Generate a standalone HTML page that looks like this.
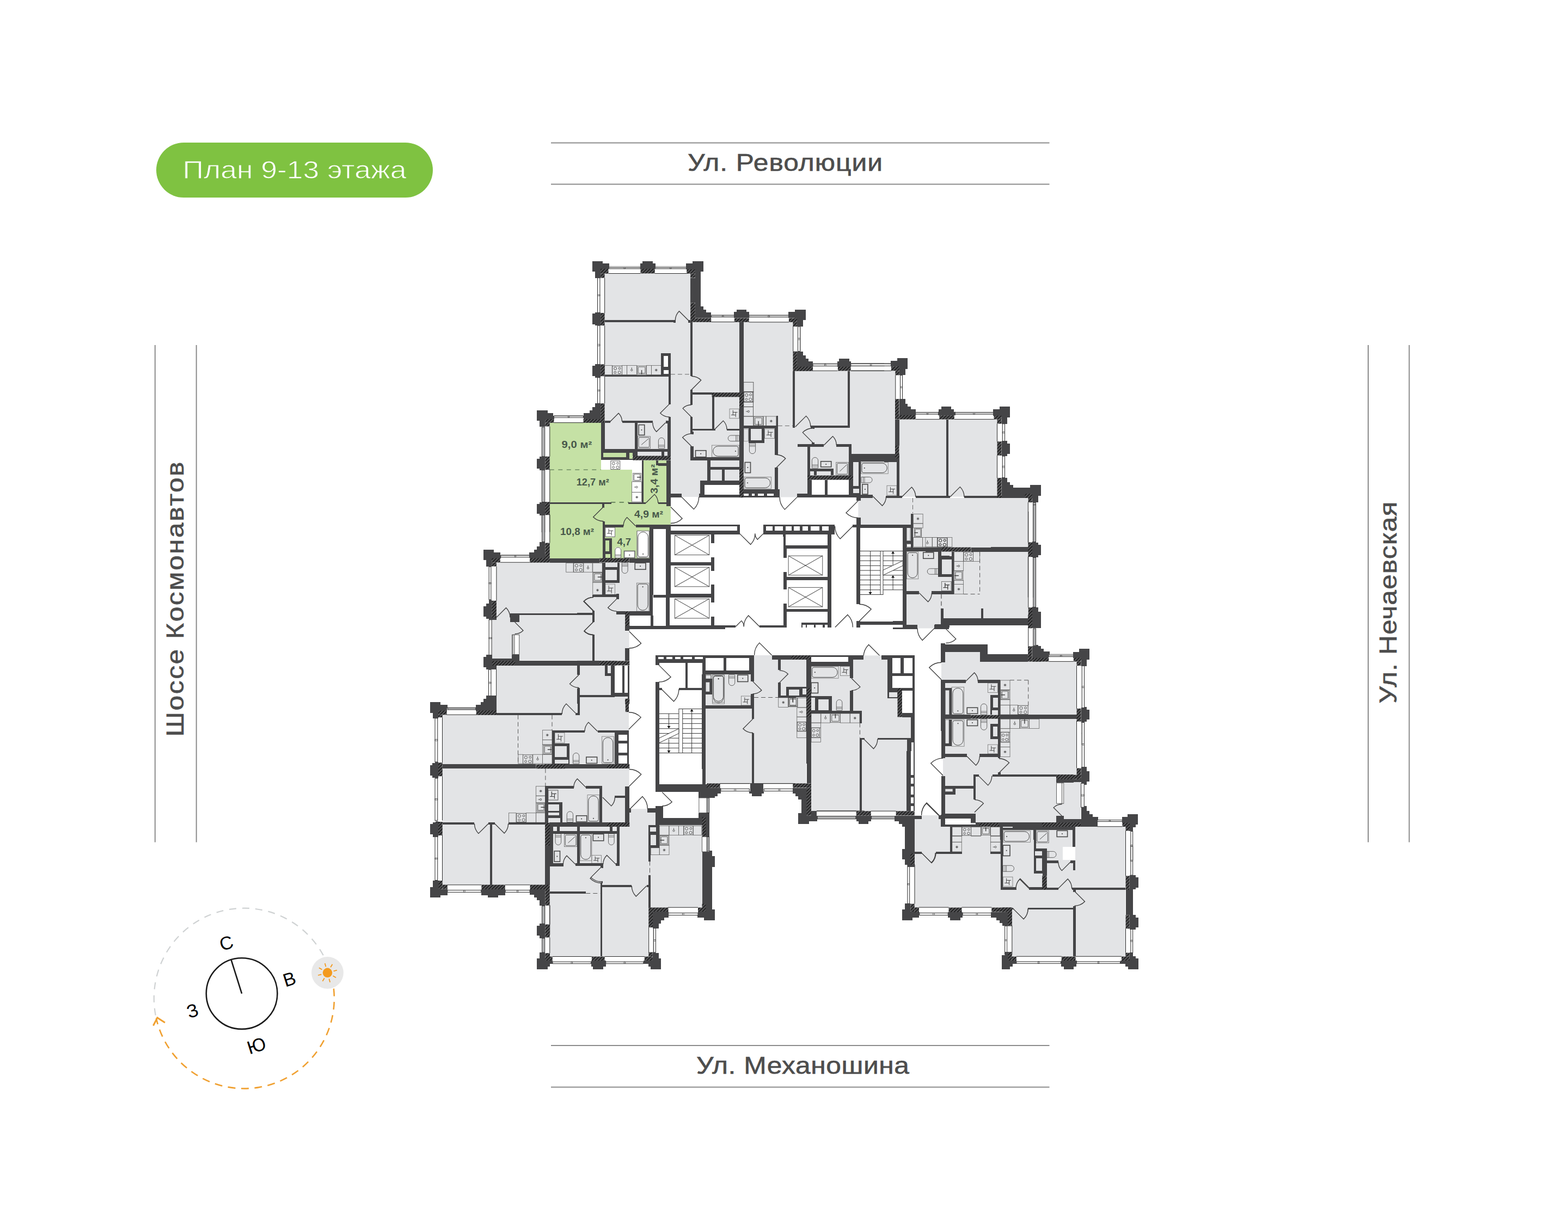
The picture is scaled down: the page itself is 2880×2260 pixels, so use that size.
<!DOCTYPE html>
<html lang="ru"><head><meta charset="utf-8"><title>План 9-13 этажа</title>
<style>
html,body{margin:0;padding:0;background:#fff;}
body{width:2880px;height:2260px;overflow:hidden;}
svg{display:block;}
text{font-family:"Liberation Sans",sans-serif;}
</style></head><body>
<svg xmlns="http://www.w3.org/2000/svg" width="2880" height="2260" viewBox="0 0 2880 2260">
<rect width="2880" height="2260" fill="#fff"/>
<g id="base">
<rect x="287" y="262" width="508" height="101" rx="50.5" fill="#7fc241"/>
<text x="541" y="327.5" font-size="47" fill="#fff" stroke="#7fc241" stroke-width="0.9" text-anchor="middle" textLength="411" lengthAdjust="spacingAndGlyphs">План 9-13 этажа</text>
<rect x="1012" y="261.5" width="915.5" height="2" fill="#8c8c8c"/>
<rect x="1012" y="337.5" width="915.5" height="2" fill="#8c8c8c"/>
<rect x="1012" y="1920" width="915.5" height="2" fill="#8c8c8c"/>
<rect x="1012" y="1996.5" width="915.5" height="2" fill="#8c8c8c"/>
<rect x="283.8" y="634" width="2" height="913.5" fill="#8c8c8c"/>
<rect x="359.7" y="634" width="2" height="913.5" fill="#8c8c8c"/>
<rect x="2512" y="634" width="2" height="913.5" fill="#8c8c8c"/>
<rect x="2587.4" y="634" width="2" height="913.5" fill="#8c8c8c"/>
<text transform="translate(1442,313.5) scale(1.13,1)" font-size="44" fill="#4d4d4d" stroke="#4d4d4d" stroke-width="0.6" text-anchor="middle" lengthAdjust="spacing" textLength="316.8">Ул. Революции</text>
<text transform="translate(1474.5,1973.3) scale(1.13,1)" font-size="44" fill="#4d4d4d" stroke="#4d4d4d" stroke-width="0.6" text-anchor="middle" lengthAdjust="spacing" textLength="346.0">Ул. Механошина</text>
<text transform="translate(336.5,1101) rotate(-90) scale(1.13,1)" font-size="44" fill="#4d4d4d" stroke="#4d4d4d" stroke-width="0.6" text-anchor="middle" lengthAdjust="spacing" textLength="446.9">Шоссе Космонавтов</text>
<text transform="translate(2565,1107) rotate(-90) scale(1.13,1)" font-size="44" fill="#4d4d4d" stroke="#4d4d4d" stroke-width="0.6" text-anchor="middle" lengthAdjust="spacing" textLength="328.3">Ул. Нечаевская</text>
</g>
<g id="compass">
<path d="M593.8,1755.3 A165.5,165.5 0 0 0 286.2,1867.5" fill="none" stroke="#cfd2d3" stroke-width="2.2" stroke-dasharray="13 11"/>
<path d="M612.9,1816.5 A165.5,165.5 0 0 1 286.9,1870.8" fill="none" stroke="#f0a030" stroke-width="2.6" stroke-dasharray="14 10.5"/>
<path d="M281.5,1884.5 L289,1870 L303,1879" fill="none" stroke="#f0a030" stroke-width="3"/>
<circle cx="601.5" cy="1787.3" r="29.4" fill="#e8e8e8"/>
<circle cx="601.5" cy="1787.3" r="8.7" fill="#f39a1e"/>
<line x1="612.6" y1="1784.3" x2="618.9" y2="1782.6" stroke="#f39a1e" stroke-width="1.8"/>
<line x1="611.5" y1="1793.0" x2="617.1" y2="1796.3" stroke="#f39a1e" stroke-width="1.8"/>
<line x1="604.5" y1="1798.4" x2="606.2" y2="1804.7" stroke="#f39a1e" stroke-width="1.8"/>
<line x1="595.8" y1="1797.3" x2="592.5" y2="1802.9" stroke="#f39a1e" stroke-width="1.8"/>
<line x1="590.4" y1="1790.3" x2="584.1" y2="1792.0" stroke="#f39a1e" stroke-width="1.8"/>
<line x1="591.5" y1="1781.5" x2="585.9" y2="1778.3" stroke="#f39a1e" stroke-width="1.8"/>
<line x1="598.5" y1="1776.2" x2="596.8" y2="1769.9" stroke="#f39a1e" stroke-width="1.8"/>
<line x1="607.2" y1="1777.3" x2="610.5" y2="1771.7" stroke="#f39a1e" stroke-width="1.8"/>
<circle cx="444.1" cy="1825.6" r="65.3" fill="none" stroke="#1a1a1a" stroke-width="2.6"/>
<line x1="444.1" y1="1825.6" x2="424.6" y2="1763.5" stroke="#1a1a1a" stroke-width="2.6"/>
<text transform="translate(415.5,1732.5) rotate(-17.5)" font-size="34" fill="#000" text-anchor="middle" dominant-baseline="central">С</text>
<text transform="translate(531.5,1799) rotate(-17.5)" font-size="34" fill="#000" text-anchor="middle" dominant-baseline="central">В</text>
<text transform="translate(353.5,1857) rotate(-17.5)" font-size="34" fill="#000" text-anchor="middle" dominant-baseline="central">З</text>
<text transform="translate(471,1921) rotate(-17.5)" font-size="34" fill="#000" text-anchor="middle" dominant-baseline="central">Ю</text>
</g>
<g id="plan" style="opacity:0.999">
<defs><pattern id="hatch" width="4.2" height="4.2" patternUnits="userSpaceOnUse" patternTransform="rotate(-45)"><rect width="5" height="5" fill="#555557"/><rect width="5" height="1.5" fill="#141414"/></pattern></defs>
<g id="L-gray" shape-rendering="crispEdges">
<rect x="1110.62" y="502.75" width="157.5" height="180.38" fill="#e3e4e6"/>
<rect x="1268.12" y="591.88" width="84.0" height="91.25" fill="#e3e4e6"/>
<rect x="1110.62" y="660.0" width="121.25" height="170.0" fill="#e3e4e6"/>
<rect x="1231.88" y="660.0" width="36.25" height="213.12" fill="#e3e4e6"/>
<rect x="1268.12" y="660.0" width="84.0" height="213.12" fill="#e3e4e6"/>
<rect x="1352.0" y="591.88" width="104.38" height="181.25" fill="#e3e4e6"/>
<rect x="1460.12" y="681.5" width="164.0" height="91.62" fill="#e3e4e6"/>
<rect x="1352.0" y="773.0" width="272.12" height="141.25" fill="#e3e4e6"/>
<rect x="1573.25" y="914.25" width="50.88" height="50.0" fill="#e3e4e6"/>
<rect x="960.0" y="1033.5" width="232.5" height="59.62" fill="#e3e4e6"/>
<rect x="1581.38" y="940.0" width="95.62" height="23.75" fill="#e3e4e6"/>
<rect x="1665.12" y="940.0" width="79.0" height="213.12" fill="#e3e4e6"/>
<rect x="1651.5" y="770.62" width="180.0" height="140.62" fill="#e3e4e6"/>
<rect x="1624.0" y="915.0" width="264.38" height="28.12" fill="#e3e4e6"/>
<rect x="1624.0" y="730.0" width="20.0" height="104.38" fill="#e3e4e6"/>
<rect x="1624.0" y="848.75" width="23.12" height="61.88" fill="#e3e4e6"/>
<rect x="1820.0" y="914.75" width="68.12" height="158.38" fill="#e3e4e6"/>
<rect x="1700.0" y="940.0" width="188.75" height="196.88" fill="#e3e4e6"/>
<rect x="1665.0" y="1130.0" width="63.12" height="25.0" fill="#e3e4e6"/>
<rect x="1731.88" y="1130.0" width="156.25" height="5.62" fill="#e3e4e6"/>
<rect x="1736.25" y="1198.12" width="63.75" height="51.88" fill="#e3e4e6"/>
<rect x="1728.75" y="1215.62" width="183.38" height="127.5" fill="#e3e4e6"/>
<rect x="1860.0" y="1215.62" width="117.25" height="127.5" fill="#e3e4e6"/>
<rect x="1728.75" y="1330.0" width="243.38" height="213.12" fill="#e3e4e6"/>
<rect x="1700.0" y="1496.88" width="28.75" height="46.25" fill="#e3e4e6"/>
<rect x="1560.0" y="681.25" width="84.38" height="131.88" fill="#e3e4e6"/>
<rect x="1231.88" y="873.0" width="126.25" height="40.75" fill="#e3e4e6"/>
<rect x="911.88" y="1033.5" width="194.38" height="179.62" fill="#e3e4e6"/>
<rect x="903.75" y="1138.75" width="36.25" height="74.38" fill="#e3e4e6"/>
<rect x="1092.25" y="1096.25" width="39.88" height="116.88" fill="#e3e4e6"/>
<rect x="1060.0" y="1080.0" width="88.12" height="134.38" fill="#e3e4e6"/>
<rect x="1130.0" y="1080.0" width="62.5" height="43.12" fill="#e3e4e6"/>
<rect x="1060.0" y="1222.5" width="62.5" height="70.62" fill="#e3e4e6"/>
<rect x="1060.0" y="1280.0" width="88.12" height="13.12" fill="#e3e4e6"/>
<rect x="1148.12" y="1160.0" width="8.12" height="31.25" fill="#e3e4e6"/>
<rect x="1295.62" y="1239.38" width="36.5" height="53.75" fill="#e3e4e6"/>
<rect x="911.88" y="1222.75" width="218.12" height="180.38" fill="#e3e4e6"/>
<rect x="860.0" y="1313.75" width="51.88" height="89.38" fill="#e3e4e6"/>
<rect x="1065.0" y="1280.62" width="90.0" height="61.0" fill="#e3e4e6"/>
<rect x="812.75" y="1313.5" width="239.38" height="90.88" fill="#e3e4e6"/>
<rect x="812.75" y="1412.25" width="239.38" height="70.88" fill="#e3e4e6"/>
<rect x="1000.0" y="1411.88" width="156.25" height="99.38" fill="#e3e4e6"/>
<rect x="1156.25" y="1485.62" width="48.75" height="127.5" fill="#e3e4e6"/>
<rect x="1009.38" y="1518.75" width="262.75" height="94.38" fill="#e3e4e6"/>
<rect x="1205.0" y="1515.62" width="67.12" height="97.5" fill="#e3e4e6"/>
<rect x="1296.0" y="1239.38" width="166.12" height="173.75" fill="#e3e4e6"/>
<rect x="1385.0" y="1204.38" width="77.12" height="208.75" fill="#e3e4e6"/>
<rect x="1440.0" y="1211.88" width="240.0" height="191.25" fill="#e3e4e6"/>
<rect x="812.75" y="1480.0" width="188.5" height="145.62" fill="#e3e4e6"/>
<rect x="1009.75" y="1591.88" width="42.38" height="101.25" fill="#e3e4e6"/>
<rect x="1009.75" y="1591.25" width="181.5" height="166.0" fill="#e3e4e6"/>
<rect x="1195.0" y="1570.0" width="37.12" height="97.5" fill="#e3e4e6"/>
<rect x="1102.5" y="1570.0" width="92.5" height="57.5" fill="#e3e4e6"/>
<rect x="1210.75" y="1516.25" width="78.75" height="116.88" fill="#e3e4e6"/>
<rect x="1295.75" y="1412.5" width="148.38" height="26.88" fill="#e3e4e6"/>
<rect x="1195.12" y="1560.0" width="94.38" height="107.25" fill="#e3e4e6"/>
<rect x="1300.0" y="1387.5" width="181.25" height="51.88" fill="#e3e4e6"/>
<rect x="1490.0" y="1387.5" width="82.12" height="102.5" fill="#e3e4e6"/>
<rect x="1489.75" y="1380.0" width="175.25" height="110.25" fill="#e3e4e6"/>
<rect x="1680.0" y="1497.5" width="48.75" height="95.62" fill="#e3e4e6"/>
<rect x="1860.0" y="1343.0" width="117.25" height="80.0" fill="#e3e4e6"/>
<rect x="1953.75" y="1437.38" width="31.25" height="68.12" fill="#e3e4e6"/>
<rect x="1975.0" y="1519.0" width="92.5" height="61.5" fill="#e3e4e6"/>
<rect x="1860.0" y="1524.25" width="110.0" height="31.88" fill="#e3e4e6"/>
<rect x="1680.0" y="1518.75" width="272.12" height="148.12" fill="#e3e4e6"/>
<rect x="1858.75" y="1666.88" width="93.38" height="46.25" fill="#e3e4e6"/>
<rect x="1840.0" y="1580.0" width="227.25" height="87.5" fill="#e3e4e6"/>
<rect x="1858.75" y="1667.5" width="208.5" height="89.75" fill="#e3e4e6"/>
<rect x="1680.0" y="1567.5" width="157.5" height="99.75" fill="#e3e4e6"/>
</g>
<g id="L-white" shape-rendering="crispEdges">
<rect x="1103.75" y="846.0" width="75.0" height="17.12" fill="#fff"/>
<rect x="1103.75" y="846.0" width="68.38" height="17.12" fill="#fff"/>
<rect x="1160.62" y="863.12" width="11.5" height="59.38" fill="#fff"/>
<rect x="1160.62" y="871.25" width="17.88" height="50.62" fill="#fff"/>
<rect x="1200.0" y="971.88" width="23.75" height="121.25" fill="#fff"/>
<rect x="1579.75" y="969.75" width="78.5" height="171.75" fill="#fff"/>
<rect x="1129.38" y="1222.5" width="23.75" height="50.0" fill="#fff"/>
<rect x="1210.62" y="1268.12" width="78.75" height="145.0" fill="#fff"/>
</g>
<g id="L-green" shape-rendering="crispEdges">
<rect x="1080.0" y="776.25" width="23.75" height="96.88" fill="#c5e1a5"/>
<rect x="1103.75" y="863.12" width="56.88" height="10.0" fill="#c5e1a5"/>
<rect x="1181.88" y="845.62" width="41.88" height="27.5" fill="#c5e1a5"/>
<rect x="1009.75" y="776.88" width="94.0" height="86.25" fill="#c5e1a5"/>
<rect x="1009.75" y="863.12" width="150.88" height="59.38" fill="#c5e1a5"/>
<rect x="1009.75" y="926.25" width="162.38" height="26.88" fill="#c5e1a5"/>
<rect x="1009.75" y="880.0" width="150.88" height="42.5" fill="#c5e1a5"/>
<rect x="1181.88" y="871.25" width="41.88" height="51.25" fill="#c5e1a5"/>
<rect x="1009.75" y="926.0" width="96.75" height="99.62" fill="#c5e1a5"/>
<rect x="1106.5" y="922.5" width="125.62" height="42.5" fill="#c5e1a5"/>
<rect x="1110.62" y="964.38" width="81.88" height="61.25" fill="#c5e1a5"/>
</g>
<g id="L-fix" shape-rendering="auto">
<rect x="1118.12" y="491.5" width="58.12" height="2.25" fill="#fff" stroke="#2a2a2a" stroke-width="1.0"/>
<line x1="1118.12" y1="489.5" x2="1176.25" y2="489.5" stroke="#9a9a9a" stroke-width="1.0"/>
<rect x="1145.99" y="491.5" width="2.4" height="2.25" fill="none" stroke="#2a2a2a" stroke-width="0.7"/>
<line x1="1117.5" y1="502.5" x2="1176.5" y2="502.5" stroke="#2a2a2a" stroke-width="1.0"/>
<rect x="1202.25" y="491.5" width="59.0" height="2.25" fill="#fff" stroke="#2a2a2a" stroke-width="1.0"/>
<line x1="1202.25" y1="489.5" x2="1261.25" y2="489.5" stroke="#9a9a9a" stroke-width="1.0"/>
<rect x="1230.55" y="491.5" width="2.4" height="2.25" fill="none" stroke="#2a2a2a" stroke-width="0.7"/>
<line x1="1202.75" y1="502.5" x2="1261.5" y2="502.5" stroke="#2a2a2a" stroke-width="1.0"/>
<rect x="1306.25" y="580.0" width="43.12" height="2.5" fill="#fff" stroke="#2a2a2a" stroke-width="1.0"/>
<line x1="1306.25" y1="578.5" x2="1349.38" y2="578.5" stroke="#9a9a9a" stroke-width="1.0"/>
<rect x="1326.61" y="580.0" width="2.4" height="2.5" fill="none" stroke="#2a2a2a" stroke-width="0.7"/>
<line x1="1306.25" y1="591.5" x2="1350.0" y2="591.5" stroke="#2a2a2a" stroke-width="1.0"/>
<rect x="1097.5" y="510.62" width="4.38" height="63.75" fill="#fff" stroke="#2a2a2a" stroke-width="1.0"/>
<rect x="1097.5" y="541.3" width="4.38" height="2.4" fill="none" stroke="#2a2a2a" stroke-width="0.7"/>
<line x1="1110.62" y1="510.62" x2="1110.62" y2="575.0" stroke="#2a2a2a" stroke-width="1.0"/>
<rect x="1097.5" y="598.12" width="4.38" height="71.88" fill="#fff" stroke="#2a2a2a" stroke-width="1.0"/>
<rect x="1097.5" y="632.86" width="4.38" height="2.4" fill="none" stroke="#2a2a2a" stroke-width="0.7"/>
<line x1="1110.62" y1="598.12" x2="1110.62" y2="670.0" stroke="#2a2a2a" stroke-width="1.0"/>
<rect x="1097.5" y="693.75" width="4.38" height="47.5" fill="#fff" stroke="#2a2a2a" stroke-width="1.0"/>
<rect x="1097.5" y="716.3" width="4.38" height="2.4" fill="none" stroke="#2a2a2a" stroke-width="0.7"/>
<line x1="1110.62" y1="691.25" x2="1110.62" y2="741.25" stroke="#2a2a2a" stroke-width="1.0"/>
<rect x="1110.62" y="671.5" width="13.75" height="17.0" fill="none" stroke="#666" stroke-width="0.8"/>
<rect x="1124.75" y="672.25" width="17.75" height="15.88" fill="none" stroke="#3b3b3b" stroke-width="0.8"/>
<circle cx="1130.08" cy="677.01" r="2.54" fill="none" stroke="#3b3b3b" stroke-width="0.8"/>
<circle cx="1138.06" cy="676.7" r="1.91" fill="none" stroke="#3b3b3b" stroke-width="0.8"/>
<circle cx="1129.72" cy="684.16" r="1.91" fill="none" stroke="#3b3b3b" stroke-width="0.8"/>
<circle cx="1137.71" cy="684.16" r="2.54" fill="none" stroke="#3b3b3b" stroke-width="0.8"/>
<rect x="1142.5" y="671.5" width="9.0" height="17.0" fill="none" stroke="#666" stroke-width="0.8"/>
<rect x="1151.5" y="671.5" width="17.88" height="17.0" fill="none" stroke="#666" stroke-width="0.8"/>
<circle cx="1160.25" cy="680.0" r="1.6" fill="none" stroke="#3b3b3b" stroke-width="0.8"/>
<line x1="1160.25" y1="678.4" x2="1160.25" y2="675.2" stroke="#3b3b3b" stroke-width="0.8"/>
<rect x="1170.25" y="672.25" width="16.62" height="15.5" fill="none" stroke="#555" stroke-width="0.8"/>
<rect x="1172.24" y="674.25" width="12.63" height="11.51" fill="none" stroke="#777" stroke-width="1.2" rx="1.0"/>
<line x1="1178.56" y1="680.0" x2="1178.56" y2="687.75" stroke="#3b3b3b" stroke-width="1.4"/>
<rect x="1187.5" y="671.5" width="9.0" height="17.0" fill="none" stroke="#666" stroke-width="0.8"/>
<rect x="1196.5" y="671.5" width="17.88" height="17.0" fill="none" stroke="#666" stroke-width="0.8"/>
<line x1="1202.75" y1="680.0" x2="1207.75" y2="680.0" stroke="#3b3b3b" stroke-width="0.7"/>
<line x1="1203.48" y1="678.23" x2="1207.02" y2="681.77" stroke="#3b3b3b" stroke-width="0.7"/>
<line x1="1205.25" y1="677.5" x2="1205.25" y2="682.5" stroke="#3b3b3b" stroke-width="0.7"/>
<line x1="1207.02" y1="678.23" x2="1203.48" y2="681.77" stroke="#3b3b3b" stroke-width="0.7"/>
<line x1="1231.88" y1="687.75" x2="1268.12" y2="687.75" stroke="#6a6a6a" stroke-width="1.0" stroke-dasharray="8 5"/>
<rect x="1340.0" y="751.25" width="17.5" height="17.5" fill="none" stroke="#777" stroke-width="0.8"/>
<rect x="1346.3" y="757.55" width="4.9" height="4.9" fill="none" stroke="#3b3b3b" stroke-width="0.9"/>
<line x1="1342.97" y1="762.45" x2="1346.3" y2="762.45" stroke="#3b3b3b" stroke-width="0.9"/>
<line x1="1351.2" y1="757.55" x2="1354.53" y2="757.55" stroke="#3b3b3b" stroke-width="0.9"/>
<line x1="1346.3" y1="757.55" x2="1346.3" y2="753.7" stroke="#3b3b3b" stroke-width="0.9"/>
<line x1="1351.2" y1="762.45" x2="1351.2" y2="766.3" stroke="#3b3b3b" stroke-width="0.9"/>
<rect x="1173.12" y="780.62" width="10.62" height="18.75" fill="none" stroke="#4a4a4a" stroke-width="1.6"/>
<circle cx="1178.44" cy="790.0" r="1.0" fill="#3b3b3b"/>
<rect x="1171.25" y="801.88" width="23.12" height="21.88" fill="none" stroke="#666" stroke-width="0.8"/>
<rect x="1173.1" y="803.73" width="19.43" height="18.18" fill="none" stroke="#3b3b3b" stroke-width="0.8" rx="1.85"/>
<line x1="1178.19" y1="817.19" x2="1190.91" y2="806.25" stroke="#3b3b3b" stroke-width="0.9"/>
<path d="M1209.38,823.75 L1209.38,810.0 A5.62,5.62 0 0 1 1220.62,810.0 L1220.62,823.75 Z" fill="none" stroke="#555" stroke-width="0.9"/>
<line x1="1209.38" y1="817.94" x2="1220.62" y2="817.94" stroke="#555" stroke-width="0.8"/>
<line x1="1209.38" y1="820.26" x2="1220.62" y2="820.26" stroke="#555" stroke-width="0.8"/>
<rect x="1121.88" y="846.88" width="16.88" height="15.62" fill="none" stroke="#3b3b3b" stroke-width="0.8"/>
<circle cx="1126.94" cy="851.56" r="2.5" fill="none" stroke="#3b3b3b" stroke-width="0.8"/>
<circle cx="1134.53" cy="851.25" r="1.88" fill="none" stroke="#3b3b3b" stroke-width="0.8"/>
<circle cx="1126.6" cy="858.59" r="1.88" fill="none" stroke="#3b3b3b" stroke-width="0.8"/>
<circle cx="1134.19" cy="858.59" r="2.5" fill="none" stroke="#3b3b3b" stroke-width="0.8"/>
<rect x="1375.75" y="580.0" width="72.75" height="2.75" fill="#fff" stroke="#2a2a2a" stroke-width="1.0"/>
<line x1="1375.75" y1="578.5" x2="1448.5" y2="578.5" stroke="#9a9a9a" stroke-width="1.0"/>
<rect x="1410.92" y="580.0" width="2.4" height="2.75" fill="none" stroke="#2a2a2a" stroke-width="0.7"/>
<line x1="1375.75" y1="591.88" x2="1448.88" y2="591.88" stroke="#2a2a2a" stroke-width="1.0"/>
<rect x="1465.5" y="600.0" width="4.0" height="45.62" fill="#fff" stroke="#2a2a2a" stroke-width="1.0"/>
<line x1="1470.25" y1="600.0" x2="1470.25" y2="645.62" stroke="#9a9a9a" stroke-width="1.0"/>
<rect x="1465.5" y="621.61" width="4.0" height="2.4" fill="none" stroke="#2a2a2a" stroke-width="0.7"/>
<line x1="1456.75" y1="600.0" x2="1456.75" y2="645.62" stroke="#2a2a2a" stroke-width="1.0"/>
<rect x="1493.0" y="669.0" width="45.5" height="3.5" fill="#fff" stroke="#2a2a2a" stroke-width="1.0"/>
<line x1="1493.0" y1="667.5" x2="1538.5" y2="667.5" stroke="#9a9a9a" stroke-width="1.0"/>
<rect x="1514.55" y="669.0" width="2.4" height="3.5" fill="none" stroke="#2a2a2a" stroke-width="0.7"/>
<line x1="1493.0" y1="681.25" x2="1538.5" y2="681.25" stroke="#2a2a2a" stroke-width="1.0"/>
<rect x="1563.0" y="669.0" width="61.12" height="3.5" fill="#fff" stroke="#2a2a2a" stroke-width="1.0"/>
<line x1="1563.0" y1="667.5" x2="1624.12" y2="667.5" stroke="#9a9a9a" stroke-width="1.0"/>
<rect x="1592.36" y="669.0" width="2.4" height="3.5" fill="none" stroke="#2a2a2a" stroke-width="0.7"/>
<line x1="1563.0" y1="681.25" x2="1624.12" y2="681.25" stroke="#2a2a2a" stroke-width="1.0"/>
<rect x="1365.75" y="702.25" width="18.12" height="17.75" fill="none" stroke="#3b3b3b" stroke-width="0.8"/>
<rect x="1366.38" y="720.62" width="16.25" height="17.5" fill="none" stroke="#3b3b3b" stroke-width="0.8"/>
<circle cx="1371.25" cy="725.88" r="2.6" fill="none" stroke="#3b3b3b" stroke-width="0.8"/>
<circle cx="1378.56" cy="725.52" r="1.95" fill="none" stroke="#3b3b3b" stroke-width="0.8"/>
<circle cx="1370.92" cy="733.75" r="1.95" fill="none" stroke="#3b3b3b" stroke-width="0.8"/>
<circle cx="1378.24" cy="733.75" r="2.6" fill="none" stroke="#3b3b3b" stroke-width="0.8"/>
<rect x="1365.75" y="720.0" width="18.12" height="18.75" fill="none" stroke="#3b3b3b" stroke-width="0.8"/>
<rect x="1365.75" y="738.75" width="17.75" height="8.75" fill="none" stroke="#3b3b3b" stroke-width="0.8"/>
<rect x="1365.75" y="747.5" width="17.75" height="17.5" fill="none" stroke="#3b3b3b" stroke-width="0.8"/>
<circle cx="1374.75" cy="756.0" r="1.6" fill="none" stroke="#3b3b3b" stroke-width="0.8"/>
<line x1="1373.15" y1="756.0" x2="1369.95" y2="756.0" stroke="#3b3b3b" stroke-width="0.8"/>
<rect x="1365.75" y="765.0" width="18.12" height="17.5" fill="none" stroke="#666" stroke-width="0.8"/>
<rect x="1384.75" y="765.62" width="16.62" height="16.25" fill="none" stroke="#555" stroke-width="0.8"/>
<rect x="1386.74" y="767.62" width="12.64" height="12.26" fill="none" stroke="#777" stroke-width="1.2" rx="1.0"/>
<line x1="1393.06" y1="773.75" x2="1393.06" y2="781.88" stroke="#3b3b3b" stroke-width="1.4"/>
<rect x="1383.88" y="765.0" width="18.12" height="17.5" fill="none" stroke="#666" stroke-width="0.8"/>
<rect x="1402.0" y="765.0" width="5.0" height="17.5" fill="none" stroke="#666" stroke-width="0.8"/>
<rect x="1407.0" y="765.0" width="18.75" height="17.5" fill="none" stroke="#666" stroke-width="0.8"/>
<line x1="1413.88" y1="773.75" x2="1418.88" y2="773.75" stroke="#3b3b3b" stroke-width="0.7"/>
<line x1="1414.61" y1="771.98" x2="1418.14" y2="775.52" stroke="#3b3b3b" stroke-width="0.7"/>
<line x1="1416.38" y1="771.25" x2="1416.38" y2="776.25" stroke="#3b3b3b" stroke-width="0.7"/>
<line x1="1418.14" y1="771.98" x2="1414.61" y2="775.52" stroke="#3b3b3b" stroke-width="0.7"/>
<rect x="1366.0" y="788.25" width="8.25" height="22.5" fill="none" stroke="#888" stroke-width="0.8"/>
<rect x="1404.5" y="788.0" width="18.12" height="17.5" fill="none" stroke="#777" stroke-width="0.8"/>
<rect x="1411.03" y="794.3" width="5.07" height="4.9" fill="none" stroke="#3b3b3b" stroke-width="0.9"/>
<line x1="1407.58" y1="799.2" x2="1411.03" y2="799.2" stroke="#3b3b3b" stroke-width="0.9"/>
<line x1="1416.1" y1="794.3" x2="1419.54" y2="794.3" stroke="#3b3b3b" stroke-width="0.9"/>
<line x1="1411.03" y1="794.3" x2="1411.03" y2="790.45" stroke="#3b3b3b" stroke-width="0.9"/>
<line x1="1416.1" y1="799.2" x2="1416.1" y2="803.05" stroke="#3b3b3b" stroke-width="0.9"/>
<path d="M1376.38,814.25 L1376.38,828.0 A5.62,5.62 0 0 0 1387.62,828.0 L1387.62,814.25 Z" fill="none" stroke="#555" stroke-width="0.9"/>
<line x1="1376.38" y1="820.06" x2="1387.62" y2="820.06" stroke="#555" stroke-width="0.8"/>
<line x1="1376.38" y1="817.74" x2="1387.62" y2="817.74" stroke="#555" stroke-width="0.8"/>
<rect x="1368.25" y="849.5" width="10.25" height="19.12" fill="none" stroke="#4a4a4a" stroke-width="1.6"/>
<circle cx="1373.38" cy="859.06" r="1.0" fill="#3b3b3b"/>
<rect x="1366.38" y="876.5" width="50.0" height="21.5" fill="none" stroke="#777" stroke-width="0.8"/>
<path d="M1371.26,878.22 L1405.62,878.22 A9.03,9.03 0 0 1 1405.62,896.28 L1371.26,896.28 Q1368.1,896.28 1368.1,893.12 L1368.1,881.38 Q1368.1,878.22 1371.26,878.22 Z" fill="none" stroke="#4a4a4a" stroke-width="1"/>
<circle cx="1373.06" cy="887.25" r="1.0" fill="#3b3b3b"/>
<path d="M1491.38,859.88 L1491.38,846.12 A5.62,5.62 0 0 1 1502.62,846.12 L1502.62,859.88 Z" fill="none" stroke="#555" stroke-width="0.9"/>
<line x1="1491.38" y1="854.06" x2="1502.62" y2="854.06" stroke="#555" stroke-width="0.8"/>
<line x1="1491.38" y1="856.39" x2="1502.62" y2="856.39" stroke="#555" stroke-width="0.8"/>
<rect x="1507.62" y="847.75" width="19.12" height="10.25" fill="none" stroke="#4a4a4a" stroke-width="1.6"/>
<circle cx="1517.19" cy="852.88" r="1.0" fill="#3b3b3b"/>
<rect x="1535.75" y="849.5" width="22.5" height="23.5" fill="none" stroke="#666" stroke-width="0.8"/>
<rect x="1537.55" y="851.3" width="18.9" height="19.9" fill="none" stroke="#3b3b3b" stroke-width="0.8" rx="1.8"/>
<line x1="1542.5" y1="865.95" x2="1554.88" y2="854.2" stroke="#3b3b3b" stroke-width="0.9"/>
<rect x="1581.38" y="849.5" width="49.88" height="20.75" fill="none" stroke="#777" stroke-width="0.8"/>
<path d="M1586.09,851.16 L1620.88,851.16 A8.72,8.72 0 0 1 1620.88,868.59 L1586.09,868.59 Q1583.04,868.59 1583.04,865.54 L1583.04,854.21 Q1583.04,851.16 1586.09,851.16 Z" fill="none" stroke="#4a4a4a" stroke-width="1"/>
<circle cx="1587.83" cy="859.88" r="1.0" fill="#3b3b3b"/>
<path d="M1582.0,876.5 L1596.75,876.5 A5.25,5.25 0 0 1 1596.75,887.0 L1582.0,887.0 Z" fill="none" stroke="#555" stroke-width="0.9"/>
<line x1="1588.0" y1="876.5" x2="1588.0" y2="887.0" stroke="#555" stroke-width="0.8"/>
<line x1="1585.6" y1="876.5" x2="1585.6" y2="887.0" stroke="#555" stroke-width="0.8"/>
<rect x="1583.88" y="889.88" width="10.0" height="18.12" fill="none" stroke="#4a4a4a" stroke-width="1.6"/>
<circle cx="1588.88" cy="898.94" r="1.0" fill="#3b3b3b"/>
<line x1="1428.88" y1="782.38" x2="1456.38" y2="782.38" stroke="#6a6a6a" stroke-width="1.0" stroke-dasharray="8 5"/>
<rect x="1017.5" y="764.38" width="54.0" height="2.88" fill="#fff" stroke="#2a2a2a" stroke-width="1.0"/>
<line x1="1017.5" y1="763.5" x2="1071.5" y2="763.5" stroke="#9a9a9a" stroke-width="1.0"/>
<rect x="1043.3" y="764.38" width="2.4" height="2.88" fill="none" stroke="#2a2a2a" stroke-width="0.7"/>
<line x1="1017.5" y1="776.62" x2="1071.5" y2="776.62" stroke="#2a2a2a" stroke-width="1.0"/>
<rect x="995.25" y="785.0" width="5.38" height="53.75" fill="#c9cacc" stroke="#2a2a2a" stroke-width="1.0"/>
<line x1="997.94" y1="785.0" x2="997.94" y2="838.75" stroke="#555" stroke-width="0.6"/>
<line x1="1009.75" y1="783.5" x2="1009.75" y2="838.75" stroke="#2a2a2a" stroke-width="1.0"/>
<rect x="995.25" y="863.75" width="5.38" height="58.75" fill="#c9cacc" stroke="#2a2a2a" stroke-width="1.0"/>
<line x1="997.94" y1="863.75" x2="997.94" y2="922.5" stroke="#555" stroke-width="0.6"/>
<line x1="1009.75" y1="863.12" x2="1009.75" y2="922.5" stroke="#2a2a2a" stroke-width="1.0"/>
<rect x="995.25" y="946.88" width="5.38" height="30.62" fill="#c9cacc" stroke="#2a2a2a" stroke-width="1.0"/>
<line x1="997.94" y1="946.88" x2="997.94" y2="977.5" stroke="#555" stroke-width="0.6"/>
<line x1="1009.75" y1="946.25" x2="1009.75" y2="977.5" stroke="#2a2a2a" stroke-width="1.0"/>
<line x1="1009.75" y1="863.12" x2="1103.75" y2="863.12" stroke="#5d7a55" stroke-width="1.2" stroke-dasharray="8 7.5"/>
<line x1="1121.88" y1="922.88" x2="1155.0" y2="922.88" stroke="#5d7a55" stroke-width="1.2" stroke-dasharray="8 7.5"/>
<rect x="1162.75" y="869.38" width="14.5" height="15.0" fill="none" stroke="#555" stroke-width="0.8"/>
<rect x="1164.49" y="871.12" width="11.02" height="11.52" fill="none" stroke="#777" stroke-width="1.2" rx="0.87"/>
<line x1="1170.0" y1="876.88" x2="1177.25" y2="876.88" stroke="#3b3b3b" stroke-width="1.4"/>
<rect x="1160.62" y="885.0" width="17.88" height="19.38" fill="none" stroke="#666" stroke-width="0.8"/>
<circle cx="1169.5" cy="895.0" r="1.6" fill="none" stroke="#3b3b3b" stroke-width="0.8"/>
<line x1="1167.9" y1="895.0" x2="1164.7" y2="895.0" stroke="#3b3b3b" stroke-width="0.8"/>
<rect x="1160.62" y="904.38" width="17.88" height="17.5" fill="none" stroke="#666" stroke-width="0.8"/>
<line x1="1167.25" y1="913.5" x2="1172.25" y2="913.5" stroke="#3b3b3b" stroke-width="0.7"/>
<line x1="1167.98" y1="911.73" x2="1171.52" y2="915.27" stroke="#3b3b3b" stroke-width="0.7"/>
<line x1="1169.75" y1="911.0" x2="1169.75" y2="916.0" stroke="#3b3b3b" stroke-width="0.7"/>
<line x1="1171.52" y1="911.73" x2="1167.98" y2="915.27" stroke="#3b3b3b" stroke-width="0.7"/>
<line x1="1009.75" y1="945.62" x2="1009.75" y2="997.5" stroke="#2a2a2a" stroke-width="1.0"/>
<rect x="995.62" y="946.25" width="5.0" height="49.38" fill="#c9cacc" stroke="#2a2a2a" stroke-width="1.0"/>
<line x1="998.12" y1="946.25" x2="998.12" y2="995.62" stroke="#555" stroke-width="0.6"/>
<line x1="1122.5" y1="922.88" x2="1154.38" y2="922.88" stroke="#5d7a55" stroke-width="1.2" stroke-dasharray="8 7.5"/>
<rect x="1111.88" y="969.0" width="17.5" height="17.25" fill="#fff" stroke="#666" stroke-width="0.8"/>
<rect x="1111.88" y="969.0" width="17.5" height="17.25" fill="none" stroke="#777" stroke-width="0.8"/>
<rect x="1118.17" y="975.21" width="4.9" height="4.83" fill="none" stroke="#3b3b3b" stroke-width="0.9"/>
<line x1="1114.85" y1="980.04" x2="1118.17" y2="980.04" stroke="#3b3b3b" stroke-width="0.9"/>
<line x1="1123.08" y1="975.21" x2="1126.4" y2="975.21" stroke="#3b3b3b" stroke-width="0.9"/>
<line x1="1118.17" y1="975.21" x2="1118.17" y2="971.41" stroke="#3b3b3b" stroke-width="0.9"/>
<line x1="1123.08" y1="980.04" x2="1123.08" y2="983.84" stroke="#3b3b3b" stroke-width="0.9"/>
<rect x="1129.75" y="1005.62" width="10.88" height="19.38" fill="#fff" stroke="none" stroke-width="0" rx="3.81"/>
<path d="M1129.75,1025.0 L1129.75,1011.06 A5.44,5.44 0 0 1 1140.62,1011.06 L1140.62,1025.0 Z" fill="none" stroke="#555" stroke-width="0.9"/>
<line x1="1129.75" y1="1019.19" x2="1140.62" y2="1019.19" stroke="#555" stroke-width="0.8"/>
<line x1="1129.75" y1="1021.51" x2="1140.62" y2="1021.51" stroke="#555" stroke-width="0.8"/>
<rect x="1146.5" y="1012.5" width="19.5" height="12.5" fill="#fff" stroke="#666" stroke-width="1.6"/>
<circle cx="1156.25" cy="1019.75" r="1.0" fill="#3b3b3b"/>
<rect x="1170.0" y="975.62" width="22.25" height="49.38" fill="#fff" stroke="#777" stroke-width="0.8"/>
<rect x="1170.0" y="975.62" width="22.25" height="49.38" fill="none" stroke="#777" stroke-width="0.8"/>
<path d="M1171.78,1019.95 L1171.78,986.75 A9.34,9.34 0 0 1 1190.47,986.75 L1190.47,1019.95 Q1190.47,1023.22 1187.2,1023.22 L1175.05,1023.22 Q1171.78,1023.22 1171.78,1019.95 Z" fill="none" stroke="#4a4a4a" stroke-width="1"/>
<circle cx="1181.12" cy="1018.08" r="1.0" fill="#3b3b3b"/>
<rect x="1039.75" y="1034.38" width="13.38" height="16.88" fill="none" stroke="#666" stroke-width="0.8"/>
<rect x="1053.75" y="1034.38" width="17.5" height="16.88" fill="none" stroke="#3b3b3b" stroke-width="0.8"/>
<circle cx="1059.0" cy="1039.44" r="2.7" fill="none" stroke="#3b3b3b" stroke-width="0.8"/>
<circle cx="1066.88" cy="1039.1" r="2.02" fill="none" stroke="#3b3b3b" stroke-width="0.8"/>
<circle cx="1058.65" cy="1047.03" r="2.02" fill="none" stroke="#3b3b3b" stroke-width="0.8"/>
<circle cx="1066.53" cy="1047.03" r="2.7" fill="none" stroke="#3b3b3b" stroke-width="0.8"/>
<rect x="1071.88" y="1034.38" width="16.25" height="16.88" fill="none" stroke="#666" stroke-width="0.8"/>
<circle cx="1080.0" cy="1043.75" r="1.6" fill="none" stroke="#3b3b3b" stroke-width="0.8"/>
<line x1="1080.0" y1="1042.15" x2="1080.0" y2="1038.95" stroke="#3b3b3b" stroke-width="0.8"/>
<rect x="1088.75" y="1034.38" width="17.5" height="16.88" fill="none" stroke="#666" stroke-width="0.8"/>
<rect x="1090.0" y="1052.5" width="15.62" height="15.62" fill="none" stroke="#555" stroke-width="0.8"/>
<rect x="1091.88" y="1054.38" width="11.88" height="11.88" fill="none" stroke="#777" stroke-width="1.2" rx="0.94"/>
<line x1="1097.81" y1="1060.31" x2="1105.62" y2="1060.31" stroke="#3b3b3b" stroke-width="1.4"/>
<rect x="1088.75" y="1051.25" width="17.5" height="18.75" fill="none" stroke="#666" stroke-width="0.8"/>
<rect x="1088.75" y="1070.0" width="17.5" height="22.5" fill="none" stroke="#666" stroke-width="0.8"/>
<line x1="1095.0" y1="1084.38" x2="1100.0" y2="1084.38" stroke="#3b3b3b" stroke-width="0.7"/>
<line x1="1095.73" y1="1082.61" x2="1099.27" y2="1086.14" stroke="#3b3b3b" stroke-width="0.7"/>
<line x1="1097.5" y1="1081.88" x2="1097.5" y2="1086.88" stroke="#3b3b3b" stroke-width="0.7"/>
<line x1="1099.27" y1="1082.61" x2="1095.73" y2="1086.14" stroke="#3b3b3b" stroke-width="0.7"/>
<rect x="1111.88" y="1073.12" width="17.5" height="20.0" fill="none" stroke="#777" stroke-width="0.8"/>
<rect x="1118.17" y="1080.33" width="4.9" height="5.6" fill="none" stroke="#3b3b3b" stroke-width="0.9"/>
<line x1="1114.85" y1="1085.92" x2="1118.17" y2="1085.92" stroke="#3b3b3b" stroke-width="0.9"/>
<line x1="1123.08" y1="1080.33" x2="1126.4" y2="1080.33" stroke="#3b3b3b" stroke-width="0.9"/>
<line x1="1118.17" y1="1080.33" x2="1118.17" y2="1075.92" stroke="#3b3b3b" stroke-width="0.9"/>
<line x1="1123.08" y1="1085.92" x2="1123.08" y2="1090.33" stroke="#3b3b3b" stroke-width="0.9"/>
<path d="M1142.25,1034.38 L1142.25,1048.31 A5.44,5.44 0 0 0 1153.12,1048.31 L1153.12,1034.38 Z" fill="none" stroke="#555" stroke-width="0.9"/>
<line x1="1142.25" y1="1040.19" x2="1153.12" y2="1040.19" stroke="#555" stroke-width="0.8"/>
<line x1="1142.25" y1="1037.86" x2="1153.12" y2="1037.86" stroke="#555" stroke-width="0.8"/>
<rect x="1166.25" y="1034.38" width="19.75" height="11.88" fill="none" stroke="#4a4a4a" stroke-width="1.6"/>
<circle cx="1176.12" cy="1040.31" r="1.0" fill="#3b3b3b"/>
<rect x="1239.38" y="983.5" width="63.38" height="36.12" fill="#fff" stroke="#555" stroke-width="1.0"/>
<line x1="1239.38" y1="983.5" x2="1302.75" y2="1019.62" stroke="#3b3b3b" stroke-width="1.0"/>
<line x1="1239.38" y1="1019.62" x2="1302.75" y2="983.5" stroke="#3b3b3b" stroke-width="1.0"/>
<rect x="1239.38" y="1042.25" width="63.38" height="35.62" fill="#fff" stroke="#555" stroke-width="1.0"/>
<line x1="1239.38" y1="1042.25" x2="1302.75" y2="1077.88" stroke="#3b3b3b" stroke-width="1.0"/>
<line x1="1239.38" y1="1077.88" x2="1302.75" y2="1042.25" stroke="#3b3b3b" stroke-width="1.0"/>
<rect x="1239.38" y="1100.25" width="63.38" height="35.75" fill="#fff" stroke="#555" stroke-width="1.0"/>
<line x1="1239.38" y1="1100.25" x2="1302.75" y2="1136.0" stroke="#3b3b3b" stroke-width="1.0"/>
<line x1="1239.38" y1="1136.0" x2="1302.75" y2="1100.25" stroke="#3b3b3b" stroke-width="1.0"/>
<rect x="1448.12" y="1021.25" width="62.62" height="35.62" fill="#fff" stroke="#555" stroke-width="1.0"/>
<line x1="1448.12" y1="1021.25" x2="1510.75" y2="1056.88" stroke="#3b3b3b" stroke-width="1.0"/>
<line x1="1448.12" y1="1056.88" x2="1510.75" y2="1021.25" stroke="#3b3b3b" stroke-width="1.0"/>
<rect x="1448.12" y="1079.38" width="62.62" height="35.62" fill="#fff" stroke="#555" stroke-width="1.0"/>
<line x1="1448.12" y1="1079.38" x2="1510.75" y2="1115.0" stroke="#3b3b3b" stroke-width="1.0"/>
<line x1="1448.12" y1="1115.0" x2="1510.75" y2="1079.38" stroke="#3b3b3b" stroke-width="1.0"/>
<line x1="1579.75" y1="1012.5" x2="1617.0" y2="1012.5" stroke="#3b3b3b" stroke-width="1.0"/>
<line x1="1579.75" y1="1021.25" x2="1617.0" y2="1021.25" stroke="#3b3b3b" stroke-width="1.0"/>
<line x1="1579.75" y1="1030.25" x2="1617.0" y2="1030.25" stroke="#3b3b3b" stroke-width="1.0"/>
<line x1="1579.75" y1="1039.38" x2="1617.0" y2="1039.38" stroke="#3b3b3b" stroke-width="1.0"/>
<line x1="1579.75" y1="1048.12" x2="1617.0" y2="1048.12" stroke="#3b3b3b" stroke-width="1.0"/>
<line x1="1579.75" y1="1056.88" x2="1617.0" y2="1056.88" stroke="#3b3b3b" stroke-width="1.0"/>
<line x1="1579.75" y1="1065.62" x2="1617.0" y2="1065.62" stroke="#3b3b3b" stroke-width="1.0"/>
<line x1="1579.75" y1="1074.75" x2="1617.0" y2="1074.75" stroke="#3b3b3b" stroke-width="1.0"/>
<line x1="1579.75" y1="1083.75" x2="1617.0" y2="1083.75" stroke="#3b3b3b" stroke-width="1.0"/>
<line x1="1579.75" y1="1092.5" x2="1617.0" y2="1092.5" stroke="#3b3b3b" stroke-width="1.0"/>
<line x1="1622.0" y1="1012.5" x2="1658.25" y2="1012.5" stroke="#3b3b3b" stroke-width="1.0"/>
<line x1="1622.0" y1="1021.25" x2="1658.25" y2="1021.25" stroke="#3b3b3b" stroke-width="1.0"/>
<line x1="1622.0" y1="1030.25" x2="1658.25" y2="1030.25" stroke="#3b3b3b" stroke-width="1.0"/>
<line x1="1622.0" y1="1039.38" x2="1658.25" y2="1039.38" stroke="#3b3b3b" stroke-width="1.0"/>
<line x1="1622.0" y1="1048.12" x2="1658.25" y2="1048.12" stroke="#3b3b3b" stroke-width="1.0"/>
<line x1="1622.0" y1="1056.88" x2="1658.25" y2="1056.88" stroke="#3b3b3b" stroke-width="1.0"/>
<line x1="1622.0" y1="1065.62" x2="1658.25" y2="1065.62" stroke="#3b3b3b" stroke-width="1.0"/>
<line x1="1622.0" y1="1074.75" x2="1658.25" y2="1074.75" stroke="#3b3b3b" stroke-width="1.0"/>
<line x1="1622.0" y1="1083.75" x2="1658.25" y2="1083.75" stroke="#3b3b3b" stroke-width="1.0"/>
<rect x="1617.0" y="1012.5" width="5.0" height="80.0" fill="#fff" stroke="#3b3b3b" stroke-width="1.0"/>
<polygon points="1622.0,1047.5 1658.25,1030.25 1658.25,1039.38 1622.0,1056.88" fill="#fff" stroke="#3b3b3b" stroke-width="1.0"/>
<line x1="1598.5" y1="1012.5" x2="1598.5" y2="1090.25" stroke="#3b3b3b" stroke-width="1.0"/>
<polygon points="1595.5,1088.0 1601.5,1088.0 1598.5,1092.5" fill="#111"/>
<line x1="1640.12" y1="1083.75" x2="1640.12" y2="1059.12" stroke="#3b3b3b" stroke-width="1.0"/>
<polygon points="1637.12,1061.38 1643.12,1061.38 1640.12,1056.88" fill="#111"/>
<line x1="1640.12" y1="1038.75" x2="1640.12" y2="1015.0" stroke="#3b3b3b" stroke-width="1.0"/>
<polygon points="1637.12,1017.25 1643.12,1017.25 1640.12,1012.75" fill="#111"/>
<rect x="1665.12" y="968.12" width="6.88" height="25.62" fill="none" stroke="#555" stroke-width="0.8"/>
<rect x="1665.5" y="999.75" width="8.38" height="5.25" fill="#fff" stroke="#555" stroke-width="0.8"/>
<rect x="1677.62" y="944.38" width="17.5" height="17.5" fill="none" stroke="#666" stroke-width="0.8"/>
<line x1="1683.5" y1="953.12" x2="1688.5" y2="953.12" stroke="#3b3b3b" stroke-width="0.7"/>
<line x1="1684.23" y1="951.36" x2="1687.77" y2="954.89" stroke="#3b3b3b" stroke-width="0.7"/>
<line x1="1686.0" y1="950.62" x2="1686.0" y2="955.62" stroke="#3b3b3b" stroke-width="0.7"/>
<line x1="1687.77" y1="951.36" x2="1684.23" y2="954.89" stroke="#3b3b3b" stroke-width="0.7"/>
<rect x="1677.62" y="961.88" width="17.5" height="8.12" fill="none" stroke="#666" stroke-width="0.8"/>
<rect x="1679.5" y="970.62" width="13.12" height="16.25" fill="none" stroke="#555" stroke-width="0.8"/>
<rect x="1681.08" y="972.2" width="9.98" height="13.1" fill="none" stroke="#777" stroke-width="1.2" rx="0.79"/>
<line x1="1686.06" y1="978.75" x2="1679.5" y2="978.75" stroke="#3b3b3b" stroke-width="1.4"/>
<rect x="1677.62" y="987.5" width="16.88" height="17.5" fill="none" stroke="#666" stroke-width="0.8"/>
<rect x="1694.5" y="987.5" width="17.75" height="17.5" fill="none" stroke="#666" stroke-width="0.8"/>
<circle cx="1703.5" cy="997.75" r="1.6" fill="none" stroke="#3b3b3b" stroke-width="0.8"/>
<line x1="1703.5" y1="996.15" x2="1703.5" y2="992.95" stroke="#3b3b3b" stroke-width="0.8"/>
<rect x="1712.25" y="987.5" width="9.38" height="17.5" fill="none" stroke="#666" stroke-width="0.8"/>
<rect x="1722.0" y="988.12" width="17.5" height="16.88" fill="none" stroke="#3b3b3b" stroke-width="0.8"/>
<circle cx="1727.25" cy="993.19" r="2.7" fill="none" stroke="#3b3b3b" stroke-width="0.8"/>
<circle cx="1735.12" cy="992.85" r="2.02" fill="none" stroke="#3b3b3b" stroke-width="0.8"/>
<circle cx="1726.9" cy="1000.78" r="2.02" fill="none" stroke="#3b3b3b" stroke-width="0.8"/>
<circle cx="1734.78" cy="1000.78" r="2.7" fill="none" stroke="#3b3b3b" stroke-width="0.8"/>
<rect x="1665.5" y="1013.75" width="21.25" height="50.0" fill="none" stroke="#777" stroke-width="0.8"/>
<path d="M1667.2,1018.57 L1667.2,1053.12 A8.93,8.93 0 0 0 1685.05,1053.12 L1685.05,1018.57 Q1685.05,1015.45 1681.93,1015.45 L1670.32,1015.45 Q1667.2,1015.45 1667.2,1018.57 Z" fill="none" stroke="#4a4a4a" stroke-width="1"/>
<circle cx="1676.12" cy="1020.36" r="1.0" fill="#3b3b3b"/>
<rect x="1695.75" y="1015.0" width="19.0" height="11.25" fill="none" stroke="#4a4a4a" stroke-width="1.6"/>
<circle cx="1705.25" cy="1020.62" r="1.0" fill="#3b3b3b"/>
<path d="M1723.25,1044.75 L1708.5,1044.75 A5.25,5.25 0 0 0 1708.5,1055.25 L1723.25,1055.25 Z" fill="none" stroke="#555" stroke-width="0.9"/>
<line x1="1717.25" y1="1044.75" x2="1717.25" y2="1055.25" stroke="#555" stroke-width="0.8"/>
<line x1="1719.65" y1="1044.75" x2="1719.65" y2="1055.25" stroke="#555" stroke-width="0.8"/>
<rect x="1729.5" y="1068.5" width="17.5" height="17.12" fill="none" stroke="#777" stroke-width="0.8"/>
<rect x="1735.8" y="1074.66" width="4.9" height="4.8" fill="none" stroke="#3b3b3b" stroke-width="0.9"/>
<line x1="1732.47" y1="1079.46" x2="1735.8" y2="1079.46" stroke="#3b3b3b" stroke-width="0.9"/>
<line x1="1740.7" y1="1074.66" x2="1744.03" y2="1074.66" stroke="#3b3b3b" stroke-width="0.9"/>
<line x1="1735.8" y1="1074.66" x2="1735.8" y2="1070.9" stroke="#3b3b3b" stroke-width="0.9"/>
<line x1="1740.7" y1="1079.46" x2="1740.7" y2="1083.23" stroke="#3b3b3b" stroke-width="0.9"/>
<line x1="1728.88" y1="1091.88" x2="1728.88" y2="1118.12" stroke="#6a6a6a" stroke-width="1.0" stroke-dasharray="8 5"/>
<rect x="1681.75" y="758.5" width="43.5" height="2.75" fill="#fff" stroke="#2a2a2a" stroke-width="1.0"/>
<line x1="1681.75" y1="756.88" x2="1725.25" y2="756.88" stroke="#9a9a9a" stroke-width="1.0"/>
<rect x="1702.3" y="758.5" width="2.4" height="2.75" fill="none" stroke="#2a2a2a" stroke-width="0.7"/>
<line x1="1681.75" y1="770.38" x2="1725.5" y2="770.38" stroke="#2a2a2a" stroke-width="1.0"/>
<rect x="1752.75" y="758.5" width="72.5" height="2.75" fill="#fff" stroke="#2a2a2a" stroke-width="1.0"/>
<line x1="1752.75" y1="756.88" x2="1825.25" y2="756.88" stroke="#9a9a9a" stroke-width="1.0"/>
<rect x="1787.8" y="758.5" width="2.4" height="2.75" fill="none" stroke="#2a2a2a" stroke-width="0.7"/>
<line x1="1752.75" y1="770.38" x2="1825.5" y2="770.38" stroke="#2a2a2a" stroke-width="1.0"/>
<rect x="1841.25" y="778.75" width="4.25" height="31.88" fill="#fff" stroke="#2a2a2a" stroke-width="1.0"/>
<rect x="1841.25" y="793.49" width="4.25" height="2.4" fill="none" stroke="#2a2a2a" stroke-width="0.7"/>
<line x1="1831.5" y1="778.5" x2="1831.5" y2="811.25" stroke="#2a2a2a" stroke-width="1.0"/>
<rect x="1841.25" y="838.12" width="4.25" height="39.38" fill="#fff" stroke="#2a2a2a" stroke-width="1.0"/>
<rect x="1841.25" y="856.61" width="4.25" height="2.4" fill="none" stroke="#2a2a2a" stroke-width="0.7"/>
<line x1="1831.5" y1="836.88" x2="1831.5" y2="878.12" stroke="#2a2a2a" stroke-width="1.0"/>
<line x1="1676.5" y1="915.0" x2="1676.5" y2="943.12" stroke="#6a6a6a" stroke-width="1.0" stroke-dasharray="8 5"/>
<rect x="1629.0" y="892.25" width="18.12" height="17.75" fill="none" stroke="#777" stroke-width="0.8"/>
<rect x="1635.53" y="898.64" width="5.08" height="4.97" fill="none" stroke="#3b3b3b" stroke-width="0.9"/>
<line x1="1632.08" y1="903.61" x2="1635.53" y2="903.61" stroke="#3b3b3b" stroke-width="0.9"/>
<line x1="1640.6" y1="898.64" x2="1644.04" y2="898.64" stroke="#3b3b3b" stroke-width="0.9"/>
<line x1="1635.53" y1="898.64" x2="1635.53" y2="894.74" stroke="#3b3b3b" stroke-width="0.9"/>
<line x1="1640.6" y1="903.61" x2="1640.6" y2="907.51" stroke="#3b3b3b" stroke-width="0.9"/>
<rect x="1897.5" y="923.75" width="5.0" height="72.5" fill="#c9cacc" stroke="#2a2a2a" stroke-width="1.0"/>
<line x1="1900.0" y1="923.75" x2="1900.0" y2="996.25" stroke="#555" stroke-width="0.6"/>
<line x1="1888.38" y1="923.12" x2="1888.38" y2="996.88" stroke="#2a2a2a" stroke-width="1.0"/>
<rect x="1897.5" y="1024.38" width="5.0" height="73.12" fill="#c9cacc" stroke="#2a2a2a" stroke-width="1.0"/>
<line x1="1900.0" y1="1024.38" x2="1900.0" y2="1097.5" stroke="#555" stroke-width="0.6"/>
<line x1="1888.38" y1="1023.12" x2="1888.38" y2="1097.5" stroke="#2a2a2a" stroke-width="1.0"/>
<rect x="1897.75" y="927.5" width="4.75" height="68.12" fill="#c9cacc" stroke="#2a2a2a" stroke-width="1.0"/>
<line x1="1900.12" y1="927.5" x2="1900.12" y2="995.62" stroke="#555" stroke-width="0.6"/>
<line x1="1888.75" y1="940.0" x2="1888.75" y2="996.5" stroke="#2a2a2a" stroke-width="1.0"/>
<rect x="1897.75" y="1024.38" width="4.75" height="91.25" fill="#c9cacc" stroke="#2a2a2a" stroke-width="1.0"/>
<line x1="1900.12" y1="1024.38" x2="1900.12" y2="1115.62" stroke="#555" stroke-width="0.6"/>
<line x1="1888.75" y1="1023.12" x2="1888.75" y2="1116.25" stroke="#2a2a2a" stroke-width="1.0"/>
<rect x="1700.0" y="987.5" width="12.5" height="17.5" fill="none" stroke="#666" stroke-width="0.8"/>
<rect x="1712.5" y="987.5" width="9.0" height="17.5" fill="none" stroke="#666" stroke-width="0.8"/>
<rect x="1721.88" y="988.12" width="17.88" height="16.88" fill="none" stroke="#3b3b3b" stroke-width="0.8"/>
<circle cx="1727.24" cy="993.19" r="2.7" fill="none" stroke="#3b3b3b" stroke-width="0.8"/>
<circle cx="1735.28" cy="992.85" r="2.02" fill="none" stroke="#3b3b3b" stroke-width="0.8"/>
<circle cx="1726.88" cy="1000.78" r="2.02" fill="none" stroke="#3b3b3b" stroke-width="0.8"/>
<circle cx="1734.92" cy="1000.78" r="2.7" fill="none" stroke="#3b3b3b" stroke-width="0.8"/>
<rect x="1740.0" y="987.5" width="8.75" height="17.5" fill="none" stroke="#666" stroke-width="0.8"/>
<rect x="1752.5" y="1013.75" width="17.12" height="17.75" fill="none" stroke="#666" stroke-width="0.8"/>
<rect x="1770.0" y="1014.38" width="17.5" height="16.88" fill="none" stroke="#3b3b3b" stroke-width="0.8"/>
<circle cx="1775.25" cy="1019.44" r="2.7" fill="none" stroke="#3b3b3b" stroke-width="0.8"/>
<circle cx="1783.12" cy="1019.1" r="2.02" fill="none" stroke="#3b3b3b" stroke-width="0.8"/>
<circle cx="1774.9" cy="1027.03" r="2.02" fill="none" stroke="#3b3b3b" stroke-width="0.8"/>
<circle cx="1782.78" cy="1027.03" r="2.7" fill="none" stroke="#3b3b3b" stroke-width="0.8"/>
<rect x="1787.5" y="1013.75" width="11.88" height="17.75" fill="none" stroke="#666" stroke-width="0.8"/>
<rect x="1752.5" y="1031.5" width="17.12" height="17.0" fill="none" stroke="#666" stroke-width="0.8"/>
<circle cx="1761.0" cy="1040.0" r="1.6" fill="none" stroke="#3b3b3b" stroke-width="0.8"/>
<line x1="1759.4" y1="1040.0" x2="1756.2" y2="1040.0" stroke="#3b3b3b" stroke-width="0.8"/>
<rect x="1753.12" y="1049.0" width="15.62" height="17.25" fill="none" stroke="#555" stroke-width="0.8"/>
<rect x="1755.0" y="1050.88" width="11.88" height="13.5" fill="none" stroke="#777" stroke-width="1.2" rx="0.94"/>
<line x1="1760.94" y1="1057.62" x2="1753.12" y2="1057.62" stroke="#3b3b3b" stroke-width="1.4"/>
<rect x="1752.5" y="1066.5" width="17.12" height="7.0" fill="none" stroke="#666" stroke-width="0.8"/>
<rect x="1752.5" y="1073.5" width="17.12" height="18.0" fill="none" stroke="#666" stroke-width="0.8"/>
<line x1="1758.5" y1="1082.5" x2="1763.5" y2="1082.5" stroke="#3b3b3b" stroke-width="0.7"/>
<line x1="1759.23" y1="1080.73" x2="1762.77" y2="1084.27" stroke="#3b3b3b" stroke-width="0.7"/>
<line x1="1761.0" y1="1080.0" x2="1761.0" y2="1085.0" stroke="#3b3b3b" stroke-width="0.7"/>
<line x1="1762.77" y1="1080.73" x2="1759.23" y2="1084.27" stroke="#3b3b3b" stroke-width="0.7"/>
<line x1="1799.62" y1="1013.75" x2="1799.62" y2="1091.62" stroke="#555" stroke-width="1.0" stroke-dasharray="8 5"/>
<line x1="1769.62" y1="1091.62" x2="1799.62" y2="1091.62" stroke="#555" stroke-width="1.0" stroke-dasharray="8 5"/>
<line x1="1729.0" y1="1091.88" x2="1729.0" y2="1118.12" stroke="#6a6a6a" stroke-width="1.0" stroke-dasharray="8 5"/>
<rect x="1729.38" y="1068.5" width="17.88" height="17.5" fill="none" stroke="#777" stroke-width="0.8"/>
<rect x="1735.81" y="1074.8" width="5.0" height="4.9" fill="none" stroke="#3b3b3b" stroke-width="0.9"/>
<line x1="1732.41" y1="1079.7" x2="1735.81" y2="1079.7" stroke="#3b3b3b" stroke-width="0.9"/>
<line x1="1740.82" y1="1074.8" x2="1744.21" y2="1074.8" stroke="#3b3b3b" stroke-width="0.9"/>
<line x1="1735.81" y1="1074.8" x2="1735.81" y2="1070.95" stroke="#3b3b3b" stroke-width="0.9"/>
<line x1="1740.82" y1="1079.7" x2="1740.82" y2="1083.55" stroke="#3b3b3b" stroke-width="0.9"/>
<rect x="1897.75" y="1155.0" width="4.75" height="31.25" fill="#c9cacc" stroke="#2a2a2a" stroke-width="1.0"/>
<line x1="1900.12" y1="1155.0" x2="1900.12" y2="1186.25" stroke="#555" stroke-width="0.6"/>
<line x1="1888.75" y1="1154.38" x2="1888.75" y2="1187.5" stroke="#2a2a2a" stroke-width="1.0"/>
<rect x="1736.25" y="1268.12" width="7.25" height="45.0" fill="none" stroke="#666" stroke-width="0.8"/>
<rect x="1748.12" y="1262.5" width="22.5" height="50.62" fill="none" stroke="#777" stroke-width="0.8"/>
<path d="M1749.92,1308.02 L1749.92,1273.75 A9.45,9.45 0 0 1 1768.83,1273.75 L1768.83,1308.02 Q1768.83,1311.33 1765.52,1311.33 L1753.23,1311.33 Q1749.92,1311.33 1749.92,1308.02 Z" fill="none" stroke="#4a4a4a" stroke-width="1"/>
<circle cx="1759.38" cy="1306.13" r="1.0" fill="#3b3b3b"/>
<rect x="1776.25" y="1300.25" width="19.38" height="11.0" fill="none" stroke="#4a4a4a" stroke-width="1.6"/>
<circle cx="1785.94" cy="1305.75" r="1.0" fill="#3b3b3b"/>
<path d="M1801.5,1313.12 L1801.5,1298.75 A5.62,5.62 0 0 1 1812.75,1298.75 L1812.75,1313.12 Z" fill="none" stroke="#555" stroke-width="0.9"/>
<line x1="1801.5" y1="1307.12" x2="1812.75" y2="1307.12" stroke="#555" stroke-width="0.8"/>
<line x1="1801.5" y1="1309.53" x2="1812.75" y2="1309.53" stroke="#555" stroke-width="0.8"/>
<rect x="1814.38" y="1255.0" width="18.12" height="17.5" fill="none" stroke="#777" stroke-width="0.8"/>
<rect x="1820.9" y="1261.3" width="5.07" height="4.9" fill="none" stroke="#3b3b3b" stroke-width="0.9"/>
<line x1="1817.46" y1="1266.2" x2="1820.9" y2="1266.2" stroke="#3b3b3b" stroke-width="0.9"/>
<line x1="1825.97" y1="1261.3" x2="1829.42" y2="1261.3" stroke="#3b3b3b" stroke-width="0.9"/>
<line x1="1820.9" y1="1261.3" x2="1820.9" y2="1257.45" stroke="#3b3b3b" stroke-width="0.9"/>
<line x1="1825.97" y1="1266.2" x2="1825.97" y2="1270.05" stroke="#3b3b3b" stroke-width="0.9"/>
<rect x="1837.5" y="1250.0" width="17.5" height="17.5" fill="none" stroke="#666" stroke-width="0.8"/>
<line x1="1843.5" y1="1258.75" x2="1848.5" y2="1258.75" stroke="#3b3b3b" stroke-width="0.7"/>
<line x1="1844.23" y1="1256.98" x2="1847.77" y2="1260.52" stroke="#3b3b3b" stroke-width="0.7"/>
<line x1="1846.0" y1="1256.25" x2="1846.0" y2="1261.25" stroke="#3b3b3b" stroke-width="0.7"/>
<line x1="1847.77" y1="1256.98" x2="1844.23" y2="1260.52" stroke="#3b3b3b" stroke-width="0.7"/>
<rect x="1838.75" y="1268.5" width="14.38" height="16.5" fill="none" stroke="#555" stroke-width="0.8"/>
<rect x="1840.47" y="1270.22" width="10.93" height="13.05" fill="none" stroke="#777" stroke-width="1.2" rx="0.86"/>
<line x1="1845.94" y1="1276.75" x2="1838.75" y2="1276.75" stroke="#3b3b3b" stroke-width="1.4"/>
<rect x="1837.5" y="1267.5" width="17.5" height="18.12" fill="none" stroke="#666" stroke-width="0.8"/>
<rect x="1837.5" y="1285.62" width="17.5" height="10.0" fill="none" stroke="#666" stroke-width="0.8"/>
<rect x="1837.5" y="1295.62" width="17.5" height="17.5" fill="none" stroke="#666" stroke-width="0.8"/>
<rect x="1855.0" y="1295.62" width="14.62" height="17.5" fill="none" stroke="#666" stroke-width="0.8"/>
<circle cx="1862.25" cy="1305.0" r="1.6" fill="none" stroke="#3b3b3b" stroke-width="0.8"/>
<line x1="1862.25" y1="1303.4" x2="1862.25" y2="1300.2" stroke="#3b3b3b" stroke-width="0.8"/>
<rect x="1870.0" y="1296.25" width="18.12" height="16.25" fill="none" stroke="#3b3b3b" stroke-width="0.8"/>
<circle cx="1875.44" cy="1301.12" r="2.6" fill="none" stroke="#3b3b3b" stroke-width="0.8"/>
<circle cx="1883.59" cy="1300.8" r="1.95" fill="none" stroke="#3b3b3b" stroke-width="0.8"/>
<circle cx="1875.08" cy="1308.44" r="1.95" fill="none" stroke="#3b3b3b" stroke-width="0.8"/>
<circle cx="1883.23" cy="1308.44" r="2.6" fill="none" stroke="#3b3b3b" stroke-width="0.8"/>
<line x1="1855.0" y1="1249.75" x2="1888.75" y2="1249.75" stroke="#555" stroke-width="1.0" stroke-dasharray="8 5"/>
<line x1="1888.75" y1="1249.75" x2="1888.75" y2="1296.25" stroke="#555" stroke-width="1.0" stroke-dasharray="8 5"/>
<rect x="1776.25" y="1322.5" width="19.38" height="11.0" fill="none" stroke="#4a4a4a" stroke-width="1.6"/>
<circle cx="1785.94" cy="1328.0" r="1.0" fill="#3b3b3b"/>
<path d="M1801.5,1321.25 L1801.5,1335.62 A5.62,5.62 0 0 0 1812.75,1335.62 L1812.75,1321.25 Z" fill="none" stroke="#555" stroke-width="0.9"/>
<line x1="1801.5" y1="1327.25" x2="1812.75" y2="1327.25" stroke="#555" stroke-width="0.8"/>
<line x1="1801.5" y1="1324.85" x2="1812.75" y2="1324.85" stroke="#555" stroke-width="0.8"/>
<rect x="1837.5" y="1321.25" width="17.5" height="17.25" fill="none" stroke="#666" stroke-width="0.8"/>
<rect x="1855.0" y="1321.25" width="17.75" height="17.25" fill="none" stroke="#666" stroke-width="0.8"/>
<circle cx="1863.75" cy="1330.0" r="1.6" fill="none" stroke="#3b3b3b" stroke-width="0.8"/>
<line x1="1863.75" y1="1328.4" x2="1863.75" y2="1325.2" stroke="#3b3b3b" stroke-width="0.8"/>
<rect x="1873.5" y="1321.5" width="16.88" height="16.62" fill="none" stroke="#555" stroke-width="0.8"/>
<rect x="1875.53" y="1323.53" width="12.82" height="12.57" fill="none" stroke="#777" stroke-width="1.2" rx="1.01"/>
<line x1="1881.94" y1="1329.81" x2="1881.94" y2="1321.5" stroke="#3b3b3b" stroke-width="1.4"/>
<rect x="1890.62" y="1321.25" width="18.12" height="17.25" fill="none" stroke="#666" stroke-width="0.8"/>
<rect x="1926.25" y="1204.0" width="45.25" height="2.5" fill="#fff" stroke="#2a2a2a" stroke-width="1.0"/>
<line x1="1926.25" y1="1202.0" x2="1971.5" y2="1202.0" stroke="#9a9a9a" stroke-width="1.0"/>
<rect x="1947.67" y="1204.0" width="2.4" height="2.5" fill="none" stroke="#2a2a2a" stroke-width="0.7"/>
<line x1="1926.25" y1="1215.38" x2="1971.88" y2="1215.38" stroke="#2a2a2a" stroke-width="1.0"/>
<rect x="1987.25" y="1223.5" width="4.25" height="77.5" fill="#fff" stroke="#2a2a2a" stroke-width="1.0"/>
<rect x="1987.25" y="1261.05" width="4.25" height="2.4" fill="none" stroke="#2a2a2a" stroke-width="0.7"/>
<line x1="1977.5" y1="1223.12" x2="1977.5" y2="1301.88" stroke="#2a2a2a" stroke-width="1.0"/>
<rect x="1987.25" y="1327.5" width="4.25" height="40.0" fill="#fff" stroke="#2a2a2a" stroke-width="1.0"/>
<rect x="1987.25" y="1346.3" width="4.25" height="2.4" fill="none" stroke="#2a2a2a" stroke-width="0.7"/>
<line x1="1977.5" y1="1325.62" x2="1977.5" y2="1367.5" stroke="#2a2a2a" stroke-width="1.0"/>
<rect x="1736.25" y="1322.25" width="6.88" height="44.0" fill="none" stroke="#666" stroke-width="0.8"/>
<rect x="1748.12" y="1322.25" width="22.88" height="49.0" fill="none" stroke="#777" stroke-width="0.8"/>
<path d="M1749.95,1327.44 L1749.95,1359.81 A9.61,9.61 0 0 0 1769.17,1359.81 L1769.17,1327.44 Q1769.17,1324.08 1765.81,1324.08 L1753.32,1324.08 Q1749.95,1324.08 1749.95,1327.44 Z" fill="none" stroke="#4a4a4a" stroke-width="1"/>
<circle cx="1759.56" cy="1329.36" r="1.0" fill="#3b3b3b"/>
<rect x="1814.38" y="1368.12" width="17.88" height="16.88" fill="none" stroke="#777" stroke-width="0.8"/>
<rect x="1820.81" y="1374.2" width="5.0" height="4.72" fill="none" stroke="#3b3b3b" stroke-width="0.9"/>
<line x1="1817.41" y1="1378.92" x2="1820.81" y2="1378.92" stroke="#3b3b3b" stroke-width="0.9"/>
<line x1="1825.82" y1="1374.2" x2="1829.21" y2="1374.2" stroke="#3b3b3b" stroke-width="0.9"/>
<line x1="1820.81" y1="1374.2" x2="1820.81" y2="1370.49" stroke="#3b3b3b" stroke-width="0.9"/>
<line x1="1825.82" y1="1378.92" x2="1825.82" y2="1382.64" stroke="#3b3b3b" stroke-width="0.9"/>
<rect x="1837.5" y="1338.75" width="17.5" height="6.5" fill="none" stroke="#666" stroke-width="0.8"/>
<rect x="1838.12" y="1345.62" width="15.0" height="17.5" fill="none" stroke="#3b3b3b" stroke-width="0.8"/>
<circle cx="1842.62" cy="1350.88" r="2.4" fill="none" stroke="#3b3b3b" stroke-width="0.8"/>
<circle cx="1849.38" cy="1350.53" r="1.8" fill="none" stroke="#3b3b3b" stroke-width="0.8"/>
<circle cx="1842.33" cy="1358.75" r="1.8" fill="none" stroke="#3b3b3b" stroke-width="0.8"/>
<circle cx="1849.08" cy="1358.75" r="2.4" fill="none" stroke="#3b3b3b" stroke-width="0.8"/>
<rect x="1837.5" y="1345.25" width="17.5" height="18.5" fill="none" stroke="#666" stroke-width="0.8"/>
<rect x="1837.5" y="1363.75" width="17.5" height="8.75" fill="none" stroke="#666" stroke-width="0.8"/>
<rect x="1837.5" y="1372.5" width="17.5" height="18.12" fill="none" stroke="#666" stroke-width="0.8"/>
<line x1="1843.5" y1="1381.5" x2="1848.5" y2="1381.5" stroke="#3b3b3b" stroke-width="0.7"/>
<line x1="1844.23" y1="1379.73" x2="1847.77" y2="1383.27" stroke="#3b3b3b" stroke-width="0.7"/>
<line x1="1846.0" y1="1379.0" x2="1846.0" y2="1384.0" stroke="#3b3b3b" stroke-width="0.7"/>
<line x1="1847.77" y1="1379.73" x2="1844.23" y2="1383.27" stroke="#3b3b3b" stroke-width="0.7"/>
<rect x="1736.0" y="1449.38" width="14.0" height="5.0" fill="none" stroke="#666" stroke-width="0.8"/>
<rect x="1940.62" y="1438.75" width="10.0" height="37.5" fill="#fff" stroke="#3b3b3b" stroke-width="0.8"/>
<rect x="1950.62" y="1438.75" width="3.12" height="37.5" fill="#fff" stroke="#3b3b3b" stroke-width="0.8"/>
<rect x="1766.88" y="1520.0" width="16.62" height="15.0" fill="none" stroke="#3b3b3b" stroke-width="0.8"/>
<circle cx="1771.86" cy="1524.5" r="2.4" fill="none" stroke="#3b3b3b" stroke-width="0.8"/>
<circle cx="1779.34" cy="1524.2" r="1.8" fill="none" stroke="#3b3b3b" stroke-width="0.8"/>
<circle cx="1771.53" cy="1531.25" r="1.8" fill="none" stroke="#3b3b3b" stroke-width="0.8"/>
<circle cx="1779.01" cy="1531.25" r="2.4" fill="none" stroke="#3b3b3b" stroke-width="0.8"/>
<rect x="1802.5" y="1520.25" width="16.25" height="14.12" fill="none" stroke="#555" stroke-width="0.8"/>
<rect x="1804.45" y="1522.2" width="12.35" height="10.23" fill="none" stroke="#777" stroke-width="1.2" rx="0.97"/>
<line x1="1810.62" y1="1527.31" x2="1810.62" y2="1520.25" stroke="#3b3b3b" stroke-width="1.4"/>
<rect x="1748.75" y="1519.38" width="18.12" height="16.25" fill="none" stroke="#666" stroke-width="0.8"/>
<rect x="1783.5" y="1519.38" width="18.38" height="16.25" fill="none" stroke="#666" stroke-width="0.8"/>
<rect x="1819.38" y="1519.38" width="17.5" height="16.25" fill="none" stroke="#666" stroke-width="0.8"/>
<rect x="1842.5" y="1526.25" width="50.0" height="21.25" fill="none" stroke="#777" stroke-width="0.8"/>
<path d="M1847.32,1527.95 L1881.88,1527.95 A8.93,8.93 0 0 1 1881.88,1545.8 L1847.32,1545.8 Q1844.2,1545.8 1844.2,1542.68 L1844.2,1531.07 Q1844.2,1527.95 1847.32,1527.95 Z" fill="none" stroke="#4a4a4a" stroke-width="1"/>
<circle cx="1849.11" cy="1536.88" r="1.0" fill="#3b3b3b"/>
<rect x="1903.12" y="1526.25" width="23.12" height="22.5" fill="none" stroke="#666" stroke-width="0.8"/>
<rect x="1904.97" y="1528.1" width="19.43" height="18.8" fill="none" stroke="#3b3b3b" stroke-width="0.8" rx="1.85"/>
<line x1="1910.06" y1="1542.0" x2="1922.78" y2="1530.75" stroke="#3b3b3b" stroke-width="0.9"/>
<rect x="1941.25" y="1526.25" width="19.38" height="11.25" fill="none" stroke="#4a4a4a" stroke-width="1.6"/>
<circle cx="1950.94" cy="1531.88" r="1.0" fill="#3b3b3b"/>
<rect x="1562.75" y="668.5" width="73.75" height="3.75" fill="#fff" stroke="#2a2a2a" stroke-width="1.0"/>
<line x1="1562.75" y1="667.25" x2="1636.5" y2="667.25" stroke="#9a9a9a" stroke-width="1.0"/>
<rect x="1598.42" y="668.5" width="2.4" height="3.75" fill="none" stroke="#2a2a2a" stroke-width="0.7"/>
<line x1="1562.75" y1="681.25" x2="1636.88" y2="681.25" stroke="#2a2a2a" stroke-width="1.0"/>
<rect x="1653.5" y="689.38" width="4.0" height="44.12" fill="#fff" stroke="#2a2a2a" stroke-width="1.0"/>
<rect x="1653.5" y="710.24" width="4.0" height="2.4" fill="none" stroke="#2a2a2a" stroke-width="0.7"/>
<line x1="1644.75" y1="689.38" x2="1644.75" y2="733.12" stroke="#2a2a2a" stroke-width="1.0"/>
<path d="M1357.75,800.0 L1342.56,800.0 A5.31,5.31 0 0 0 1342.56,810.62 L1357.75,810.62 Z" fill="none" stroke="#555" stroke-width="0.9"/>
<line x1="1351.6" y1="800.0" x2="1351.6" y2="810.62" stroke="#555" stroke-width="0.8"/>
<line x1="1354.06" y1="800.0" x2="1354.06" y2="810.62" stroke="#555" stroke-width="0.8"/>
<rect x="1277.5" y="827.75" width="19.38" height="12.0" fill="none" stroke="#4a4a4a" stroke-width="1.6"/>
<circle cx="1287.19" cy="833.75" r="1.0" fill="#3b3b3b"/>
<rect x="1307.5" y="818.12" width="50.25" height="21.88" fill="none" stroke="#777" stroke-width="0.8"/>
<path d="M1352.78,819.88 L1318.44,819.88 A9.19,9.19 0 0 0 1318.44,838.25 L1352.78,838.25 Q1356.0,838.25 1356.0,835.03 L1356.0,823.09 Q1356.0,819.88 1352.78,819.88 Z" fill="none" stroke="#4a4a4a" stroke-width="1"/>
<circle cx="1350.95" cy="829.06" r="1.0" fill="#3b3b3b"/>
<rect x="919.75" y="1020.62" width="53.38" height="3.12" fill="#fff" stroke="#2a2a2a" stroke-width="1.0"/>
<line x1="919.75" y1="1019.38" x2="973.12" y2="1019.38" stroke="#9a9a9a" stroke-width="1.0"/>
<rect x="945.24" y="1020.62" width="2.4" height="3.12" fill="none" stroke="#2a2a2a" stroke-width="0.7"/>
<line x1="918.75" y1="1033.25" x2="973.12" y2="1033.25" stroke="#2a2a2a" stroke-width="1.0"/>
<rect x="898.12" y="1041.25" width="3.75" height="60.62" fill="#fff" stroke="#2a2a2a" stroke-width="1.0"/>
<rect x="898.12" y="1070.36" width="3.75" height="2.4" fill="none" stroke="#2a2a2a" stroke-width="0.7"/>
<line x1="911.88" y1="1040.62" x2="911.88" y2="1103.75" stroke="#2a2a2a" stroke-width="1.0"/>
<rect x="898.12" y="1138.75" width="5.0" height="67.5" fill="#fff" stroke="#2a2a2a" stroke-width="1.0"/>
<rect x="898.12" y="1171.3" width="5.0" height="2.4" fill="none" stroke="#2a2a2a" stroke-width="0.7"/>
<rect x="940.62" y="1166.25" width="13.12" height="36.25" fill="#fff" stroke="#3b3b3b" stroke-width="0.8"/>
<rect x="941.88" y="1166.25" width="3.12" height="36.25" fill="#ddd" stroke="#3b3b3b" stroke-width="0.8"/>
<rect x="1169.38" y="1071.25" width="22.5" height="51.88" fill="none" stroke="#777" stroke-width="0.8"/>
<path d="M1171.17,1076.36 L1171.17,1111.88 A9.45,9.45 0 0 0 1190.08,1111.88 L1190.08,1076.36 Q1190.08,1073.05 1186.77,1073.05 L1174.48,1073.05 Q1171.17,1073.05 1171.17,1076.36 Z" fill="none" stroke="#4a4a4a" stroke-width="1"/>
<circle cx="1180.62" cy="1078.25" r="1.0" fill="#3b3b3b"/>
<rect x="1296.0" y="1240.0" width="10.0" height="7.5" fill="none" stroke="#666" stroke-width="0.8"/>
<rect x="1296.0" y="1253.12" width="7.75" height="18.12" fill="none" stroke="#666" stroke-width="0.8"/>
<rect x="1308.75" y="1240.62" width="21.88" height="52.5" fill="none" stroke="#777" stroke-width="0.8"/>
<path d="M1310.5,1245.59 L1310.5,1282.19 A9.19,9.19 0 0 0 1328.88,1282.19 L1328.88,1245.59 Q1328.88,1242.38 1325.66,1242.38 L1313.72,1242.38 Q1310.5,1242.38 1310.5,1245.59 Z" fill="none" stroke="#4a4a4a" stroke-width="1"/>
<circle cx="1319.69" cy="1247.43" r="1.0" fill="#3b3b3b"/>
<rect x="897.5" y="1230.25" width="4.38" height="48.75" fill="#fff" stroke="#2a2a2a" stroke-width="1.0"/>
<rect x="897.5" y="1253.42" width="4.38" height="2.4" fill="none" stroke="#2a2a2a" stroke-width="0.7"/>
<line x1="911.62" y1="1230.0" x2="911.62" y2="1279.0" stroke="#2a2a2a" stroke-width="1.0"/>
<line x1="951.5" y1="1313.75" x2="951.5" y2="1403.12" stroke="#555" stroke-width="1.0" stroke-dasharray="8 5"/>
<line x1="1014.0" y1="1313.75" x2="1014.0" y2="1341.88" stroke="#555" stroke-width="1.0" stroke-dasharray="8 5"/>
<rect x="996.5" y="1341.62" width="17.5" height="17.75" fill="none" stroke="#666" stroke-width="0.8"/>
<line x1="1002.75" y1="1350.62" x2="1007.75" y2="1350.62" stroke="#3b3b3b" stroke-width="0.7"/>
<line x1="1003.48" y1="1348.86" x2="1007.02" y2="1352.39" stroke="#3b3b3b" stroke-width="0.7"/>
<line x1="1005.25" y1="1348.12" x2="1005.25" y2="1353.12" stroke="#3b3b3b" stroke-width="0.7"/>
<line x1="1007.02" y1="1348.86" x2="1003.48" y2="1352.39" stroke="#3b3b3b" stroke-width="0.7"/>
<rect x="996.5" y="1359.38" width="17.5" height="8.75" fill="none" stroke="#666" stroke-width="0.8"/>
<rect x="998.5" y="1369.38" width="14.62" height="15.88" fill="none" stroke="#555" stroke-width="0.8"/>
<rect x="1000.25" y="1371.13" width="11.12" height="12.37" fill="none" stroke="#777" stroke-width="1.2" rx="0.88"/>
<line x1="1005.81" y1="1377.31" x2="1013.12" y2="1377.31" stroke="#3b3b3b" stroke-width="1.4"/>
<rect x="996.5" y="1368.12" width="17.5" height="18.12" fill="none" stroke="#666" stroke-width="0.8"/>
<rect x="996.5" y="1386.25" width="17.5" height="16.88" fill="none" stroke="#666" stroke-width="0.8"/>
<rect x="978.75" y="1386.25" width="17.75" height="16.88" fill="none" stroke="#666" stroke-width="0.8"/>
<circle cx="987.5" cy="1395.0" r="1.6" fill="none" stroke="#3b3b3b" stroke-width="0.8"/>
<line x1="987.5" y1="1393.4" x2="987.5" y2="1390.2" stroke="#3b3b3b" stroke-width="0.8"/>
<rect x="960.62" y="1386.88" width="17.5" height="16.25" fill="none" stroke="#3b3b3b" stroke-width="0.8"/>
<circle cx="965.88" cy="1391.75" r="2.6" fill="none" stroke="#3b3b3b" stroke-width="0.8"/>
<circle cx="973.75" cy="1391.42" r="1.95" fill="none" stroke="#3b3b3b" stroke-width="0.8"/>
<circle cx="965.52" cy="1399.06" r="1.95" fill="none" stroke="#3b3b3b" stroke-width="0.8"/>
<circle cx="973.4" cy="1399.06" r="2.6" fill="none" stroke="#3b3b3b" stroke-width="0.8"/>
<rect x="951.88" y="1386.25" width="8.75" height="16.88" fill="none" stroke="#666" stroke-width="0.8"/>
<rect x="1019.0" y="1346.25" width="17.88" height="18.75" fill="none" stroke="#777" stroke-width="0.8"/>
<rect x="1025.43" y="1353.0" width="5.0" height="5.25" fill="none" stroke="#3b3b3b" stroke-width="0.9"/>
<line x1="1022.04" y1="1358.25" x2="1025.43" y2="1358.25" stroke="#3b3b3b" stroke-width="0.9"/>
<line x1="1030.44" y1="1353.0" x2="1033.84" y2="1353.0" stroke="#3b3b3b" stroke-width="0.9"/>
<line x1="1025.43" y1="1353.0" x2="1025.43" y2="1348.88" stroke="#3b3b3b" stroke-width="0.9"/>
<line x1="1030.44" y1="1358.25" x2="1030.44" y2="1362.38" stroke="#3b3b3b" stroke-width="0.9"/>
<path d="M1052.5,1403.12 L1052.5,1389.12 A5.62,5.62 0 0 1 1063.75,1389.12 L1063.75,1403.12 Z" fill="none" stroke="#555" stroke-width="0.9"/>
<line x1="1052.5" y1="1397.24" x2="1063.75" y2="1397.24" stroke="#555" stroke-width="0.8"/>
<line x1="1052.5" y1="1399.59" x2="1063.75" y2="1399.59" stroke="#555" stroke-width="0.8"/>
<rect x="1076.88" y="1391.0" width="19.75" height="11.5" fill="none" stroke="#4a4a4a" stroke-width="1.6"/>
<circle cx="1086.75" cy="1396.75" r="1.0" fill="#3b3b3b"/>
<rect x="1105.62" y="1353.12" width="21.88" height="50.0" fill="none" stroke="#777" stroke-width="0.8"/>
<path d="M1107.38,1398.16 L1107.38,1364.06 A9.19,9.19 0 0 1 1125.75,1364.06 L1125.75,1398.16 Q1125.75,1401.38 1122.53,1401.38 L1110.59,1401.38 Q1107.38,1401.38 1107.38,1398.16 Z" fill="none" stroke="#4a4a4a" stroke-width="1"/>
<circle cx="1116.56" cy="1396.32" r="1.0" fill="#3b3b3b"/>
<rect x="822.25" y="1300.25" width="51.5" height="3.75" fill="#c9cacc" stroke="#2a2a2a" stroke-width="1.0"/>
<line x1="822.25" y1="1302.12" x2="873.75" y2="1302.12" stroke="#555" stroke-width="0.6"/>
<line x1="820.62" y1="1313.25" x2="875.0" y2="1313.25" stroke="#2a2a2a" stroke-width="1.0"/>
<rect x="799.0" y="1319.75" width="4.75" height="80.25" fill="#fff" stroke="#2a2a2a" stroke-width="1.0"/>
<rect x="799.0" y="1358.67" width="4.75" height="2.4" fill="none" stroke="#2a2a2a" stroke-width="0.7"/>
<line x1="812.5" y1="1318.12" x2="812.5" y2="1401.25" stroke="#2a2a2a" stroke-width="1.0"/>
<rect x="799.0" y="1430.0" width="4.75" height="77.5" fill="#fff" stroke="#2a2a2a" stroke-width="1.0"/>
<rect x="799.0" y="1467.55" width="4.75" height="2.4" fill="none" stroke="#2a2a2a" stroke-width="0.7"/>
<line x1="812.5" y1="1426.25" x2="812.5" y2="1507.5" stroke="#2a2a2a" stroke-width="1.0"/>
<line x1="1001.88" y1="1412.25" x2="1001.88" y2="1444.38" stroke="#555" stroke-width="1.0" stroke-dasharray="8 5"/>
<rect x="984.38" y="1444.75" width="17.5" height="17.5" fill="none" stroke="#666" stroke-width="0.8"/>
<line x1="990.62" y1="1453.5" x2="995.62" y2="1453.5" stroke="#3b3b3b" stroke-width="0.7"/>
<line x1="991.36" y1="1451.73" x2="994.89" y2="1455.27" stroke="#3b3b3b" stroke-width="0.7"/>
<line x1="993.12" y1="1451.0" x2="993.12" y2="1456.0" stroke="#3b3b3b" stroke-width="0.7"/>
<line x1="994.89" y1="1451.73" x2="991.36" y2="1455.27" stroke="#3b3b3b" stroke-width="0.7"/>
<rect x="984.38" y="1462.25" width="17.5" height="12.75" fill="none" stroke="#666" stroke-width="0.8"/>
<circle cx="993.12" cy="1469.0" r="1.6" fill="none" stroke="#3b3b3b" stroke-width="0.8"/>
<line x1="991.52" y1="1469.0" x2="988.33" y2="1469.0" stroke="#3b3b3b" stroke-width="0.8"/>
<rect x="986.25" y="1476.0" width="14.38" height="14.62" fill="none" stroke="#555" stroke-width="0.8"/>
<rect x="987.98" y="1477.72" width="10.93" height="11.18" fill="none" stroke="#777" stroke-width="1.2" rx="0.86"/>
<line x1="993.44" y1="1483.31" x2="1000.62" y2="1483.31" stroke="#3b3b3b" stroke-width="1.4"/>
<rect x="984.38" y="1475.0" width="17.5" height="17.5" fill="none" stroke="#666" stroke-width="0.8"/>
<rect x="1006.88" y="1451.88" width="18.12" height="18.12" fill="none" stroke="#777" stroke-width="0.8"/>
<rect x="1013.4" y="1458.4" width="5.07" height="5.07" fill="none" stroke="#3b3b3b" stroke-width="0.9"/>
<line x1="1009.96" y1="1463.47" x2="1013.4" y2="1463.47" stroke="#3b3b3b" stroke-width="0.9"/>
<line x1="1018.48" y1="1458.4" x2="1021.92" y2="1458.4" stroke="#3b3b3b" stroke-width="0.9"/>
<line x1="1013.4" y1="1458.4" x2="1013.4" y2="1454.41" stroke="#3b3b3b" stroke-width="0.9"/>
<line x1="1018.48" y1="1463.47" x2="1018.48" y2="1467.46" stroke="#3b3b3b" stroke-width="0.9"/>
<rect x="934.5" y="1493.75" width="13.5" height="17.5" fill="none" stroke="#666" stroke-width="0.8"/>
<rect x="948.75" y="1494.38" width="17.5" height="16.25" fill="none" stroke="#3b3b3b" stroke-width="0.8"/>
<circle cx="954.0" cy="1499.25" r="2.6" fill="none" stroke="#3b3b3b" stroke-width="0.8"/>
<circle cx="961.88" cy="1498.92" r="1.95" fill="none" stroke="#3b3b3b" stroke-width="0.8"/>
<circle cx="953.65" cy="1506.56" r="1.95" fill="none" stroke="#3b3b3b" stroke-width="0.8"/>
<circle cx="961.52" cy="1506.56" r="2.6" fill="none" stroke="#3b3b3b" stroke-width="0.8"/>
<rect x="966.25" y="1493.75" width="18.25" height="17.5" fill="none" stroke="#666" stroke-width="0.8"/>
<rect x="984.5" y="1493.75" width="16.75" height="17.5" fill="none" stroke="#666" stroke-width="0.8"/>
<rect x="1006.88" y="1451.88" width="17.88" height="18.12" fill="none" stroke="#777" stroke-width="0.8"/>
<rect x="1013.31" y="1458.4" width="5.01" height="5.08" fill="none" stroke="#3b3b3b" stroke-width="0.9"/>
<line x1="1009.91" y1="1463.47" x2="1013.31" y2="1463.47" stroke="#3b3b3b" stroke-width="0.9"/>
<line x1="1018.32" y1="1458.4" x2="1021.71" y2="1458.4" stroke="#3b3b3b" stroke-width="0.9"/>
<line x1="1013.31" y1="1458.4" x2="1013.31" y2="1454.41" stroke="#3b3b3b" stroke-width="0.9"/>
<line x1="1018.32" y1="1463.47" x2="1018.32" y2="1467.46" stroke="#3b3b3b" stroke-width="0.9"/>
<path d="M1041.25,1510.62 L1041.25,1496.62 A5.62,5.62 0 0 1 1052.5,1496.62 L1052.5,1510.62 Z" fill="none" stroke="#555" stroke-width="0.9"/>
<line x1="1041.25" y1="1504.74" x2="1052.5" y2="1504.74" stroke="#555" stroke-width="0.8"/>
<line x1="1041.25" y1="1507.09" x2="1052.5" y2="1507.09" stroke="#555" stroke-width="0.8"/>
<rect x="1058.5" y="1498.75" width="19.25" height="11.25" fill="none" stroke="#4a4a4a" stroke-width="1.6"/>
<circle cx="1068.12" cy="1504.38" r="1.0" fill="#3b3b3b"/>
<rect x="1079.0" y="1460.62" width="22.0" height="50.0" fill="none" stroke="#777" stroke-width="0.8"/>
<path d="M1080.76,1505.63 L1080.76,1471.62 A9.24,9.24 0 0 1 1099.24,1471.62 L1099.24,1505.63 Q1099.24,1508.87 1096.01,1508.87 L1083.99,1508.87 Q1080.76,1508.87 1080.76,1505.63 Z" fill="none" stroke="#4a4a4a" stroke-width="1"/>
<circle cx="1090.0" cy="1503.78" r="1.0" fill="#3b3b3b"/>
<path d="M1020.0,1531.88 L1020.0,1547.19 A5.31,5.31 0 0 0 1030.62,1547.19 L1030.62,1531.88 Z" fill="none" stroke="#555" stroke-width="0.9"/>
<line x1="1020.0" y1="1538.06" x2="1030.62" y2="1538.06" stroke="#555" stroke-width="0.8"/>
<line x1="1020.0" y1="1535.59" x2="1030.62" y2="1535.59" stroke="#555" stroke-width="0.8"/>
<rect x="1036.5" y="1532.5" width="23.25" height="23.12" fill="none" stroke="#666" stroke-width="0.8"/>
<rect x="1038.36" y="1534.36" width="19.53" height="19.4" fill="none" stroke="#3b3b3b" stroke-width="0.8" rx="1.86"/>
<line x1="1043.47" y1="1548.69" x2="1056.26" y2="1537.12" stroke="#3b3b3b" stroke-width="0.9"/>
<rect x="1018.12" y="1563.75" width="10.38" height="19.38" fill="none" stroke="#4a4a4a" stroke-width="1.6"/>
<circle cx="1023.31" cy="1573.44" r="1.0" fill="#3b3b3b"/>
<rect x="1065.0" y="1532.5" width="21.88" height="48.75" fill="none" stroke="#777" stroke-width="0.8"/>
<path d="M1066.75,1537.47 L1066.75,1570.31 A9.19,9.19 0 0 0 1085.12,1570.31 L1085.12,1537.47 Q1085.12,1534.25 1081.91,1534.25 L1069.97,1534.25 Q1066.75,1534.25 1066.75,1537.47 Z" fill="none" stroke="#4a4a4a" stroke-width="1"/>
<circle cx="1075.94" cy="1539.3" r="1.0" fill="#3b3b3b"/>
<rect x="1089.38" y="1532.5" width="19.38" height="12.25" fill="none" stroke="#4a4a4a" stroke-width="1.6"/>
<circle cx="1099.06" cy="1538.62" r="1.0" fill="#3b3b3b"/>
<path d="M1117.5,1531.88 L1117.5,1547.19 A5.31,5.31 0 0 0 1128.12,1547.19 L1128.12,1531.88 Z" fill="none" stroke="#555" stroke-width="0.9"/>
<line x1="1117.5" y1="1538.06" x2="1128.12" y2="1538.06" stroke="#555" stroke-width="0.8"/>
<line x1="1117.5" y1="1535.59" x2="1128.12" y2="1535.59" stroke="#555" stroke-width="0.8"/>
<rect x="1086.88" y="1571.5" width="17.5" height="14.75" fill="none" stroke="#777" stroke-width="0.8"/>
<rect x="1093.17" y="1576.81" width="4.9" height="4.13" fill="none" stroke="#3b3b3b" stroke-width="0.9"/>
<line x1="1089.85" y1="1580.94" x2="1093.17" y2="1580.94" stroke="#3b3b3b" stroke-width="0.9"/>
<line x1="1098.08" y1="1576.81" x2="1101.4" y2="1576.81" stroke="#3b3b3b" stroke-width="0.9"/>
<line x1="1093.17" y1="1576.81" x2="1093.17" y2="1573.57" stroke="#3b3b3b" stroke-width="0.9"/>
<line x1="1098.08" y1="1580.94" x2="1098.08" y2="1584.18" stroke="#3b3b3b" stroke-width="0.9"/>
<rect x="1211.25" y="1517.5" width="17.5" height="16.88" fill="none" stroke="#666" stroke-width="0.8"/>
<rect x="1229.0" y="1517.5" width="17.5" height="16.88" fill="none" stroke="#666" stroke-width="0.8"/>
<circle cx="1237.5" cy="1526.25" r="1.6" fill="none" stroke="#3b3b3b" stroke-width="0.8"/>
<line x1="1237.5" y1="1524.65" x2="1237.5" y2="1521.45" stroke="#3b3b3b" stroke-width="0.8"/>
<rect x="1246.5" y="1517.5" width="9.25" height="16.88" fill="none" stroke="#666" stroke-width="0.8"/>
<rect x="1256.0" y="1517.75" width="17.12" height="16.25" fill="none" stroke="#3b3b3b" stroke-width="0.8"/>
<circle cx="1261.14" cy="1522.62" r="2.6" fill="none" stroke="#3b3b3b" stroke-width="0.8"/>
<circle cx="1268.84" cy="1522.3" r="1.95" fill="none" stroke="#3b3b3b" stroke-width="0.8"/>
<circle cx="1260.8" cy="1529.94" r="1.95" fill="none" stroke="#3b3b3b" stroke-width="0.8"/>
<circle cx="1268.5" cy="1529.94" r="2.6" fill="none" stroke="#3b3b3b" stroke-width="0.8"/>
<rect x="1212.5" y="1535.62" width="15.25" height="16.25" fill="none" stroke="#555" stroke-width="0.8"/>
<rect x="1214.33" y="1537.45" width="11.59" height="12.59" fill="none" stroke="#777" stroke-width="1.2" rx="0.91"/>
<line x1="1220.12" y1="1543.75" x2="1212.5" y2="1543.75" stroke="#3b3b3b" stroke-width="1.4"/>
<rect x="1211.25" y="1534.38" width="17.75" height="18.75" fill="none" stroke="#666" stroke-width="0.8"/>
<rect x="1211.25" y="1553.12" width="17.75" height="17.5" fill="none" stroke="#666" stroke-width="0.8"/>
<line x1="1217.5" y1="1561.88" x2="1222.5" y2="1561.88" stroke="#3b3b3b" stroke-width="0.7"/>
<line x1="1218.23" y1="1560.11" x2="1221.77" y2="1563.64" stroke="#3b3b3b" stroke-width="0.7"/>
<line x1="1220.0" y1="1559.38" x2="1220.0" y2="1564.38" stroke="#3b3b3b" stroke-width="0.7"/>
<line x1="1221.77" y1="1560.11" x2="1218.23" y2="1563.64" stroke="#3b3b3b" stroke-width="0.7"/>
<rect x="1195.25" y="1557.75" width="16.0" height="12.88" fill="none" stroke="#666" stroke-width="0.8"/>
<line x1="1193.5" y1="1582.5" x2="1193.5" y2="1608.12" stroke="#555" stroke-width="1.0" stroke-dasharray="8 5"/>
<rect x="1273.12" y="1517.5" width="15.62" height="16.88" fill="none" stroke="#666" stroke-width="0.8"/>
<line x1="1210.62" y1="1311.25" x2="1246.88" y2="1311.25" stroke="#3b3b3b" stroke-width="1.0"/>
<line x1="1210.62" y1="1320.62" x2="1246.88" y2="1320.62" stroke="#3b3b3b" stroke-width="1.0"/>
<line x1="1210.62" y1="1329.38" x2="1246.88" y2="1329.38" stroke="#3b3b3b" stroke-width="1.0"/>
<line x1="1210.62" y1="1338.75" x2="1246.88" y2="1338.75" stroke="#3b3b3b" stroke-width="1.0"/>
<line x1="1210.62" y1="1347.5" x2="1246.88" y2="1347.5" stroke="#3b3b3b" stroke-width="1.0"/>
<line x1="1210.62" y1="1356.25" x2="1246.88" y2="1356.25" stroke="#3b3b3b" stroke-width="1.0"/>
<line x1="1210.62" y1="1365.62" x2="1246.88" y2="1365.62" stroke="#3b3b3b" stroke-width="1.0"/>
<line x1="1210.62" y1="1374.38" x2="1246.88" y2="1374.38" stroke="#3b3b3b" stroke-width="1.0"/>
<line x1="1210.62" y1="1383.5" x2="1246.88" y2="1383.5" stroke="#3b3b3b" stroke-width="1.0"/>
<line x1="1253.75" y1="1302.5" x2="1289.38" y2="1302.5" stroke="#3b3b3b" stroke-width="1.0"/>
<line x1="1253.75" y1="1311.25" x2="1289.38" y2="1311.25" stroke="#3b3b3b" stroke-width="1.0"/>
<line x1="1253.75" y1="1320.62" x2="1289.38" y2="1320.62" stroke="#3b3b3b" stroke-width="1.0"/>
<line x1="1253.75" y1="1329.38" x2="1289.38" y2="1329.38" stroke="#3b3b3b" stroke-width="1.0"/>
<line x1="1253.75" y1="1338.75" x2="1289.38" y2="1338.75" stroke="#3b3b3b" stroke-width="1.0"/>
<line x1="1253.75" y1="1347.5" x2="1289.38" y2="1347.5" stroke="#3b3b3b" stroke-width="1.0"/>
<line x1="1253.75" y1="1356.25" x2="1289.38" y2="1356.25" stroke="#3b3b3b" stroke-width="1.0"/>
<line x1="1253.75" y1="1365.62" x2="1289.38" y2="1365.62" stroke="#3b3b3b" stroke-width="1.0"/>
<line x1="1253.75" y1="1374.38" x2="1289.38" y2="1374.38" stroke="#3b3b3b" stroke-width="1.0"/>
<line x1="1253.75" y1="1383.5" x2="1289.38" y2="1383.5" stroke="#3b3b3b" stroke-width="1.0"/>
<rect x="1246.88" y="1302.5" width="6.88" height="81.0" fill="#fff" stroke="#3b3b3b" stroke-width="1.0"/>
<polygon points="1210.62,1356.25 1246.88,1338.75 1246.88,1347.5 1210.62,1365.0" fill="#fff" stroke="#3b3b3b" stroke-width="1.0"/>
<line x1="1228.5" y1="1311.25" x2="1228.5" y2="1336.25" stroke="#3b3b3b" stroke-width="1.0"/>
<polygon points="1225.5,1334.0 1231.5,1334.0 1228.5,1338.5" fill="#111"/>
<line x1="1228.5" y1="1357.75" x2="1228.5" y2="1381.25" stroke="#3b3b3b" stroke-width="1.0"/>
<polygon points="1225.5,1379.0 1231.5,1379.0 1228.5,1383.5" fill="#111"/>
<line x1="1270.62" y1="1383.5" x2="1270.62" y2="1305.0" stroke="#3b3b3b" stroke-width="1.0"/>
<polygon points="1267.62,1307.25 1273.62,1307.25 1270.62,1302.75" fill="#111"/>
<rect x="1296.0" y="1240.25" width="10.0" height="7.0" fill="none" stroke="#666" stroke-width="0.8"/>
<rect x="1296.0" y="1253.12" width="7.5" height="18.12" fill="none" stroke="#666" stroke-width="0.8"/>
<rect x="1308.5" y="1240.0" width="22.12" height="50.25" fill="none" stroke="#777" stroke-width="0.8"/>
<path d="M1310.27,1245.02 L1310.27,1279.19 A9.29,9.29 0 0 0 1328.86,1279.19 L1328.86,1245.02 Q1328.86,1241.77 1325.6,1241.77 L1313.52,1241.77 Q1310.27,1241.77 1310.27,1245.02 Z" fill="none" stroke="#4a4a4a" stroke-width="1"/>
<circle cx="1319.56" cy="1246.88" r="1.0" fill="#3b3b3b"/>
<path d="M1338.5,1240.0 L1338.5,1254.12 A5.62,5.62 0 0 0 1349.75,1254.12 L1349.75,1240.0 Z" fill="none" stroke="#555" stroke-width="0.9"/>
<line x1="1338.5" y1="1245.92" x2="1349.75" y2="1245.92" stroke="#555" stroke-width="0.8"/>
<line x1="1338.5" y1="1243.56" x2="1349.75" y2="1243.56" stroke="#555" stroke-width="0.8"/>
<rect x="1354.75" y="1240.25" width="19.0" height="12.25" fill="none" stroke="#4a4a4a" stroke-width="1.6"/>
<circle cx="1364.25" cy="1246.38" r="1.0" fill="#3b3b3b"/>
<rect x="1361.5" y="1279.0" width="17.5" height="17.0" fill="none" stroke="#777" stroke-width="0.8"/>
<rect x="1367.8" y="1285.12" width="4.9" height="4.76" fill="none" stroke="#3b3b3b" stroke-width="0.9"/>
<line x1="1364.47" y1="1289.88" x2="1367.8" y2="1289.88" stroke="#3b3b3b" stroke-width="0.9"/>
<line x1="1372.7" y1="1285.12" x2="1376.03" y2="1285.12" stroke="#3b3b3b" stroke-width="0.9"/>
<line x1="1367.8" y1="1285.12" x2="1367.8" y2="1281.38" stroke="#3b3b3b" stroke-width="0.9"/>
<line x1="1372.7" y1="1289.88" x2="1372.7" y2="1293.62" stroke="#3b3b3b" stroke-width="0.9"/>
<line x1="1385.0" y1="1281.5" x2="1429.38" y2="1281.5" stroke="#555" stroke-width="1.0" stroke-dasharray="8 5"/>
<rect x="1429.75" y="1281.88" width="17.75" height="17.5" fill="none" stroke="#666" stroke-width="0.8"/>
<line x1="1436.25" y1="1290.62" x2="1441.25" y2="1290.62" stroke="#3b3b3b" stroke-width="0.7"/>
<line x1="1436.98" y1="1288.86" x2="1440.52" y2="1292.39" stroke="#3b3b3b" stroke-width="0.7"/>
<line x1="1438.75" y1="1288.12" x2="1438.75" y2="1293.12" stroke="#3b3b3b" stroke-width="0.7"/>
<line x1="1440.52" y1="1288.86" x2="1436.98" y2="1292.39" stroke="#3b3b3b" stroke-width="0.7"/>
<rect x="1448.5" y="1282.75" width="15.88" height="16.0" fill="none" stroke="#555" stroke-width="0.8"/>
<rect x="1450.4" y="1284.65" width="12.07" height="12.19" fill="none" stroke="#777" stroke-width="1.2" rx="0.95"/>
<line x1="1456.44" y1="1290.75" x2="1456.44" y2="1282.75" stroke="#3b3b3b" stroke-width="1.4"/>
<rect x="1630.62" y="1271.25" width="17.88" height="11.25" fill="none" stroke="#666" stroke-width="0.8"/>
<rect x="1490.0" y="1224.38" width="50.0" height="21.88" fill="none" stroke="#777" stroke-width="0.8"/>
<path d="M1494.97,1226.12 L1529.06,1226.12 A9.19,9.19 0 0 1 1529.06,1244.5 L1494.97,1244.5 Q1491.75,1244.5 1491.75,1241.28 L1491.75,1229.34 Q1491.75,1226.12 1494.97,1226.12 Z" fill="none" stroke="#4a4a4a" stroke-width="1"/>
<circle cx="1496.8" cy="1235.31" r="1.0" fill="#3b3b3b"/>
<rect x="1543.5" y="1224.38" width="17.5" height="17.12" fill="none" stroke="#777" stroke-width="0.8"/>
<rect x="1549.8" y="1230.54" width="4.9" height="4.8" fill="none" stroke="#3b3b3b" stroke-width="0.9"/>
<line x1="1546.47" y1="1235.34" x2="1549.8" y2="1235.34" stroke="#3b3b3b" stroke-width="0.9"/>
<line x1="1554.7" y1="1230.54" x2="1558.03" y2="1230.54" stroke="#3b3b3b" stroke-width="0.9"/>
<line x1="1549.8" y1="1230.54" x2="1549.8" y2="1226.77" stroke="#3b3b3b" stroke-width="0.9"/>
<line x1="1554.7" y1="1235.34" x2="1554.7" y2="1239.1" stroke="#3b3b3b" stroke-width="0.9"/>
<rect x="1490.0" y="1254.38" width="12.5" height="19.12" fill="none" stroke="#4a4a4a" stroke-width="1.6"/>
<circle cx="1496.25" cy="1263.94" r="1.0" fill="#3b3b3b"/>
<path d="M1536.25,1305.0 L1536.25,1290.94 A5.31,5.31 0 0 1 1546.88,1290.94 L1546.88,1305.0 Z" fill="none" stroke="#555" stroke-width="0.9"/>
<line x1="1536.25" y1="1299.19" x2="1546.88" y2="1299.19" stroke="#555" stroke-width="0.8"/>
<line x1="1536.25" y1="1301.51" x2="1546.88" y2="1301.51" stroke="#555" stroke-width="0.8"/>
<rect x="1490.0" y="1311.0" width="17.75" height="17.12" fill="none" stroke="#666" stroke-width="0.8"/>
<rect x="1507.75" y="1311.0" width="17.0" height="17.12" fill="none" stroke="#666" stroke-width="0.8"/>
<circle cx="1516.25" cy="1319.38" r="1.6" fill="none" stroke="#3b3b3b" stroke-width="0.8"/>
<line x1="1516.25" y1="1317.78" x2="1516.25" y2="1314.58" stroke="#3b3b3b" stroke-width="0.8"/>
<rect x="1525.62" y="1311.88" width="17.5" height="15.62" fill="none" stroke="#555" stroke-width="0.8"/>
<rect x="1527.72" y="1313.97" width="13.3" height="11.43" fill="none" stroke="#777" stroke-width="1.2" rx="1.05"/>
<line x1="1534.38" y1="1319.69" x2="1534.38" y2="1311.88" stroke="#3b3b3b" stroke-width="1.4"/>
<rect x="1543.5" y="1311.0" width="17.75" height="17.12" fill="none" stroke="#666" stroke-width="0.8"/>
<rect x="1561.25" y="1311.0" width="17.75" height="17.12" fill="none" stroke="#666" stroke-width="0.8"/>
<line x1="1567.75" y1="1319.38" x2="1572.75" y2="1319.38" stroke="#3b3b3b" stroke-width="0.7"/>
<line x1="1568.48" y1="1317.61" x2="1572.02" y2="1321.14" stroke="#3b3b3b" stroke-width="0.7"/>
<line x1="1570.25" y1="1316.88" x2="1570.25" y2="1321.88" stroke="#3b3b3b" stroke-width="0.7"/>
<line x1="1572.02" y1="1317.61" x2="1568.48" y2="1321.14" stroke="#3b3b3b" stroke-width="0.7"/>
<rect x="1490.0" y="1328.12" width="17.5" height="9.12" fill="none" stroke="#666" stroke-width="0.8"/>
<rect x="1490.25" y="1337.5" width="15.0" height="17.5" fill="none" stroke="#3b3b3b" stroke-width="0.8"/>
<circle cx="1494.75" cy="1342.75" r="2.4" fill="none" stroke="#3b3b3b" stroke-width="0.8"/>
<circle cx="1501.5" cy="1342.4" r="1.8" fill="none" stroke="#3b3b3b" stroke-width="0.8"/>
<circle cx="1494.45" cy="1350.62" r="1.8" fill="none" stroke="#3b3b3b" stroke-width="0.8"/>
<circle cx="1501.2" cy="1350.62" r="2.4" fill="none" stroke="#3b3b3b" stroke-width="0.8"/>
<rect x="1490.0" y="1337.25" width="17.5" height="18.38" fill="none" stroke="#666" stroke-width="0.8"/>
<rect x="1490.0" y="1355.62" width="17.5" height="7.88" fill="none" stroke="#666" stroke-width="0.8"/>
<line x1="1579.38" y1="1328.5" x2="1579.38" y2="1355.62" stroke="#555" stroke-width="1.0" stroke-dasharray="8 5"/>
<rect x="1448.12" y="1282.5" width="16.25" height="15.0" fill="none" stroke="#555" stroke-width="0.8"/>
<rect x="1450.08" y="1284.45" width="12.35" height="11.1" fill="none" stroke="#777" stroke-width="1.2" rx="0.97"/>
<line x1="1456.25" y1="1290.0" x2="1456.25" y2="1282.5" stroke="#3b3b3b" stroke-width="1.4"/>
<rect x="1465.0" y="1282.5" width="16.25" height="17.5" fill="none" stroke="#666" stroke-width="0.8"/>
<rect x="1463.75" y="1300.0" width="17.5" height="17.25" fill="none" stroke="#666" stroke-width="0.8"/>
<circle cx="1472.5" cy="1308.12" r="1.6" fill="none" stroke="#3b3b3b" stroke-width="0.8"/>
<line x1="1470.9" y1="1308.12" x2="1467.7" y2="1308.12" stroke="#3b3b3b" stroke-width="0.8"/>
<rect x="1463.75" y="1317.25" width="17.5" height="9.25" fill="none" stroke="#666" stroke-width="0.8"/>
<rect x="1464.38" y="1326.88" width="16.25" height="16.25" fill="none" stroke="#3b3b3b" stroke-width="0.8"/>
<circle cx="1469.25" cy="1331.75" r="2.6" fill="none" stroke="#3b3b3b" stroke-width="0.8"/>
<circle cx="1476.56" cy="1331.42" r="1.95" fill="none" stroke="#3b3b3b" stroke-width="0.8"/>
<circle cx="1468.92" cy="1339.06" r="1.95" fill="none" stroke="#3b3b3b" stroke-width="0.8"/>
<circle cx="1476.24" cy="1339.06" r="2.6" fill="none" stroke="#3b3b3b" stroke-width="0.8"/>
<rect x="1463.75" y="1326.5" width="17.5" height="17.25" fill="none" stroke="#666" stroke-width="0.8"/>
<rect x="1463.75" y="1343.75" width="17.5" height="11.88" fill="none" stroke="#666" stroke-width="0.8"/>
<rect x="799.0" y="1537.5" width="4.75" height="80.0" fill="#fff" stroke="#2a2a2a" stroke-width="1.0"/>
<rect x="799.0" y="1576.3" width="4.75" height="2.4" fill="none" stroke="#2a2a2a" stroke-width="0.7"/>
<line x1="812.5" y1="1535.0" x2="812.5" y2="1618.12" stroke="#2a2a2a" stroke-width="1.0"/>
<rect x="821.88" y="1635.62" width="61.88" height="3.75" fill="#fff" stroke="#2a2a2a" stroke-width="1.0"/>
<rect x="851.61" y="1635.62" width="2.4" height="3.75" fill="none" stroke="#2a2a2a" stroke-width="0.7"/>
<line x1="821.88" y1="1625.88" x2="884.38" y2="1625.88" stroke="#2a2a2a" stroke-width="1.0"/>
<rect x="928.12" y="1635.62" width="45.0" height="3.75" fill="#fff" stroke="#2a2a2a" stroke-width="1.0"/>
<rect x="949.42" y="1635.62" width="2.4" height="3.75" fill="none" stroke="#2a2a2a" stroke-width="0.7"/>
<line x1="927.75" y1="1625.88" x2="973.5" y2="1625.88" stroke="#2a2a2a" stroke-width="1.0"/>
<rect x="995.62" y="1665.0" width="5.0" height="52.5" fill="#c9cacc" stroke="#2a2a2a" stroke-width="1.0"/>
<line x1="998.12" y1="1665.0" x2="998.12" y2="1717.5" stroke="#555" stroke-width="0.6"/>
<line x1="1009.75" y1="1663.75" x2="1009.75" y2="1717.5" stroke="#2a2a2a" stroke-width="1.0"/>
<rect x="995.62" y="1664.38" width="5.0" height="32.88" fill="#c9cacc" stroke="#2a2a2a" stroke-width="1.0"/>
<line x1="998.12" y1="1664.38" x2="998.12" y2="1697.25" stroke="#555" stroke-width="0.6"/>
<line x1="1009.75" y1="1663.12" x2="1009.75" y2="1698.75" stroke="#2a2a2a" stroke-width="1.0"/>
<rect x="995.62" y="1724.0" width="5.0" height="26.0" fill="#c9cacc" stroke="#2a2a2a" stroke-width="1.0"/>
<line x1="998.12" y1="1724.0" x2="998.12" y2="1750.0" stroke="#555" stroke-width="0.6"/>
<line x1="1009.75" y1="1722.5" x2="1009.75" y2="1751.25" stroke="#2a2a2a" stroke-width="1.0"/>
<rect x="1015.0" y="1767.25" width="70.62" height="3.38" fill="#fff" stroke="#2a2a2a" stroke-width="1.0"/>
<rect x="1049.11" y="1767.25" width="2.4" height="3.38" fill="none" stroke="#2a2a2a" stroke-width="0.7"/>
<line x1="1014.75" y1="1757.5" x2="1086.88" y2="1757.5" stroke="#2a2a2a" stroke-width="1.0"/>
<rect x="1112.75" y="1767.25" width="69.12" height="3.38" fill="#fff" stroke="#2a2a2a" stroke-width="1.0"/>
<rect x="1146.11" y="1767.25" width="2.4" height="3.38" fill="none" stroke="#2a2a2a" stroke-width="0.7"/>
<line x1="1110.62" y1="1757.5" x2="1183.75" y2="1757.5" stroke="#2a2a2a" stroke-width="1.0"/>
<rect x="1200.62" y="1705.62" width="3.75" height="44.38" fill="#fff" stroke="#2a2a2a" stroke-width="1.0"/>
<rect x="1200.62" y="1726.61" width="3.75" height="2.4" fill="none" stroke="#2a2a2a" stroke-width="0.7"/>
<line x1="1191.5" y1="1703.75" x2="1191.5" y2="1750.0" stroke="#2a2a2a" stroke-width="1.0"/>
<line x1="1076.25" y1="1641.5" x2="1102.5" y2="1641.5" stroke="#555" stroke-width="1.0" stroke-dasharray="8 5"/>
<line x1="1193.5" y1="1581.88" x2="1193.5" y2="1608.75" stroke="#555" stroke-width="1.0" stroke-dasharray="8 5"/>
<rect x="1283.88" y="1466.0" width="14.38" height="27.5" fill="#fff" stroke="#3b3b3b" stroke-width="0.8"/>
<rect x="1298.5" y="1466.0" width="4.12" height="27.5" fill="#c9cacc" stroke="#2a2a2a" stroke-width="1.0"/>
<line x1="1300.56" y1="1466.0" x2="1300.56" y2="1493.5" stroke="#555" stroke-width="0.6"/>
<rect x="1289.5" y="1537.5" width="8.75" height="27.5" fill="#fff" stroke="#3b3b3b" stroke-width="0.8"/>
<rect x="1298.5" y="1537.5" width="4.12" height="26.5" fill="#c9cacc" stroke="#2a2a2a" stroke-width="1.0"/>
<line x1="1300.56" y1="1537.5" x2="1300.56" y2="1564.0" stroke="#555" stroke-width="0.6"/>
<rect x="1323.88" y="1449.38" width="52.5" height="4.12" fill="#fff" stroke="#2a2a2a" stroke-width="1.0"/>
<rect x="1348.92" y="1449.38" width="2.4" height="4.12" fill="none" stroke="#2a2a2a" stroke-width="0.7"/>
<line x1="1322.62" y1="1439.62" x2="1377.62" y2="1439.62" stroke="#2a2a2a" stroke-width="1.0"/>
<rect x="1403.25" y="1449.38" width="56.25" height="4.12" fill="#fff" stroke="#2a2a2a" stroke-width="1.0"/>
<rect x="1430.17" y="1449.38" width="2.4" height="4.12" fill="none" stroke="#2a2a2a" stroke-width="0.7"/>
<line x1="1401.75" y1="1439.62" x2="1459.5" y2="1439.62" stroke="#2a2a2a" stroke-width="1.0"/>
<rect x="1227.62" y="1677.5" width="54.38" height="4.0" fill="#fff" stroke="#2a2a2a" stroke-width="1.0"/>
<rect x="1253.61" y="1677.5" width="2.4" height="4.0" fill="none" stroke="#2a2a2a" stroke-width="0.7"/>
<line x1="1227.0" y1="1667.25" x2="1282.0" y2="1667.25" stroke="#2a2a2a" stroke-width="1.0"/>
<rect x="1191.75" y="1703.75" width="8.38" height="46.25" fill="#fff" stroke="#3b3b3b" stroke-width="0.8"/>
<rect x="1501.88" y="1499.75" width="85.62" height="4.62" fill="#c9cacc" stroke="#2a2a2a" stroke-width="1.0"/>
<line x1="1501.88" y1="1502.06" x2="1587.5" y2="1502.06" stroke="#555" stroke-width="0.6"/>
<line x1="1500.0" y1="1490.0" x2="1587.5" y2="1490.0" stroke="#2a2a2a" stroke-width="1.0"/>
<line x1="1322.5" y1="1439.62" x2="1377.5" y2="1439.62" stroke="#2a2a2a" stroke-width="1.0"/>
<line x1="1401.88" y1="1439.62" x2="1456.25" y2="1439.62" stroke="#2a2a2a" stroke-width="1.0"/>
<rect x="1501.25" y="1499.75" width="70.62" height="5.0" fill="#c9cacc" stroke="#2a2a2a" stroke-width="1.0"/>
<line x1="1501.25" y1="1502.25" x2="1571.88" y2="1502.25" stroke="#555" stroke-width="0.6"/>
<line x1="1500.0" y1="1490.25" x2="1572.75" y2="1490.25" stroke="#2a2a2a" stroke-width="1.0"/>
<rect x="1600.62" y="1499.75" width="43.12" height="5.0" fill="#c9cacc" stroke="#2a2a2a" stroke-width="1.0"/>
<line x1="1600.62" y1="1502.25" x2="1643.75" y2="1502.25" stroke="#555" stroke-width="0.6"/>
<line x1="1599.75" y1="1490.25" x2="1645.62" y2="1490.25" stroke="#2a2a2a" stroke-width="1.0"/>
<rect x="1987.25" y="1324.25" width="4.25" height="86.88" fill="#fff" stroke="#2a2a2a" stroke-width="1.0"/>
<rect x="1987.25" y="1366.49" width="4.25" height="2.4" fill="none" stroke="#2a2a2a" stroke-width="0.7"/>
<line x1="1977.5" y1="1324.25" x2="1977.5" y2="1411.5" stroke="#2a2a2a" stroke-width="1.0"/>
<rect x="1985.62" y="1439.25" width="5.62" height="44.0" fill="#fff" stroke="#2a2a2a" stroke-width="1.0"/>
<rect x="1985.62" y="1460.05" width="5.62" height="2.4" fill="none" stroke="#2a2a2a" stroke-width="0.7"/>
<rect x="2015.62" y="1506.75" width="45.62" height="2.75" fill="#fff" stroke="#2a2a2a" stroke-width="1.0"/>
<rect x="2037.24" y="1506.75" width="2.4" height="2.75" fill="none" stroke="#2a2a2a" stroke-width="0.7"/>
<line x1="2015.62" y1="1518.75" x2="2061.5" y2="1518.75" stroke="#2a2a2a" stroke-width="1.0"/>
<rect x="2076.88" y="1527.38" width="3.75" height="53.12" fill="#fff" stroke="#2a2a2a" stroke-width="1.0"/>
<rect x="2076.88" y="1552.74" width="3.75" height="2.4" fill="none" stroke="#2a2a2a" stroke-width="0.7"/>
<line x1="2067.5" y1="1526.5" x2="2067.5" y2="1580.5" stroke="#2a2a2a" stroke-width="1.0"/>
<rect x="1748.75" y="1519.38" width="17.5" height="16.88" fill="none" stroke="#666" stroke-width="0.8"/>
<rect x="1783.75" y="1519.38" width="17.75" height="16.88" fill="none" stroke="#666" stroke-width="0.8"/>
<rect x="1819.38" y="1519.38" width="17.88" height="16.88" fill="none" stroke="#666" stroke-width="0.8"/>
<rect x="1748.75" y="1536.25" width="17.5" height="11.0" fill="none" stroke="#666" stroke-width="0.8"/>
<rect x="1748.75" y="1547.25" width="17.5" height="17.75" fill="none" stroke="#666" stroke-width="0.8"/>
<line x1="1755.0" y1="1556.25" x2="1760.0" y2="1556.25" stroke="#3b3b3b" stroke-width="0.7"/>
<line x1="1755.73" y1="1554.48" x2="1759.27" y2="1558.02" stroke="#3b3b3b" stroke-width="0.7"/>
<line x1="1757.5" y1="1553.75" x2="1757.5" y2="1558.75" stroke="#3b3b3b" stroke-width="0.7"/>
<line x1="1759.27" y1="1554.48" x2="1755.73" y2="1558.02" stroke="#3b3b3b" stroke-width="0.7"/>
<rect x="1819.38" y="1536.25" width="17.88" height="11.0" fill="none" stroke="#666" stroke-width="0.8"/>
<rect x="1819.38" y="1547.25" width="17.88" height="17.75" fill="none" stroke="#666" stroke-width="0.8"/>
<circle cx="1828.5" cy="1556.25" r="1.6" fill="none" stroke="#3b3b3b" stroke-width="0.8"/>
<line x1="1826.9" y1="1556.25" x2="1823.7" y2="1556.25" stroke="#3b3b3b" stroke-width="0.8"/>
<rect x="1842.25" y="1553.12" width="12.75" height="19.38" fill="none" stroke="#4a4a4a" stroke-width="1.6"/>
<circle cx="1848.62" cy="1562.81" r="1.0" fill="#3b3b3b"/>
<path d="M1842.25,1590.25 L1857.0,1590.25 A5.5,5.5 0 0 1 1857.0,1601.25 L1842.25,1601.25 Z" fill="none" stroke="#555" stroke-width="0.9"/>
<line x1="1848.33" y1="1590.25" x2="1848.33" y2="1601.25" stroke="#555" stroke-width="0.8"/>
<line x1="1845.89" y1="1590.25" x2="1845.89" y2="1601.25" stroke="#555" stroke-width="0.8"/>
<rect x="1842.25" y="1611.25" width="17.75" height="17.5" fill="none" stroke="#777" stroke-width="0.8"/>
<rect x="1848.64" y="1617.55" width="4.97" height="4.9" fill="none" stroke="#3b3b3b" stroke-width="0.9"/>
<line x1="1845.27" y1="1622.45" x2="1848.64" y2="1622.45" stroke="#3b3b3b" stroke-width="0.9"/>
<line x1="1853.61" y1="1617.55" x2="1856.98" y2="1617.55" stroke="#3b3b3b" stroke-width="0.9"/>
<line x1="1848.64" y1="1617.55" x2="1848.64" y2="1613.7" stroke="#3b3b3b" stroke-width="0.9"/>
<line x1="1853.61" y1="1622.45" x2="1853.61" y2="1626.3" stroke="#3b3b3b" stroke-width="0.9"/>
<path d="M1920.62,1564.38 L1934.38,1564.38 A5.62,5.62 0 0 1 1934.38,1575.62 L1920.62,1575.62 Z" fill="none" stroke="#555" stroke-width="0.9"/>
<line x1="1926.44" y1="1564.38" x2="1926.44" y2="1575.62" stroke="#555" stroke-width="0.8"/>
<line x1="1924.11" y1="1564.38" x2="1924.11" y2="1575.62" stroke="#555" stroke-width="0.8"/>
<rect x="1688.75" y="1677.5" width="52.5" height="4.0" fill="#fff" stroke="#2a2a2a" stroke-width="1.0"/>
<rect x="1713.8" y="1677.5" width="2.4" height="4.0" fill="none" stroke="#2a2a2a" stroke-width="0.7"/>
<line x1="1687.75" y1="1667.12" x2="1742.5" y2="1667.12" stroke="#2a2a2a" stroke-width="1.0"/>
<rect x="1768.12" y="1677.5" width="52.5" height="4.0" fill="#fff" stroke="#2a2a2a" stroke-width="1.0"/>
<rect x="1793.17" y="1677.5" width="2.4" height="4.0" fill="none" stroke="#2a2a2a" stroke-width="0.7"/>
<line x1="1766.5" y1="1667.12" x2="1821.25" y2="1667.12" stroke="#2a2a2a" stroke-width="1.0"/>
<rect x="1845.62" y="1701.25" width="4.38" height="52.5" fill="#fff" stroke="#2a2a2a" stroke-width="1.0"/>
<rect x="1845.62" y="1726.3" width="4.38" height="2.4" fill="none" stroke="#2a2a2a" stroke-width="0.7"/>
<line x1="1858.75" y1="1700.62" x2="1858.75" y2="1753.75" stroke="#2a2a2a" stroke-width="1.0"/>
<rect x="1849.75" y="1701.25" width="9.0" height="48.12" fill="#fff" stroke="#3b3b3b" stroke-width="0.8"/>
<rect x="1866.88" y="1766.88" width="81.62" height="3.38" fill="#fff" stroke="#2a2a2a" stroke-width="1.0"/>
<rect x="1906.49" y="1766.88" width="2.4" height="3.38" fill="none" stroke="#2a2a2a" stroke-width="0.7"/>
<line x1="1866.88" y1="1757.25" x2="1949.75" y2="1757.25" stroke="#2a2a2a" stroke-width="1.0"/>
<rect x="1977.5" y="1766.88" width="80.0" height="3.38" fill="#fff" stroke="#2a2a2a" stroke-width="1.0"/>
<rect x="2016.3" y="1766.88" width="2.4" height="3.38" fill="none" stroke="#2a2a2a" stroke-width="0.7"/>
<line x1="1975.62" y1="1757.25" x2="2060.0" y2="1757.25" stroke="#2a2a2a" stroke-width="1.0"/>
<rect x="2076.88" y="1706.88" width="3.75" height="43.75" fill="#fff" stroke="#2a2a2a" stroke-width="1.0"/>
<rect x="2076.88" y="1727.55" width="3.75" height="2.4" fill="none" stroke="#2a2a2a" stroke-width="0.7"/>
<line x1="2067.5" y1="1706.25" x2="2067.5" y2="1750.62" stroke="#2a2a2a" stroke-width="1.0"/>
<rect x="2076.88" y="1555.0" width="3.75" height="53.12" fill="#fff" stroke="#2a2a2a" stroke-width="1.0"/>
<rect x="2076.88" y="1580.36" width="3.75" height="2.4" fill="none" stroke="#2a2a2a" stroke-width="0.7"/>
<line x1="2067.5" y1="1555.0" x2="2067.5" y2="1609.38" stroke="#2a2a2a" stroke-width="1.0"/>
<rect x="1666.88" y="1589.0" width="3.75" height="71.25" fill="#fff" stroke="#2a2a2a" stroke-width="1.0"/>
<rect x="1666.88" y="1623.42" width="3.75" height="2.4" fill="none" stroke="#2a2a2a" stroke-width="0.7"/>
<line x1="1680.0" y1="1588.75" x2="1680.0" y2="1660.62" stroke="#2a2a2a" stroke-width="1.0"/>
</g>
<g id="L-wall" shape-rendering="crispEdges">
<rect x="1088.12" y="480.0" width="18.75" height="18.75" fill="#454547"/>
<rect x="1092.5" y="484.38" width="26.5" height="9.38" fill="#454547"/>
<rect x="1092.5" y="493.75" width="10.62" height="16.88" fill="#454547"/>
<rect x="1180.0" y="480.0" width="18.75" height="4.38" fill="#454547"/>
<rect x="1176.0" y="484.38" width="28.0" height="9.38" fill="#454547"/>
<rect x="1272.25" y="480.0" width="19.62" height="18.5" fill="#454547"/>
<rect x="1260.25" y="484.38" width="21.0" height="10.62" fill="#454547"/>
<rect x="1276.88" y="495.0" width="10.0" height="68.12" fill="#454547"/>
<rect x="1268.12" y="510.62" width="8.75" height="45.62" fill="#454547"/>
<rect x="1276.88" y="563.12" width="15.0" height="15.62" fill="#454547"/>
<rect x="1291.88" y="569.38" width="5.25" height="9.38" fill="#454547"/>
<rect x="1297.12" y="573.5" width="9.12" height="5.25" fill="#454547"/>
<rect x="1276.88" y="578.75" width="29.38" height="5.62" fill="#454547"/>
<rect x="1088.12" y="576.25" width="9.38" height="19.38" fill="#454547"/>
<rect x="1092.5" y="574.38" width="10.62" height="23.75" fill="#454547"/>
<rect x="1110.62" y="588.12" width="129.38" height="3.75" fill="#454547"/>
<rect x="1237.25" y="587.75" width="3.5" height="5.0" fill="#454547"/>
<rect x="1264.0" y="588.12" width="4.12" height="4.38" fill="#454547"/>
<rect x="1268.12" y="591.88" width="3.75" height="91.25" fill="#454547"/>
<rect x="1088.12" y="671.88" width="9.38" height="18.75" fill="#454547"/>
<rect x="1092.5" y="669.38" width="10.62" height="24.38" fill="#454547"/>
<rect x="1092.5" y="741.25" width="10.62" height="28.75" fill="#454547"/>
<rect x="1088.12" y="748.12" width="4.38" height="21.88" fill="#454547"/>
<rect x="1082.5" y="753.75" width="5.62" height="16.25" fill="#454547"/>
<rect x="1080.0" y="759.38" width="2.5" height="10.62" fill="#454547"/>
<rect x="1110.62" y="688.5" width="121.25" height="3.38" fill="#454547"/>
<rect x="1214.38" y="649.25" width="17.5" height="39.25" fill="#454547"/>
<rect x="1228.12" y="691.88" width="3.75" height="50.62" fill="#454547"/>
<rect x="1228.12" y="766.25" width="3.75" height="10.0" fill="#454547"/>
<rect x="1268.12" y="660.0" width="3.75" height="31.25" fill="#454547"/>
<rect x="1268.12" y="716.25" width="3.75" height="27.5" fill="#454547"/>
<rect x="1268.12" y="766.25" width="3.75" height="30.0" fill="#454547"/>
<rect x="1268.12" y="820.0" width="5.62" height="25.0" fill="#454547"/>
<rect x="1268.12" y="792.5" width="5.62" height="5.0" fill="#454547"/>
<rect x="1271.88" y="721.25" width="35.62" height="3.75" fill="#454547"/>
<rect x="1307.5" y="725.0" width="4.38" height="62.5" fill="#454547"/>
<rect x="1271.88" y="787.5" width="41.88" height="3.75" fill="#454547"/>
<rect x="1335.0" y="787.5" width="25.0" height="3.75" fill="#454547"/>
<rect x="1268.12" y="840.0" width="91.88" height="5.62" fill="#454547"/>
<rect x="1299.38" y="845.62" width="5.62" height="27.5" fill="#454547"/>
<rect x="1305.0" y="857.5" width="55.0" height="5.0" fill="#454547"/>
<rect x="1103.75" y="776.25" width="6.88" height="48.75" fill="#454547"/>
<rect x="1110.62" y="773.12" width="10.0" height="3.75" fill="#454547"/>
<rect x="1142.5" y="773.12" width="56.25" height="3.75" fill="#454547"/>
<rect x="1222.5" y="773.12" width="9.38" height="5.0" fill="#454547"/>
<rect x="1165.62" y="776.88" width="5.0" height="48.12" fill="#454547"/>
<rect x="1103.75" y="825.0" width="128.12" height="5.0" fill="#454547"/>
<rect x="1103.75" y="830.0" width="4.38" height="15.0" fill="#454547"/>
<rect x="1156.25" y="830.0" width="6.0" height="2.25" fill="#454547"/>
<rect x="1150.0" y="830.0" width="6.25" height="15.0" fill="#454547"/>
<rect x="1162.25" y="830.0" width="8.38" height="7.5" fill="#454547"/>
<rect x="1108.12" y="840.0" width="54.38" height="5.0" fill="#454547"/>
<rect x="1108.12" y="830.0" width="41.88" height="2.25" fill="#454547"/>
<rect x="1215.0" y="830.0" width="5.0" height="7.5" fill="#454547"/>
<rect x="1226.25" y="776.25" width="5.62" height="61.25" fill="#454547"/>
<rect x="1178.75" y="845.62" width="3.12" height="27.5" fill="#454547"/>
<rect x="1205.0" y="845.62" width="4.38" height="9.38" fill="#454547"/>
<rect x="1209.38" y="851.25" width="14.38" height="4.38" fill="#454547"/>
<rect x="1223.75" y="845.62" width="8.12" height="27.5" fill="#454547"/>
<rect x="1352.62" y="568.75" width="18.12" height="4.38" fill="#454547"/>
<rect x="1348.25" y="573.12" width="27.5" height="11.25" fill="#454547"/>
<rect x="1358.0" y="591.88" width="7.75" height="181.25" fill="#454547"/>
<rect x="1460.12" y="568.75" width="19.62" height="19.0" fill="#454547"/>
<rect x="1448.25" y="573.12" width="21.25" height="11.25" fill="#454547"/>
<rect x="1463.88" y="584.38" width="11.25" height="15.38" fill="#454547"/>
<rect x="1463.88" y="645.62" width="5.62" height="28.12" fill="#454547"/>
<rect x="1469.5" y="645.62" width="5.62" height="21.88" fill="#454547"/>
<rect x="1475.12" y="652.5" width="4.62" height="15.0" fill="#454547"/>
<rect x="1479.75" y="658.5" width="5.0" height="9.0" fill="#454547"/>
<rect x="1484.75" y="663.5" width="8.25" height="4.0" fill="#454547"/>
<rect x="1463.88" y="667.5" width="29.12" height="6.25" fill="#454547"/>
<rect x="1541.38" y="658.5" width="18.75" height="5.0" fill="#454547"/>
<rect x="1538.25" y="663.5" width="24.75" height="10.25" fill="#454547"/>
<rect x="1456.38" y="681.88" width="3.75" height="91.25" fill="#454547"/>
<rect x="1557.0" y="681.88" width="3.75" height="91.25" fill="#454547"/>
<rect x="1425.75" y="763.75" width="3.12" height="20.0" fill="#454547"/>
<rect x="1358.0" y="773.0" width="7.75" height="87.5" fill="#454547"/>
<rect x="1364.5" y="782.38" width="64.0" height="5.0" fill="#454547"/>
<rect x="1425.75" y="764.25" width="2.75" height="18.12" fill="#454547"/>
<rect x="1423.25" y="787.38" width="5.25" height="48.12" fill="#454547"/>
<rect x="1423.25" y="859.25" width="5.25" height="40.0" fill="#454547"/>
<rect x="1352.0" y="899.25" width="80.0" height="15.0" fill="#454547"/>
<rect x="1374.5" y="787.38" width="29.38" height="26.25" fill="#454547"/>
<rect x="1463.88" y="906.5" width="19.38" height="7.75" fill="#454547"/>
<rect x="1483.25" y="909.25" width="90.0" height="5.0" fill="#454547"/>
<rect x="1483.25" y="815.5" width="5.0" height="93.75" fill="#454547"/>
<rect x="1465.12" y="815.5" width="48.12" height="5.0" fill="#454547"/>
<rect x="1536.38" y="815.5" width="27.5" height="5.0" fill="#454547"/>
<rect x="1558.88" y="815.5" width="5.0" height="20.0" fill="#454547"/>
<rect x="1488.25" y="860.5" width="42.5" height="5.25" fill="#454547"/>
<rect x="1495.12" y="860.5" width="5.0" height="12.5" fill="#454547"/>
<rect x="1526.38" y="860.5" width="4.38" height="12.5" fill="#454547"/>
<rect x="1483.25" y="881.5" width="7.75" height="27.75" fill="#454547"/>
<rect x="1515.12" y="881.5" width="5.0" height="27.75" fill="#454547"/>
<rect x="1558.88" y="835.5" width="8.12" height="78.75" fill="#454547"/>
<rect x="1456.38" y="764.25" width="3.75" height="21.25" fill="#454547"/>
<rect x="1488.88" y="782.38" width="71.88" height="3.12" fill="#454547"/>
<rect x="1557.0" y="764.25" width="3.75" height="21.25" fill="#454547"/>
<rect x="1488.88" y="782.38" width="6.88" height="5.88" fill="#454547"/>
<rect x="1491.38" y="812.75" width="4.38" height="3.0" fill="#454547"/>
<rect x="1559.5" y="834.25" width="64.62" height="13.75" fill="#454547"/>
<rect x="1577.0" y="848.0" width="3.75" height="61.25" fill="#454547"/>
<rect x="1567.0" y="842.38" width="10.0" height="6.62" fill="#454547"/>
<rect x="1567.0" y="893.0" width="13.75" height="5.0" fill="#454547"/>
<rect x="1567.0" y="906.12" width="13.75" height="3.12" fill="#454547"/>
<rect x="1573.25" y="909.25" width="30.0" height="5.62" fill="#454547"/>
<rect x="1573.25" y="914.25" width="8.12" height="5.62" fill="#454547"/>
<rect x="1573.25" y="951.75" width="8.12" height="12.5" fill="#454547"/>
<rect x="1573.25" y="963.62" width="50.88" height="5.0" fill="#454547"/>
<rect x="1573.25" y="968.62" width="6.88" height="17.5" fill="#454547"/>
<rect x="1565.75" y="963.62" width="7.5" height="5.0" fill="#454547"/>
<rect x="1402.0" y="964.25" width="131.25" height="17.5" fill="#454547"/>
<rect x="1438.25" y="981.75" width="4.38" height="4.38" fill="#454547"/>
<rect x="1520.12" y="975.5" width="6.25" height="10.62" fill="#454547"/>
<rect x="1352.0" y="964.25" width="6.25" height="16.25" fill="#454547"/>
<rect x="986.25" y="754.0" width="19.75" height="18.75" fill="#454547"/>
<rect x="1006.0" y="758.5" width="10.0" height="5.25" fill="#454547"/>
<rect x="996.0" y="763.75" width="21.5" height="6.25" fill="#454547"/>
<rect x="991.25" y="770.0" width="10.0" height="14.38" fill="#454547"/>
<rect x="1071.5" y="758.5" width="11.62" height="11.5" fill="#454547"/>
<rect x="986.25" y="842.5" width="10.0" height="18.5" fill="#454547"/>
<rect x="991.25" y="838.75" width="10.0" height="25.0" fill="#454547"/>
<rect x="986.25" y="926.0" width="10.0" height="17.75" fill="#454547"/>
<rect x="991.25" y="922.5" width="10.0" height="24.38" fill="#454547"/>
<rect x="1009.75" y="922.5" width="112.12" height="3.75" fill="#454547"/>
<rect x="1155.0" y="922.5" width="17.12" height="3.75" fill="#454547"/>
<rect x="1106.25" y="926.25" width="3.75" height="6.25" fill="#454547"/>
<rect x="986.25" y="925.62" width="10.0" height="17.5" fill="#454547"/>
<rect x="991.25" y="922.5" width="10.0" height="23.75" fill="#454547"/>
<rect x="991.25" y="995.62" width="10.0" height="30.0" fill="#454547"/>
<rect x="986.25" y="1003.75" width="5.0" height="21.88" fill="#454547"/>
<rect x="981.25" y="1010.0" width="5.0" height="15.62" fill="#454547"/>
<rect x="972.5" y="1015.62" width="8.75" height="10.0" fill="#454547"/>
<rect x="1009.75" y="922.5" width="112.75" height="3.5" fill="#454547"/>
<rect x="1154.38" y="922.5" width="31.88" height="3.5" fill="#454547"/>
<rect x="1208.75" y="922.5" width="15.0" height="3.5" fill="#454547"/>
<rect x="1178.5" y="871.25" width="3.38" height="51.25" fill="#454547"/>
<rect x="1223.75" y="880.0" width="8.38" height="50.0" fill="#454547"/>
<rect x="1106.5" y="926.0" width="3.5" height="5.88" fill="#454547"/>
<rect x="1106.5" y="957.75" width="4.12" height="67.88" fill="#454547"/>
<rect x="1110.62" y="964.38" width="34.38" height="4.38" fill="#454547"/>
<rect x="1167.5" y="964.38" width="25.0" height="4.38" fill="#454547"/>
<rect x="1192.5" y="964.38" width="7.5" height="128.75" fill="#454547"/>
<rect x="1200.0" y="964.38" width="32.12" height="7.5" fill="#454547"/>
<rect x="1223.75" y="971.88" width="8.38" height="121.25" fill="#454547"/>
<rect x="1110.62" y="988.5" width="13.12" height="37.12" fill="#454547"/>
<rect x="1009.75" y="1025.62" width="91.5" height="7.88" fill="#454547"/>
<rect x="1155.62" y="1025.62" width="44.38" height="7.88" fill="#454547"/>
<rect x="1106.5" y="1033.5" width="5.38" height="59.62" fill="#454547"/>
<rect x="1134.38" y="1033.5" width="3.12" height="36.5" fill="#454547"/>
<rect x="1111.88" y="1041.88" width="22.5" height="5.0" fill="#454547"/>
<rect x="1111.88" y="1066.25" width="25.62" height="5.0" fill="#454547"/>
<rect x="1132.5" y="1046.88" width="5.0" height="19.38" fill="#454547"/>
<rect x="1200.0" y="963.75" width="31.88" height="7.5" fill="#454547"/>
<rect x="1223.12" y="963.75" width="6.88" height="189.38" fill="#454547"/>
<rect x="1230.0" y="963.75" width="128.75" height="17.75" fill="#454547"/>
<rect x="1305.62" y="981.5" width="6.25" height="16.25" fill="#454547"/>
<rect x="1305.62" y="1023.75" width="6.25" height="25.0" fill="#454547"/>
<rect x="1305.62" y="1074.38" width="6.25" height="32.5" fill="#454547"/>
<rect x="1305.62" y="1133.12" width="6.25" height="20.0" fill="#454547"/>
<rect x="1230.0" y="1033.12" width="81.88" height="6.25" fill="#454547"/>
<rect x="1230.0" y="1091.25" width="81.88" height="6.5" fill="#454547"/>
<rect x="1223.12" y="1149.38" width="128.12" height="3.75" fill="#454547"/>
<rect x="1395.0" y="1149.38" width="50.0" height="3.75" fill="#454547"/>
<rect x="1200.0" y="1093.12" width="23.12" height="4.62" fill="#454547"/>
<rect x="1401.88" y="963.75" width="70.25" height="17.75" fill="#454547"/>
<rect x="1438.75" y="981.5" width="4.38" height="20.38" fill="#454547"/>
<rect x="1438.75" y="1001.88" width="33.38" height="6.25" fill="#454547"/>
<rect x="1438.75" y="1008.12" width="6.25" height="16.62" fill="#454547"/>
<rect x="1438.75" y="1051.0" width="6.25" height="31.5" fill="#454547"/>
<rect x="1445.0" y="1060.0" width="27.12" height="5.62" fill="#454547"/>
<rect x="1438.75" y="1109.0" width="6.25" height="44.12" fill="#454547"/>
<rect x="1445.0" y="1118.75" width="27.12" height="5.62" fill="#454547"/>
<rect x="1520.12" y="974.75" width="6.88" height="178.38" fill="#454547"/>
<rect x="1472.0" y="1001.88" width="48.12" height="6.25" fill="#454547"/>
<rect x="1472.0" y="1060.0" width="48.12" height="5.62" fill="#454547"/>
<rect x="1472.0" y="1118.75" width="48.12" height="5.62" fill="#454547"/>
<rect x="1472.0" y="1143.75" width="48.12" height="9.38" fill="#454547"/>
<rect x="1573.25" y="951.25" width="8.12" height="12.5" fill="#454547"/>
<rect x="1573.25" y="963.75" width="99.38" height="6.0" fill="#454547"/>
<rect x="1573.25" y="969.75" width="6.5" height="140.25" fill="#454547"/>
<rect x="1658.25" y="969.75" width="6.88" height="183.38" fill="#454547"/>
<rect x="1573.25" y="1141.5" width="91.88" height="6.0" fill="#454547"/>
<rect x="1573.25" y="1140.62" width="6.88" height="12.5" fill="#454547"/>
<rect x="1672.62" y="944.38" width="4.38" height="61.25" fill="#454547"/>
<rect x="1665.12" y="993.75" width="11.88" height="5.0" fill="#454547"/>
<rect x="1658.25" y="1005.62" width="71.25" height="7.5" fill="#454547"/>
<rect x="1723.25" y="1021.25" width="20.88" height="6.25" fill="#454547"/>
<rect x="1723.25" y="1013.12" width="3.75" height="8.12" fill="#454547"/>
<rect x="1723.25" y="1027.5" width="6.25" height="32.5" fill="#454547"/>
<rect x="1723.25" y="1055.0" width="20.88" height="5.0" fill="#454547"/>
<rect x="1665.12" y="1086.25" width="23.12" height="5.62" fill="#454547"/>
<rect x="1711.38" y="1086.25" width="32.75" height="5.62" fill="#454547"/>
<rect x="1728.25" y="1118.12" width="4.38" height="18.75" fill="#454547"/>
<rect x="1732.62" y="1136.25" width="11.5" height="16.88" fill="#454547"/>
<rect x="1665.12" y="1147.5" width="19.38" height="5.62" fill="#454547"/>
<rect x="1717.0" y="1147.5" width="27.12" height="5.62" fill="#454547"/>
<rect x="1651.5" y="733.12" width="6.0" height="29.38" fill="#454547"/>
<rect x="1657.5" y="733.12" width="5.25" height="23.75" fill="#454547"/>
<rect x="1662.75" y="741.88" width="4.38" height="15.0" fill="#454547"/>
<rect x="1667.12" y="746.88" width="5.62" height="10.0" fill="#454547"/>
<rect x="1672.75" y="752.25" width="9.0" height="4.62" fill="#454547"/>
<rect x="1651.5" y="756.88" width="30.25" height="5.88" fill="#454547"/>
<rect x="1644.0" y="770.62" width="7.5" height="48.12" fill="#454547"/>
<rect x="1624.0" y="834.38" width="27.5" height="14.38" fill="#454547"/>
<rect x="1647.12" y="848.75" width="4.38" height="62.5" fill="#454547"/>
<rect x="1729.25" y="747.25" width="17.88" height="5.0" fill="#454547"/>
<rect x="1724.25" y="752.25" width="27.88" height="4.62" fill="#454547"/>
<rect x="1723.38" y="756.88" width="31.25" height="6.25" fill="#454547"/>
<rect x="1835.5" y="747.25" width="19.5" height="19.25" fill="#454547"/>
<rect x="1824.0" y="752.25" width="21.25" height="11.5" fill="#454547"/>
<rect x="1839.62" y="763.75" width="10.38" height="15.0" fill="#454547"/>
<rect x="1839.62" y="810.0" width="10.38" height="28.12" fill="#454547"/>
<rect x="1845.25" y="815.25" width="9.75" height="18.5" fill="#454547"/>
<rect x="1839.62" y="876.88" width="5.62" height="38.12" fill="#454547"/>
<rect x="1845.25" y="877.5" width="4.75" height="23.75" fill="#454547"/>
<rect x="1850.0" y="886.0" width="5.0" height="15.25" fill="#454547"/>
<rect x="1855.0" y="891.25" width="5.88" height="10.0" fill="#454547"/>
<rect x="1839.62" y="901.25" width="53.12" height="13.75" fill="#454547"/>
<rect x="1845.25" y="896.25" width="50.88" height="5.62" fill="#454547"/>
<rect x="1738.0" y="770.62" width="3.5" height="140.62" fill="#454547"/>
<rect x="1626.5" y="910.62" width="30.25" height="4.38" fill="#454547"/>
<rect x="1681.75" y="910.62" width="63.5" height="4.38" fill="#454547"/>
<rect x="1770.88" y="910.62" width="68.75" height="4.38" fill="#454547"/>
<rect x="1845.62" y="896.25" width="46.88" height="5.62" fill="#454547"/>
<rect x="1845.62" y="901.88" width="55.62" height="12.88" fill="#454547"/>
<rect x="1892.25" y="891.25" width="19.62" height="19.38" fill="#454547"/>
<rect x="1901.25" y="910.62" width="5.62" height="11.88" fill="#454547"/>
<rect x="1895.62" y="901.88" width="5.62" height="21.25" fill="#454547"/>
<rect x="1895.62" y="995.62" width="5.62" height="28.75" fill="#454547"/>
<rect x="1901.25" y="996.88" width="5.62" height="26.88" fill="#454547"/>
<rect x="1901.25" y="1001.25" width="10.62" height="18.75" fill="#454547"/>
<rect x="1820.0" y="1005.25" width="68.5" height="8.5" fill="#454547"/>
<rect x="1896.0" y="995.0" width="5.25" height="29.38" fill="#454547"/>
<rect x="1901.25" y="996.5" width="5.62" height="27.5" fill="#454547"/>
<rect x="1901.25" y="1001.25" width="10.62" height="18.5" fill="#454547"/>
<rect x="1896.0" y="1115.0" width="5.25" height="38.12" fill="#454547"/>
<rect x="1901.25" y="1116.25" width="5.62" height="31.25" fill="#454547"/>
<rect x="1901.25" y="1123.5" width="10.62" height="18.38" fill="#454547"/>
<rect x="1700.0" y="1005.62" width="29.38" height="7.88" fill="#454547"/>
<rect x="1783.5" y="1005.62" width="105.25" height="7.88" fill="#454547"/>
<rect x="1723.5" y="1013.5" width="5.25" height="46.5" fill="#454547"/>
<rect x="1723.5" y="1021.88" width="24.0" height="5.62" fill="#454547"/>
<rect x="1747.5" y="1013.5" width="4.75" height="78.38" fill="#454547"/>
<rect x="1723.5" y="1055.0" width="24.0" height="5.0" fill="#454547"/>
<rect x="1711.25" y="1086.25" width="41.0" height="5.62" fill="#454547"/>
<rect x="1728.12" y="1118.12" width="4.12" height="18.75" fill="#454547"/>
<rect x="1802.25" y="1118.12" width="3.75" height="18.75" fill="#454547"/>
<rect x="1728.12" y="1136.25" width="160.62" height="12.5" fill="#454547"/>
<rect x="1716.88" y="1146.88" width="26.25" height="6.25" fill="#454547"/>
<rect x="1658.75" y="1130.0" width="6.25" height="25.0" fill="#454547"/>
<rect x="1640.0" y="1141.25" width="18.75" height="6.25" fill="#454547"/>
<rect x="1640.0" y="1153.12" width="18.75" height="2.5" fill="#454547"/>
<rect x="1658.75" y="1147.5" width="26.25" height="8.12" fill="#454547"/>
<rect x="1716.25" y="1147.5" width="26.88" height="8.12" fill="#454547"/>
<rect x="1728.12" y="1136.25" width="160.0" height="13.12" fill="#454547"/>
<rect x="1728.12" y="1130.0" width="3.75" height="6.25" fill="#454547"/>
<rect x="1802.25" y="1130.0" width="3.75" height="6.25" fill="#454547"/>
<rect x="1728.12" y="1181.88" width="8.12" height="35.0" fill="#454547"/>
<rect x="1736.25" y="1184.38" width="77.5" height="13.75" fill="#454547"/>
<rect x="1800.0" y="1198.12" width="13.75" height="17.5" fill="#454547"/>
<rect x="1813.75" y="1202.25" width="74.38" height="13.38" fill="#454547"/>
<rect x="1895.62" y="1187.5" width="16.5" height="22.5" fill="#454547"/>
<rect x="1895.62" y="1130.0" width="16.5" height="24.38" fill="#454547"/>
<rect x="1728.12" y="1248.75" width="45.62" height="6.0" fill="#454547"/>
<rect x="1796.25" y="1249.38" width="40.62" height="5.38" fill="#454547"/>
<rect x="1728.12" y="1254.75" width="7.5" height="88.38" fill="#454547"/>
<rect x="1832.5" y="1254.75" width="4.38" height="88.38" fill="#454547"/>
<rect x="1735.62" y="1263.5" width="12.5" height="4.62" fill="#454547"/>
<rect x="1743.5" y="1263.5" width="4.62" height="49.62" fill="#454547"/>
<rect x="1818.75" y="1276.88" width="18.12" height="36.25" fill="#454547"/>
<rect x="1735.62" y="1313.12" width="47.5" height="7.5" fill="#454547"/>
<rect x="1836.25" y="1313.12" width="75.88" height="7.5" fill="#454547"/>
<rect x="1896.0" y="1130.0" width="5.88" height="24.38" fill="#454547"/>
<rect x="1901.88" y="1130.0" width="5.38" height="17.5" fill="#454547"/>
<rect x="1901.88" y="1130.0" width="10.0" height="11.88" fill="#454547"/>
<rect x="1896.0" y="1186.88" width="5.88" height="23.12" fill="#454547"/>
<rect x="1901.88" y="1185.0" width="5.38" height="17.5" fill="#454547"/>
<rect x="1907.25" y="1187.25" width="4.62" height="15.25" fill="#454547"/>
<rect x="1911.88" y="1192.25" width="5.0" height="10.25" fill="#454547"/>
<rect x="1916.88" y="1197.25" width="11.25" height="5.25" fill="#454547"/>
<rect x="1896.0" y="1202.5" width="30.25" height="6.88" fill="#454547"/>
<rect x="1981.5" y="1192.25" width="19.5" height="19.62" fill="#454547"/>
<rect x="1971.25" y="1197.5" width="10.25" height="5.0" fill="#454547"/>
<rect x="1971.25" y="1202.5" width="20.0" height="6.88" fill="#454547"/>
<rect x="1985.62" y="1209.38" width="10.62" height="14.12" fill="#454547"/>
<rect x="1985.62" y="1300.0" width="5.62" height="27.5" fill="#454547"/>
<rect x="1991.25" y="1299.38" width="4.75" height="26.62" fill="#454547"/>
<rect x="1991.25" y="1303.75" width="9.75" height="18.12" fill="#454547"/>
<rect x="1860.0" y="1313.12" width="117.5" height="7.5" fill="#454547"/>
<rect x="1728.5" y="1330.0" width="7.5" height="62.5" fill="#454547"/>
<rect x="1743.12" y="1322.25" width="5.0" height="49.0" fill="#454547"/>
<rect x="1736.0" y="1366.25" width="12.12" height="5.0" fill="#454547"/>
<rect x="1818.5" y="1330.0" width="18.38" height="27.5" fill="#454547"/>
<rect x="1832.5" y="1330.0" width="4.38" height="62.5" fill="#454547"/>
<rect x="1736.0" y="1385.0" width="39.62" height="5.62" fill="#454547"/>
<rect x="1799.38" y="1385.0" width="37.5" height="5.62" fill="#454547"/>
<rect x="1728.5" y="1425.62" width="7.5" height="71.25" fill="#454547"/>
<rect x="1833.12" y="1419.38" width="4.38" height="4.38" fill="#454547"/>
<rect x="1822.5" y="1423.12" width="117.5" height="4.12" fill="#454547"/>
<rect x="1940.0" y="1431.88" width="32.12" height="5.62" fill="#454547"/>
<rect x="1788.12" y="1423.12" width="9.38" height="4.12" fill="#454547"/>
<rect x="1788.12" y="1427.25" width="3.75" height="41.5" fill="#454547"/>
<rect x="1736.0" y="1444.0" width="52.75" height="4.75" fill="#454547"/>
<rect x="1750.0" y="1448.75" width="4.75" height="11.25" fill="#454547"/>
<rect x="1736.0" y="1455.0" width="18.75" height="5.0" fill="#454547"/>
<rect x="1736.0" y="1495.25" width="55.88" height="8.5" fill="#454547"/>
<rect x="1783.12" y="1495.25" width="8.75" height="16.62" fill="#454547"/>
<rect x="1727.5" y="1496.88" width="8.5" height="21.88" fill="#454547"/>
<rect x="1727.5" y="1515.0" width="71.25" height="3.75" fill="#454547"/>
<rect x="1791.88" y="1511.25" width="180.25" height="7.5" fill="#454547"/>
<rect x="1940.0" y="1499.38" width="14.38" height="11.88" fill="#454547"/>
<rect x="1954.38" y="1505.62" width="17.75" height="5.62" fill="#454547"/>
<rect x="1745.0" y="1518.75" width="3.75" height="24.38" fill="#454547"/>
<rect x="1836.88" y="1518.75" width="5.0" height="24.38" fill="#454547"/>
<rect x="1841.88" y="1520.62" width="130.25" height="4.38" fill="#454547"/>
<rect x="1898.12" y="1525.0" width="4.38" height="18.12" fill="#454547"/>
<rect x="1648.12" y="658.12" width="19.12" height="19.38" fill="#454547"/>
<rect x="1636.25" y="663.12" width="21.25" height="10.0" fill="#454547"/>
<rect x="1651.88" y="673.12" width="11.25" height="16.25" fill="#454547"/>
<rect x="1651.88" y="733.12" width="5.62" height="29.38" fill="#454547"/>
<rect x="1657.5" y="733.12" width="5.62" height="23.75" fill="#454547"/>
<rect x="1223.75" y="873.0" width="8.12" height="57.0" fill="#454547"/>
<rect x="1299.38" y="873.0" width="5.62" height="9.5" fill="#454547"/>
<rect x="1326.25" y="862.5" width="4.38" height="20.0" fill="#454547"/>
<rect x="1285.62" y="882.5" width="72.5" height="8.12" fill="#454547"/>
<rect x="1285.62" y="890.62" width="8.12" height="23.12" fill="#454547"/>
<rect x="1293.75" y="909.38" width="64.38" height="4.38" fill="#454547"/>
<rect x="1231.88" y="906.5" width="20.0" height="7.25" fill="#454547"/>
<rect x="1284.38" y="906.5" width="9.38" height="7.25" fill="#454547"/>
<rect x="888.12" y="1010.25" width="18.75" height="19.12" fill="#454547"/>
<rect x="906.88" y="1015.25" width="12.12" height="4.75" fill="#454547"/>
<rect x="897.5" y="1020.0" width="22.25" height="5.62" fill="#454547"/>
<rect x="893.12" y="1025.62" width="10.0" height="15.62" fill="#454547"/>
<rect x="986.25" y="1005.0" width="9.38" height="20.0" fill="#454547"/>
<rect x="981.25" y="1010.62" width="5.0" height="14.38" fill="#454547"/>
<rect x="971.88" y="1015.25" width="9.38" height="9.75" fill="#454547"/>
<rect x="973.12" y="1020.0" width="28.75" height="5.62" fill="#454547"/>
<rect x="1009.75" y="1025.62" width="91.5" height="7.88" fill="#454547"/>
<rect x="888.12" y="1113.75" width="9.38" height="18.75" fill="#454547"/>
<rect x="893.12" y="1109.38" width="10.0" height="27.5" fill="#454547"/>
<rect x="897.5" y="1101.88" width="5.62" height="36.88" fill="#454547"/>
<rect x="903.12" y="1135.0" width="8.75" height="3.75" fill="#454547"/>
<rect x="936.88" y="1126.5" width="16.88" height="16.0" fill="#454547"/>
<rect x="953.75" y="1126.5" width="135.0" height="3.5" fill="#454547"/>
<rect x="940.0" y="1202.5" width="13.75" height="10.62" fill="#454547"/>
<rect x="1088.12" y="1123.12" width="4.12" height="19.38" fill="#454547"/>
<rect x="1088.12" y="1166.88" width="4.12" height="46.25" fill="#454547"/>
<rect x="1088.12" y="1093.12" width="18.75" height="3.75" fill="#454547"/>
<rect x="1106.25" y="1033.5" width="5.62" height="62.75" fill="#454547"/>
<rect x="1106.88" y="1091.88" width="25.25" height="4.38" fill="#454547"/>
<rect x="1088.12" y="1092.5" width="48.75" height="4.38" fill="#454547"/>
<rect x="1106.88" y="1080.0" width="4.62" height="16.88" fill="#454547"/>
<rect x="1131.88" y="1091.25" width="5.0" height="9.38" fill="#454547"/>
<rect x="1088.12" y="1121.88" width="3.75" height="20.62" fill="#454547"/>
<rect x="1060.0" y="1126.25" width="28.12" height="3.75" fill="#454547"/>
<rect x="1088.12" y="1166.25" width="3.75" height="48.12" fill="#454547"/>
<rect x="1131.88" y="1123.12" width="16.88" height="5.62" fill="#454547"/>
<rect x="1156.25" y="1123.12" width="43.12" height="8.12" fill="#454547"/>
<rect x="1192.5" y="1080.0" width="6.88" height="51.25" fill="#454547"/>
<rect x="1195.0" y="1131.25" width="5.0" height="18.75" fill="#454547"/>
<rect x="1148.12" y="1150.0" width="184.0" height="5.62" fill="#454547"/>
<rect x="1148.12" y="1150.0" width="8.12" height="9.38" fill="#454547"/>
<rect x="1148.12" y="1191.25" width="8.12" height="23.12" fill="#454547"/>
<rect x="1060.0" y="1214.38" width="41.25" height="8.12" fill="#454547"/>
<rect x="1111.25" y="1222.5" width="5.0" height="18.75" fill="#454547"/>
<rect x="1116.25" y="1236.88" width="6.25" height="4.38" fill="#454547"/>
<rect x="1122.5" y="1222.5" width="6.88" height="57.5" fill="#454547"/>
<rect x="1143.12" y="1222.5" width="3.75" height="50.0" fill="#454547"/>
<rect x="1153.12" y="1222.5" width="3.12" height="70.62" fill="#454547"/>
<rect x="1122.5" y="1272.5" width="33.75" height="7.5" fill="#454547"/>
<rect x="1060.0" y="1222.5" width="5.0" height="17.5" fill="#454547"/>
<rect x="1060.0" y="1265.0" width="5.0" height="28.12" fill="#454547"/>
<rect x="1065.0" y="1276.88" width="57.5" height="3.75" fill="#454547"/>
<rect x="1204.38" y="1204.38" width="127.75" height="13.12" fill="#454547"/>
<rect x="1289.75" y="1217.5" width="5.88" height="75.62" fill="#454547"/>
<rect x="1295.62" y="1231.88" width="36.5" height="7.5" fill="#454547"/>
<rect x="1204.38" y="1217.5" width="6.25" height="4.38" fill="#454547"/>
<rect x="1204.38" y="1253.12" width="6.25" height="40.0" fill="#454547"/>
<rect x="1258.5" y="1217.5" width="4.25" height="46.25" fill="#454547"/>
<rect x="1246.88" y="1263.5" width="43.12" height="4.25" fill="#454547"/>
<rect x="1210.62" y="1263.5" width="5.0" height="4.25" fill="#454547"/>
<rect x="1295.62" y="1247.5" width="12.5" height="5.0" fill="#454547"/>
<rect x="1303.75" y="1252.5" width="4.38" height="23.75" fill="#454547"/>
<rect x="1295.62" y="1271.25" width="12.5" height="5.0" fill="#454547"/>
<rect x="888.12" y="1206.88" width="9.38" height="19.38" fill="#454547"/>
<rect x="893.12" y="1202.5" width="10.62" height="27.5" fill="#454547"/>
<rect x="897.5" y="1210.0" width="14.38" height="20.0" fill="#454547"/>
<rect x="940.0" y="1202.5" width="13.75" height="12.5" fill="#454547"/>
<rect x="897.5" y="1210.0" width="56.25" height="12.75" fill="#454547"/>
<rect x="946.25" y="1214.38" width="155.0" height="8.38" fill="#454547"/>
<rect x="897.5" y="1277.5" width="14.38" height="28.12" fill="#454547"/>
<rect x="893.12" y="1277.5" width="4.38" height="22.5" fill="#454547"/>
<rect x="888.12" y="1284.38" width="5.0" height="15.62" fill="#454547"/>
<rect x="882.5" y="1290.0" width="5.62" height="10.0" fill="#454547"/>
<rect x="873.5" y="1295.25" width="9.0" height="4.75" fill="#454547"/>
<rect x="873.5" y="1300.0" width="24.0" height="5.62" fill="#454547"/>
<rect x="911.88" y="1310.25" width="120.0" height="3.5" fill="#454547"/>
<rect x="1056.88" y="1310.25" width="8.12" height="3.5" fill="#454547"/>
<rect x="1061.25" y="1222.75" width="3.75" height="17.25" fill="#454547"/>
<rect x="1061.25" y="1263.75" width="3.75" height="50.0" fill="#454547"/>
<rect x="1065.0" y="1276.88" width="57.5" height="3.75" fill="#454547"/>
<rect x="1111.25" y="1222.75" width="5.0" height="18.75" fill="#454547"/>
<rect x="1116.25" y="1236.88" width="6.25" height="4.62" fill="#454547"/>
<rect x="1121.88" y="1222.75" width="7.5" height="57.88" fill="#454547"/>
<rect x="1014.0" y="1341.62" width="4.75" height="61.5" fill="#454547"/>
<rect x="1014.0" y="1341.62" width="59.75" height="4.38" fill="#454547"/>
<rect x="1097.5" y="1341.62" width="34.62" height="4.38" fill="#454547"/>
<rect x="1014.0" y="1366.25" width="31.62" height="38.75" fill="#454547"/>
<rect x="1128.75" y="1341.62" width="26.25" height="63.38" fill="#454547"/>
<rect x="790.0" y="1290.25" width="19.0" height="19.5" fill="#454547"/>
<rect x="809.0" y="1295.25" width="13.25" height="5.38" fill="#454547"/>
<rect x="799.38" y="1300.62" width="21.88" height="5.0" fill="#454547"/>
<rect x="794.75" y="1305.62" width="10.25" height="14.12" fill="#454547"/>
<rect x="875.0" y="1300.0" width="23.12" height="5.62" fill="#454547"/>
<rect x="790.0" y="1406.25" width="9.38" height="18.75" fill="#454547"/>
<rect x="794.38" y="1401.88" width="10.62" height="27.5" fill="#454547"/>
<rect x="799.38" y="1400.0" width="5.62" height="30.0" fill="#454547"/>
<rect x="812.75" y="1404.38" width="171.62" height="7.88" fill="#454547"/>
<rect x="1037.5" y="1404.38" width="14.62" height="7.88" fill="#454547"/>
<rect x="1001.88" y="1444.38" width="4.62" height="38.75" fill="#454547"/>
<rect x="1001.88" y="1444.38" width="50.25" height="4.38" fill="#454547"/>
<rect x="1000.0" y="1404.38" width="156.25" height="7.5" fill="#454547"/>
<rect x="1148.12" y="1445.0" width="8.12" height="73.75" fill="#454547"/>
<rect x="1001.25" y="1444.38" width="52.5" height="4.62" fill="#454547"/>
<rect x="1076.25" y="1444.38" width="29.75" height="4.62" fill="#454547"/>
<rect x="1101.25" y="1444.38" width="4.75" height="66.88" fill="#454547"/>
<rect x="1001.25" y="1444.38" width="5.0" height="66.88" fill="#454547"/>
<rect x="1129.38" y="1462.25" width="18.75" height="3.38" fill="#454547"/>
<rect x="1006.25" y="1473.5" width="26.5" height="37.75" fill="#454547"/>
<rect x="1009.38" y="1511.25" width="146.88" height="7.5" fill="#454547"/>
<rect x="1001.25" y="1553.75" width="8.12" height="59.38" fill="#454547"/>
<rect x="1009.38" y="1518.75" width="6.25" height="72.5" fill="#454547"/>
<rect x="1023.12" y="1518.75" width="4.62" height="12.5" fill="#454547"/>
<rect x="1015.62" y="1526.88" width="122.5" height="4.62" fill="#454547"/>
<rect x="1060.0" y="1518.75" width="5.0" height="72.5" fill="#454547"/>
<rect x="1120.25" y="1518.75" width="4.75" height="12.5" fill="#454547"/>
<rect x="1132.75" y="1518.75" width="5.38" height="72.5" fill="#454547"/>
<rect x="1009.38" y="1586.25" width="25.0" height="5.0" fill="#454547"/>
<rect x="1056.88" y="1586.25" width="50.62" height="5.0" fill="#454547"/>
<rect x="1131.25" y="1586.25" width="6.88" height="5.0" fill="#454547"/>
<rect x="1189.38" y="1485.62" width="15.62" height="6.88" fill="#454547"/>
<rect x="1205.0" y="1481.25" width="12.5" height="34.38" fill="#454547"/>
<rect x="1155.62" y="1485.0" width="3.12" height="7.5" fill="#454547"/>
<rect x="1204.38" y="1400.0" width="6.88" height="55.0" fill="#454547"/>
<rect x="1204.38" y="1441.25" width="67.75" height="13.75" fill="#454547"/>
<rect x="1217.5" y="1503.75" width="54.62" height="11.88" fill="#454547"/>
<rect x="1191.25" y="1515.62" width="19.38" height="41.88" fill="#454547"/>
<rect x="1191.25" y="1557.5" width="4.0" height="25.0" fill="#454547"/>
<rect x="1191.25" y="1608.12" width="4.0" height="5.0" fill="#454547"/>
<rect x="1289.75" y="1204.38" width="95.25" height="35.0" fill="#454547"/>
<rect x="1204.38" y="1253.75" width="6.25" height="159.38" fill="#454547"/>
<rect x="1289.38" y="1239.38" width="6.62" height="173.75" fill="#454547"/>
<rect x="1296.0" y="1247.25" width="12.12" height="5.25" fill="#454547"/>
<rect x="1303.5" y="1252.5" width="4.62" height="23.12" fill="#454547"/>
<rect x="1296.0" y="1271.25" width="12.12" height="4.38" fill="#454547"/>
<rect x="1379.38" y="1239.38" width="5.62" height="12.5" fill="#454547"/>
<rect x="1379.38" y="1275.0" width="5.62" height="26.25" fill="#454547"/>
<rect x="1296.0" y="1296.25" width="89.0" height="5.62" fill="#454547"/>
<rect x="1381.25" y="1301.88" width="3.75" height="18.75" fill="#454547"/>
<rect x="1381.25" y="1346.88" width="3.75" height="66.25" fill="#454547"/>
<rect x="1418.12" y="1204.38" width="44.0" height="7.5" fill="#454547"/>
<rect x="1429.38" y="1211.88" width="4.38" height="19.38" fill="#454547"/>
<rect x="1429.38" y="1254.38" width="4.38" height="27.5" fill="#454547"/>
<rect x="1429.38" y="1277.5" width="32.75" height="4.38" fill="#454547"/>
<rect x="1443.75" y="1261.88" width="18.38" height="16.25" fill="#454547"/>
<rect x="1440.0" y="1204.38" width="145.62" height="7.5" fill="#454547"/>
<rect x="1558.12" y="1204.38" width="8.75" height="19.38" fill="#454547"/>
<rect x="1481.25" y="1211.88" width="8.5" height="191.25" fill="#454547"/>
<rect x="1489.75" y="1216.25" width="77.12" height="7.5" fill="#454547"/>
<rect x="1618.75" y="1204.38" width="61.25" height="7.5" fill="#454547"/>
<rect x="1630.0" y="1204.38" width="50.0" height="64.62" fill="#454547"/>
<rect x="1675.62" y="1204.38" width="4.38" height="198.75" fill="#454547"/>
<rect x="1672.5" y="1317.5" width="7.5" height="85.62" fill="#454547"/>
<rect x="1656.88" y="1310.0" width="23.12" height="7.5" fill="#454547"/>
<rect x="1630.0" y="1269.0" width="18.5" height="2.5" fill="#454547"/>
<rect x="1630.0" y="1269.0" width="3.12" height="13.5" fill="#454547"/>
<rect x="1630.0" y="1280.62" width="18.5" height="2.12" fill="#454547"/>
<rect x="1561.25" y="1223.75" width="5.62" height="22.5" fill="#454547"/>
<rect x="1561.25" y="1268.75" width="5.62" height="38.75" fill="#454547"/>
<rect x="1489.75" y="1279.38" width="38.0" height="28.12" fill="#454547"/>
<rect x="1489.75" y="1306.25" width="93.38" height="4.75" fill="#454547"/>
<rect x="1579.0" y="1307.5" width="4.12" height="21.0" fill="#454547"/>
<rect x="1579.38" y="1355.62" width="8.12" height="3.12" fill="#454547"/>
<rect x="1611.88" y="1355.62" width="54.38" height="3.12" fill="#454547"/>
<rect x="1579.38" y="1358.75" width="3.75" height="44.38" fill="#454547"/>
<rect x="1665.62" y="1355.62" width="6.88" height="47.5" fill="#454547"/>
<rect x="1443.5" y="1262.25" width="37.75" height="19.0" fill="#454547"/>
<rect x="790.0" y="1514.38" width="10.0" height="18.75" fill="#454547"/>
<rect x="794.75" y="1510.62" width="10.25" height="26.88" fill="#454547"/>
<rect x="800.0" y="1508.75" width="5.0" height="28.75" fill="#454547"/>
<rect x="812.75" y="1511.25" width="58.5" height="3.75" fill="#454547"/>
<rect x="896.88" y="1511.25" width="11.88" height="3.75" fill="#454547"/>
<rect x="933.75" y="1511.25" width="67.5" height="3.75" fill="#454547"/>
<rect x="900.25" y="1515.0" width="3.75" height="110.62" fill="#454547"/>
<rect x="790.0" y="1630.0" width="19.0" height="19.0" fill="#454547"/>
<rect x="794.75" y="1618.12" width="10.88" height="11.88" fill="#454547"/>
<rect x="799.38" y="1617.5" width="6.25" height="22.5" fill="#454547"/>
<rect x="799.38" y="1633.75" width="22.5" height="6.25" fill="#454547"/>
<rect x="809.0" y="1640.0" width="12.88" height="4.75" fill="#454547"/>
<rect x="883.5" y="1634.0" width="44.62" height="6.25" fill="#454547"/>
<rect x="884.38" y="1640.25" width="43.38" height="4.5" fill="#454547"/>
<rect x="896.25" y="1640.25" width="18.75" height="8.75" fill="#454547"/>
<rect x="972.5" y="1634.0" width="28.75" height="6.0" fill="#454547"/>
<rect x="972.5" y="1640.0" width="28.75" height="4.38" fill="#454547"/>
<rect x="981.25" y="1644.38" width="20.0" height="4.38" fill="#454547"/>
<rect x="986.25" y="1648.75" width="15.0" height="5.62" fill="#454547"/>
<rect x="991.25" y="1654.38" width="10.0" height="10.0" fill="#454547"/>
<rect x="1001.25" y="1553.75" width="8.5" height="71.88" fill="#454547"/>
<rect x="1001.25" y="1480.0" width="5.25" height="31.88" fill="#454547"/>
<rect x="1009.75" y="1511.88" width="42.38" height="6.88" fill="#454547"/>
<rect x="1009.75" y="1586.88" width="25.25" height="4.62" fill="#454547"/>
<rect x="1009.75" y="1638.5" width="42.38" height="3.38" fill="#454547"/>
<rect x="1001.25" y="1570.0" width="8.5" height="56.25" fill="#454547"/>
<rect x="986.25" y="1700.62" width="10.0" height="18.12" fill="#454547"/>
<rect x="991.25" y="1696.88" width="10.0" height="26.88" fill="#454547"/>
<rect x="991.25" y="1750.0" width="10.0" height="20.0" fill="#454547"/>
<rect x="996.25" y="1765.0" width="18.75" height="5.62" fill="#454547"/>
<rect x="1005.62" y="1770.62" width="4.38" height="5.0" fill="#454547"/>
<rect x="986.25" y="1761.25" width="19.38" height="19.38" fill="#454547"/>
<rect x="1085.62" y="1765.25" width="27.12" height="6.0" fill="#454547"/>
<rect x="1085.62" y="1771.25" width="27.12" height="4.38" fill="#454547"/>
<rect x="1089.38" y="1771.25" width="18.75" height="9.38" fill="#454547"/>
<rect x="1198.75" y="1750.0" width="5.62" height="20.0" fill="#454547"/>
<rect x="1181.88" y="1765.0" width="22.5" height="5.62" fill="#454547"/>
<rect x="1204.38" y="1750.62" width="5.62" height="10.62" fill="#454547"/>
<rect x="1190.62" y="1770.62" width="4.38" height="5.0" fill="#454547"/>
<rect x="1195.0" y="1761.25" width="19.38" height="19.38" fill="#454547"/>
<rect x="1199.0" y="1675.0" width="28.5" height="10.62" fill="#454547"/>
<rect x="1204.38" y="1685.62" width="15.62" height="5.0" fill="#454547"/>
<rect x="1204.38" y="1690.62" width="10.0" height="6.25" fill="#454547"/>
<rect x="1204.38" y="1696.88" width="5.62" height="8.75" fill="#454547"/>
<rect x="1199.0" y="1680.62" width="5.38" height="25.0" fill="#454547"/>
<rect x="1009.75" y="1638.12" width="66.5" height="3.75" fill="#454547"/>
<rect x="1102.5" y="1621.25" width="3.75" height="136.0" fill="#454547"/>
<rect x="1102.5" y="1619.38" width="4.0" height="3.75" fill="#454547"/>
<rect x="1102.5" y="1591.25" width="5.0" height="3.75" fill="#454547"/>
<rect x="1106.25" y="1626.0" width="53.75" height="3.75" fill="#454547"/>
<rect x="1187.5" y="1626.0" width="3.75" height="3.75" fill="#454547"/>
<rect x="1191.25" y="1608.75" width="3.75" height="58.75" fill="#454547"/>
<rect x="1191.25" y="1570.0" width="3.75" height="11.88" fill="#454547"/>
<rect x="1204.25" y="1420.0" width="6.5" height="35.0" fill="#454547"/>
<rect x="1204.25" y="1441.25" width="94.0" height="13.5" fill="#454547"/>
<rect x="1289.5" y="1412.5" width="6.25" height="28.75" fill="#454547"/>
<rect x="1283.25" y="1441.25" width="19.38" height="24.38" fill="#454547"/>
<rect x="1302.62" y="1448.12" width="21.25" height="10.0" fill="#454547"/>
<rect x="1302.62" y="1458.12" width="15.62" height="4.38" fill="#454547"/>
<rect x="1302.62" y="1462.5" width="10.0" height="3.12" fill="#454547"/>
<rect x="1283.25" y="1493.75" width="19.38" height="9.38" fill="#454547"/>
<rect x="1296.38" y="1503.12" width="6.25" height="33.75" fill="#454547"/>
<rect x="1204.25" y="1481.25" width="13.38" height="35.0" fill="#454547"/>
<rect x="1217.62" y="1503.12" width="71.88" height="13.12" fill="#454547"/>
<rect x="1189.5" y="1485.0" width="14.75" height="7.5" fill="#454547"/>
<rect x="1289.5" y="1565.0" width="13.12" height="68.12" fill="#454547"/>
<rect x="1302.62" y="1563.75" width="5.38" height="69.38" fill="#454547"/>
<rect x="1302.62" y="1573.5" width="10.38" height="19.0" fill="#454547"/>
<rect x="1381.0" y="1412.5" width="4.12" height="26.88" fill="#454547"/>
<rect x="1377.62" y="1439.38" width="24.12" height="14.38" fill="#454547"/>
<rect x="1375.5" y="1453.75" width="27.75" height="4.0" fill="#454547"/>
<rect x="1380.5" y="1457.75" width="18.38" height="5.0" fill="#454547"/>
<rect x="1289.5" y="1565.0" width="13.12" height="110.0" fill="#454547"/>
<rect x="1302.62" y="1563.12" width="5.38" height="108.12" fill="#454547"/>
<rect x="1302.62" y="1573.12" width="10.38" height="19.38" fill="#454547"/>
<rect x="1296.38" y="1660.62" width="6.25" height="21.25" fill="#454547"/>
<rect x="1282.0" y="1675.0" width="20.62" height="6.88" fill="#454547"/>
<rect x="1281.38" y="1681.88" width="11.88" height="3.75" fill="#454547"/>
<rect x="1293.25" y="1671.25" width="19.75" height="19.38" fill="#454547"/>
<rect x="1381.25" y="1387.5" width="3.75" height="51.88" fill="#454547"/>
<rect x="1481.5" y="1387.5" width="8.5" height="51.88" fill="#454547"/>
<rect x="1456.25" y="1447.5" width="25.25" height="6.0" fill="#454547"/>
<rect x="1456.25" y="1453.5" width="20.0" height="4.25" fill="#454547"/>
<rect x="1460.62" y="1457.75" width="15.62" height="4.75" fill="#454547"/>
<rect x="1466.25" y="1462.5" width="10.0" height="6.25" fill="#454547"/>
<rect x="1471.88" y="1468.75" width="4.38" height="26.25" fill="#454547"/>
<rect x="1476.25" y="1453.5" width="5.25" height="50.25" fill="#454547"/>
<rect x="1466.25" y="1494.38" width="10.0" height="19.38" fill="#454547"/>
<rect x="1466.25" y="1503.75" width="19.38" height="10.0" fill="#454547"/>
<rect x="1490.0" y="1490.0" width="10.0" height="13.75" fill="#454547"/>
<rect x="1476.25" y="1498.75" width="25.0" height="9.75" fill="#454547"/>
<rect x="1571.88" y="1498.75" width="28.75" height="6.25" fill="#454547"/>
<rect x="1572.5" y="1505.0" width="27.5" height="3.75" fill="#454547"/>
<rect x="1577.25" y="1508.75" width="17.75" height="4.75" fill="#454547"/>
<rect x="1643.12" y="1498.5" width="49.38" height="6.5" fill="#454547"/>
<rect x="1643.12" y="1505.0" width="23.75" height="3.75" fill="#454547"/>
<rect x="1651.25" y="1508.75" width="15.62" height="4.75" fill="#454547"/>
<rect x="1657.25" y="1513.5" width="9.62" height="5.5" fill="#454547"/>
<rect x="1661.88" y="1519.0" width="5.0" height="69.75" fill="#454547"/>
<rect x="1666.88" y="1505.0" width="12.88" height="88.12" fill="#454547"/>
<rect x="1657.25" y="1560.25" width="4.62" height="18.5" fill="#454547"/>
<rect x="1665.0" y="1380.0" width="14.75" height="110.25" fill="#454547"/>
<rect x="1579.38" y="1380.0" width="3.75" height="110.25" fill="#454547"/>
<rect x="1724.38" y="1497.5" width="11.25" height="7.5" fill="#454547"/>
<rect x="1679.75" y="1565.0" width="12.75" height="3.75" fill="#454547"/>
<rect x="1719.38" y="1565.0" width="32.75" height="3.75" fill="#454547"/>
<rect x="1745.0" y="1518.75" width="3.75" height="48.75" fill="#454547"/>
<rect x="1735.62" y="1515.0" width="16.5" height="3.75" fill="#454547"/>
<rect x="1860.0" y="1511.12" width="125.62" height="7.88" fill="#454547"/>
<rect x="1985.62" y="1409.25" width="5.62" height="30.0" fill="#454547"/>
<rect x="1991.25" y="1409.25" width="4.75" height="33.12" fill="#454547"/>
<rect x="1991.25" y="1417.38" width="9.75" height="18.12" fill="#454547"/>
<rect x="1940.0" y="1431.75" width="45.62" height="5.62" fill="#454547"/>
<rect x="1860.0" y="1423.0" width="80.0" height="3.75" fill="#454547"/>
<rect x="1940.0" y="1499.25" width="13.75" height="11.88" fill="#454547"/>
<rect x="1953.75" y="1505.25" width="31.88" height="5.88" fill="#454547"/>
<rect x="1985.62" y="1483.0" width="5.62" height="35.0" fill="#454547"/>
<rect x="1991.25" y="1481.12" width="4.75" height="24.38" fill="#454547"/>
<rect x="1996.0" y="1490.25" width="5.0" height="15.25" fill="#454547"/>
<rect x="2001.0" y="1496.12" width="5.5" height="9.38" fill="#454547"/>
<rect x="2006.5" y="1501.12" width="10.38" height="4.38" fill="#454547"/>
<rect x="1985.62" y="1505.5" width="30.0" height="13.5" fill="#454547"/>
<rect x="2071.25" y="1496.12" width="18.75" height="18.75" fill="#454547"/>
<rect x="2060.62" y="1501.12" width="10.62" height="4.38" fill="#454547"/>
<rect x="2060.62" y="1505.5" width="19.38" height="6.25" fill="#454547"/>
<rect x="2075.0" y="1511.75" width="5.62" height="15.0" fill="#454547"/>
<rect x="2080.62" y="1514.88" width="5.38" height="5.0" fill="#454547"/>
<rect x="1860.0" y="1519.0" width="115.0" height="5.25" fill="#454547"/>
<rect x="1970.0" y="1519.0" width="5.0" height="37.12" fill="#454547"/>
<rect x="1727.5" y="1500.0" width="8.12" height="18.75" fill="#454547"/>
<rect x="1727.5" y="1515.0" width="71.25" height="3.75" fill="#454547"/>
<rect x="1837.5" y="1518.75" width="4.75" height="116.25" fill="#454547"/>
<rect x="1745.0" y="1518.75" width="3.75" height="49.38" fill="#454547"/>
<rect x="1718.75" y="1565.0" width="48.12" height="3.5" fill="#454547"/>
<rect x="1819.38" y="1565.0" width="18.12" height="3.5" fill="#454547"/>
<rect x="1680.0" y="1565.0" width="12.5" height="3.5" fill="#454547"/>
<rect x="1837.5" y="1630.0" width="29.38" height="5.0" fill="#454547"/>
<rect x="1890.0" y="1630.0" width="32.5" height="5.0" fill="#454547"/>
<rect x="1898.5" y="1525.0" width="4.62" height="80.0" fill="#454547"/>
<rect x="1898.5" y="1558.5" width="21.5" height="46.5" fill="#454547"/>
<rect x="1915.0" y="1558.5" width="7.5" height="50.88" fill="#454547"/>
<rect x="1920.0" y="1581.25" width="23.75" height="4.75" fill="#454547"/>
<rect x="1922.5" y="1631.25" width="21.25" height="3.75" fill="#454547"/>
<rect x="1680.0" y="1676.25" width="8.75" height="5.62" fill="#454547"/>
<rect x="1680.0" y="1681.88" width="7.75" height="4.12" fill="#454547"/>
<rect x="1741.25" y="1676.0" width="26.88" height="5.88" fill="#454547"/>
<rect x="1741.25" y="1681.88" width="26.88" height="3.75" fill="#454547"/>
<rect x="1745.25" y="1685.62" width="18.5" height="5.38" fill="#454547"/>
<rect x="1820.0" y="1675.62" width="31.0" height="6.25" fill="#454547"/>
<rect x="1820.0" y="1681.88" width="25.62" height="4.12" fill="#454547"/>
<rect x="1830.0" y="1686.0" width="15.62" height="4.62" fill="#454547"/>
<rect x="1836.0" y="1690.62" width="9.62" height="5.62" fill="#454547"/>
<rect x="1840.62" y="1696.25" width="5.0" height="5.0" fill="#454547"/>
<rect x="1845.62" y="1681.88" width="5.38" height="19.38" fill="#454547"/>
<rect x="1858.75" y="1667.5" width="2.5" height="3.5" fill="#454547"/>
<rect x="1888.12" y="1667.5" width="64.0" height="3.5" fill="#454547"/>
<rect x="1840.0" y="1630.0" width="25.62" height="5.0" fill="#454547"/>
<rect x="1890.0" y="1630.0" width="25.0" height="5.0" fill="#454547"/>
<rect x="1922.5" y="1631.25" width="20.62" height="3.75" fill="#454547"/>
<rect x="1968.75" y="1631.25" width="98.5" height="3.75" fill="#454547"/>
<rect x="1915.0" y="1580.0" width="7.5" height="29.38" fill="#454547"/>
<rect x="1920.0" y="1581.25" width="23.75" height="4.38" fill="#454547"/>
<rect x="1966.25" y="1581.25" width="8.75" height="4.38" fill="#454547"/>
<rect x="1971.25" y="1585.62" width="3.75" height="13.75" fill="#454547"/>
<rect x="1971.25" y="1635.0" width="4.38" height="3.75" fill="#454547"/>
<rect x="1971.25" y="1665.0" width="4.38" height="92.25" fill="#454547"/>
<rect x="1888.75" y="1667.5" width="83.75" height="3.75" fill="#454547"/>
<rect x="1845.62" y="1748.75" width="5.88" height="21.88" fill="#454547"/>
<rect x="1845.62" y="1765.0" width="21.25" height="5.62" fill="#454547"/>
<rect x="1840.0" y="1755.0" width="5.62" height="15.62" fill="#454547"/>
<rect x="1840.0" y="1770.62" width="15.0" height="10.0" fill="#454547"/>
<rect x="1855.0" y="1770.62" width="5.0" height="5.0" fill="#454547"/>
<rect x="1948.5" y="1765.0" width="29.0" height="6.25" fill="#454547"/>
<rect x="1949.38" y="1771.25" width="27.5" height="4.38" fill="#454547"/>
<rect x="1954.38" y="1775.62" width="17.5" height="5.0" fill="#454547"/>
<rect x="2074.75" y="1749.75" width="5.88" height="20.88" fill="#454547"/>
<rect x="2057.5" y="1765.0" width="23.12" height="5.62" fill="#454547"/>
<rect x="2066.88" y="1770.62" width="5.0" height="5.0" fill="#454547"/>
<rect x="2080.62" y="1756.88" width="5.0" height="4.38" fill="#454547"/>
<rect x="2071.88" y="1761.25" width="18.75" height="19.38" fill="#454547"/>
<rect x="2074.75" y="1681.25" width="5.88" height="26.25" fill="#454547"/>
<rect x="2080.62" y="1681.25" width="5.38" height="26.88" fill="#454547"/>
<rect x="2080.62" y="1685.62" width="10.0" height="18.12" fill="#454547"/>
<rect x="2067.5" y="1635.0" width="13.12" height="46.25" fill="#454547"/>
<rect x="2074.75" y="1607.5" width="5.88" height="27.5" fill="#454547"/>
<rect x="2080.62" y="1607.5" width="5.38" height="26.88" fill="#454547"/>
<rect x="2080.62" y="1612.25" width="10.0" height="18.38" fill="#454547"/>
<rect x="1657.25" y="1560.25" width="5.0" height="18.5" fill="#454547"/>
<rect x="1662.25" y="1660.0" width="10.0" height="21.25" fill="#454547"/>
<rect x="1666.88" y="1675.0" width="21.25" height="6.25" fill="#454547"/>
<rect x="1657.25" y="1671.25" width="9.62" height="19.38" fill="#454547"/>
<rect x="1666.88" y="1681.25" width="8.75" height="9.38" fill="#454547"/>
<rect x="1675.62" y="1681.25" width="12.5" height="4.38" fill="#454547"/>
<rect x="1680.0" y="1565.25" width="11.88" height="3.75" fill="#454547"/>
</g>
<g id="L-hatch" shape-rendering="auto">
<rect x="1103.12" y="493.75" width="14.38" height="9.0" fill="url(#hatch)"/>
<rect x="1103.12" y="502.75" width="7.5" height="7.88" fill="url(#hatch)"/>
<rect x="1176.5" y="493.75" width="26.25" height="8.75" fill="url(#hatch)"/>
<rect x="1261.25" y="495.0" width="15.62" height="7.75" fill="url(#hatch)"/>
<rect x="1268.12" y="502.75" width="8.75" height="7.88" fill="url(#hatch)"/>
<rect x="1268.12" y="556.25" width="8.75" height="35.62" fill="url(#hatch)"/>
<rect x="1276.88" y="584.38" width="29.38" height="7.5" fill="url(#hatch)"/>
<rect x="1103.12" y="575.0" width="7.5" height="23.12" fill="url(#hatch)"/>
<rect x="1103.12" y="669.38" width="7.5" height="21.88" fill="url(#hatch)"/>
<rect x="1103.12" y="741.25" width="7.5" height="35.0" fill="url(#hatch)"/>
<rect x="1080.0" y="770.0" width="23.12" height="6.25" fill="url(#hatch)"/>
<rect x="1307.5" y="721.25" width="44.62" height="8.12" fill="url(#hatch)"/>
<rect x="1162.5" y="837.5" width="69.38" height="8.12" fill="url(#hatch)"/>
<rect x="1348.88" y="584.38" width="26.88" height="7.5" fill="url(#hatch)"/>
<rect x="1448.88" y="584.38" width="15.0" height="7.5" fill="url(#hatch)"/>
<rect x="1456.38" y="591.88" width="7.5" height="8.12" fill="url(#hatch)"/>
<rect x="1456.38" y="645.62" width="7.5" height="36.25" fill="url(#hatch)"/>
<rect x="1463.88" y="673.75" width="29.12" height="8.12" fill="url(#hatch)"/>
<rect x="1538.88" y="673.75" width="23.75" height="7.75" fill="url(#hatch)"/>
<rect x="1358.0" y="721.25" width="7.75" height="26.25" fill="url(#hatch)"/>
<rect x="1352.0" y="721.25" width="6.0" height="8.12" fill="url(#hatch)"/>
<rect x="1358.0" y="860.5" width="7.75" height="53.75" fill="url(#hatch)"/>
<rect x="1483.25" y="873.62" width="83.75" height="7.88" fill="url(#hatch)"/>
<rect x="1001.25" y="770.0" width="16.25" height="6.88" fill="url(#hatch)"/>
<rect x="1001.25" y="776.88" width="8.5" height="6.62" fill="url(#hatch)"/>
<rect x="1071.5" y="770.0" width="32.25" height="6.88" fill="url(#hatch)"/>
<rect x="1001.25" y="838.75" width="8.5" height="24.38" fill="url(#hatch)"/>
<rect x="1001.25" y="922.5" width="8.5" height="23.75" fill="url(#hatch)"/>
<rect x="1001.25" y="922.5" width="8.5" height="23.12" fill="url(#hatch)"/>
<rect x="1001.25" y="997.5" width="8.5" height="28.12" fill="url(#hatch)"/>
<rect x="973.5" y="1025.62" width="36.25" height="7.88" fill="url(#hatch)"/>
<rect x="1101.25" y="1025.62" width="54.38" height="7.88" fill="url(#hatch)"/>
<rect x="1729.5" y="1005.62" width="14.62" height="7.5" fill="url(#hatch)"/>
<rect x="1644.0" y="733.12" width="7.5" height="37.5" fill="url(#hatch)"/>
<rect x="1651.5" y="762.75" width="30.25" height="7.88" fill="url(#hatch)"/>
<rect x="1644.0" y="818.75" width="7.5" height="23.75" fill="url(#hatch)"/>
<rect x="1725.25" y="763.12" width="27.5" height="7.5" fill="url(#hatch)"/>
<rect x="1825.5" y="763.75" width="14.12" height="6.88" fill="url(#hatch)"/>
<rect x="1831.5" y="770.62" width="8.12" height="7.88" fill="url(#hatch)"/>
<rect x="1831.5" y="811.25" width="8.12" height="25.62" fill="url(#hatch)"/>
<rect x="1831.5" y="878.12" width="8.12" height="36.88" fill="url(#hatch)"/>
<rect x="1882.5" y="907.25" width="13.12" height="7.5" fill="url(#hatch)"/>
<rect x="1888.5" y="914.75" width="7.12" height="8.38" fill="url(#hatch)"/>
<rect x="1888.5" y="996.88" width="7.12" height="26.25" fill="url(#hatch)"/>
<rect x="1888.75" y="996.5" width="7.25" height="26.62" fill="url(#hatch)"/>
<rect x="1888.75" y="1116.25" width="7.25" height="36.88" fill="url(#hatch)"/>
<rect x="1729.38" y="1005.62" width="54.12" height="7.88" fill="url(#hatch)"/>
<rect x="1888.12" y="1187.5" width="7.5" height="28.12" fill="url(#hatch)"/>
<rect x="1895.62" y="1209.38" width="16.5" height="6.25" fill="url(#hatch)"/>
<rect x="1888.12" y="1130.0" width="7.5" height="24.38" fill="url(#hatch)"/>
<rect x="1783.12" y="1313.75" width="53.12" height="6.88" fill="url(#hatch)"/>
<rect x="1896.0" y="1208.75" width="30.25" height="6.88" fill="url(#hatch)"/>
<rect x="1971.88" y="1208.5" width="13.75" height="7.12" fill="url(#hatch)"/>
<rect x="1977.5" y="1215.62" width="8.12" height="7.5" fill="url(#hatch)"/>
<rect x="1977.5" y="1301.88" width="8.12" height="23.75" fill="url(#hatch)"/>
<rect x="1940.0" y="1423.12" width="32.12" height="8.75" fill="url(#hatch)"/>
<rect x="1798.75" y="1511.88" width="36.25" height="6.88" fill="url(#hatch)"/>
<rect x="1914.38" y="1511.88" width="57.75" height="6.88" fill="url(#hatch)"/>
<rect x="1636.88" y="673.12" width="15.0" height="8.12" fill="url(#hatch)"/>
<rect x="1644.38" y="681.25" width="7.5" height="8.12" fill="url(#hatch)"/>
<rect x="903.12" y="1025.62" width="15.62" height="7.88" fill="url(#hatch)"/>
<rect x="903.12" y="1033.5" width="8.75" height="7.12" fill="url(#hatch)"/>
<rect x="973.12" y="1025.62" width="36.62" height="7.88" fill="url(#hatch)"/>
<rect x="903.12" y="1103.75" width="8.75" height="31.25" fill="url(#hatch)"/>
<rect x="1148.12" y="1123.12" width="8.12" height="26.88" fill="url(#hatch)"/>
<rect x="1101.25" y="1214.38" width="55.0" height="8.12" fill="url(#hatch)"/>
<rect x="1148.12" y="1284.38" width="8.12" height="8.75" fill="url(#hatch)"/>
<rect x="903.75" y="1214.38" width="42.5" height="8.38" fill="url(#hatch)"/>
<rect x="1101.25" y="1214.38" width="30.88" height="8.38" fill="url(#hatch)"/>
<rect x="874.75" y="1305.62" width="37.12" height="8.12" fill="url(#hatch)"/>
<rect x="1148.75" y="1283.75" width="6.25" height="24.38" fill="url(#hatch)"/>
<rect x="805.0" y="1305.62" width="15.62" height="7.88" fill="url(#hatch)"/>
<rect x="805.0" y="1313.5" width="7.75" height="4.62" fill="url(#hatch)"/>
<rect x="875.0" y="1305.62" width="36.88" height="7.88" fill="url(#hatch)"/>
<rect x="805.0" y="1401.25" width="7.75" height="25.0" fill="url(#hatch)"/>
<rect x="984.38" y="1404.38" width="53.12" height="7.88" fill="url(#hatch)"/>
<rect x="1000.0" y="1404.38" width="37.5" height="7.5" fill="url(#hatch)"/>
<rect x="1115.0" y="1404.38" width="41.25" height="7.5" fill="url(#hatch)"/>
<rect x="1115.0" y="1511.25" width="41.25" height="7.5" fill="url(#hatch)"/>
<rect x="1001.25" y="1511.88" width="8.12" height="41.88" fill="url(#hatch)"/>
<rect x="1453.12" y="1204.38" width="36.25" height="7.5" fill="url(#hatch)"/>
<rect x="1481.25" y="1264.38" width="8.5" height="53.12" fill="url(#hatch)"/>
<rect x="1648.5" y="1264.38" width="8.38" height="53.12" fill="url(#hatch)"/>
<rect x="805.0" y="1510.0" width="7.75" height="25.0" fill="url(#hatch)"/>
<rect x="805.62" y="1618.12" width="7.12" height="15.62" fill="url(#hatch)"/>
<rect x="812.75" y="1625.62" width="9.12" height="8.12" fill="url(#hatch)"/>
<rect x="884.38" y="1625.62" width="43.38" height="8.38" fill="url(#hatch)"/>
<rect x="973.5" y="1625.62" width="36.25" height="8.38" fill="url(#hatch)"/>
<rect x="1001.25" y="1634.0" width="8.5" height="29.75" fill="url(#hatch)"/>
<rect x="1001.25" y="1511.88" width="8.5" height="41.88" fill="url(#hatch)"/>
<rect x="1001.25" y="1698.5" width="8.5" height="24.0" fill="url(#hatch)"/>
<rect x="1001.25" y="1751.25" width="8.75" height="13.75" fill="url(#hatch)"/>
<rect x="1010.0" y="1757.5" width="4.75" height="7.5" fill="url(#hatch)"/>
<rect x="1086.88" y="1757.5" width="23.75" height="7.75" fill="url(#hatch)"/>
<rect x="1183.75" y="1757.5" width="15.0" height="7.5" fill="url(#hatch)"/>
<rect x="1191.25" y="1750.0" width="7.5" height="7.5" fill="url(#hatch)"/>
<rect x="1191.25" y="1667.5" width="36.25" height="7.5" fill="url(#hatch)"/>
<rect x="1191.25" y="1675.0" width="7.75" height="28.75" fill="url(#hatch)"/>
<rect x="1298.25" y="1439.38" width="24.38" height="8.38" fill="url(#hatch)"/>
<rect x="1289.5" y="1501.25" width="6.88" height="35.62" fill="url(#hatch)"/>
<rect x="1282.0" y="1667.5" width="14.38" height="7.5" fill="url(#hatch)"/>
<rect x="1289.5" y="1660.62" width="6.88" height="6.88" fill="url(#hatch)"/>
<rect x="1456.25" y="1439.38" width="33.75" height="8.12" fill="url(#hatch)"/>
<rect x="1481.5" y="1447.5" width="8.5" height="51.25" fill="url(#hatch)"/>
<rect x="1572.75" y="1490.25" width="27.0" height="8.5" fill="url(#hatch)"/>
<rect x="1645.62" y="1490.25" width="34.12" height="8.25" fill="url(#hatch)"/>
<rect x="1672.25" y="1568.12" width="7.5" height="20.62" fill="url(#hatch)"/>
<rect x="1913.75" y="1511.5" width="71.25" height="7.5" fill="url(#hatch)"/>
<rect x="1977.5" y="1411.5" width="8.12" height="20.25" fill="url(#hatch)"/>
<rect x="1940.0" y="1423.62" width="45.62" height="8.12" fill="url(#hatch)"/>
<rect x="2061.5" y="1511.75" width="13.5" height="7.25" fill="url(#hatch)"/>
<rect x="2067.5" y="1519.0" width="7.5" height="7.5" fill="url(#hatch)"/>
<rect x="1914.38" y="1609.38" width="8.12" height="25.62" fill="url(#hatch)"/>
<rect x="1680.0" y="1667.5" width="7.75" height="8.75" fill="url(#hatch)"/>
<rect x="1742.5" y="1667.5" width="24.0" height="8.5" fill="url(#hatch)"/>
<rect x="1821.25" y="1667.5" width="37.5" height="8.12" fill="url(#hatch)"/>
<rect x="1851.0" y="1675.62" width="7.75" height="25.0" fill="url(#hatch)"/>
<rect x="1914.38" y="1609.38" width="8.12" height="25.62" fill="url(#hatch)"/>
<rect x="1840.0" y="1667.5" width="18.75" height="8.12" fill="url(#hatch)"/>
<rect x="1851.5" y="1675.62" width="7.25" height="25.0" fill="url(#hatch)"/>
<rect x="1851.5" y="1749.38" width="7.25" height="15.62" fill="url(#hatch)"/>
<rect x="1858.75" y="1757.5" width="8.12" height="7.5" fill="url(#hatch)"/>
<rect x="1949.75" y="1757.5" width="25.88" height="7.5" fill="url(#hatch)"/>
<rect x="2060.0" y="1757.5" width="14.75" height="7.5" fill="url(#hatch)"/>
<rect x="2067.25" y="1750.62" width="7.5" height="6.88" fill="url(#hatch)"/>
<rect x="2067.5" y="1681.25" width="7.25" height="25.0" fill="url(#hatch)"/>
<rect x="2067.5" y="1609.38" width="7.25" height="25.62" fill="url(#hatch)"/>
<rect x="1672.25" y="1660.62" width="7.5" height="14.38" fill="url(#hatch)"/>
<rect x="1679.75" y="1667.5" width="8.0" height="7.5" fill="url(#hatch)"/>
</g>
<g id="L-top" shape-rendering="crispEdges">
<rect x="1218.75" y="654.25" width="7.75" height="19.5" fill="#fff"/>
<rect x="1219.0" y="679.75" width="9.12" height="7.12" fill="#fff"/>
<rect x="1108.12" y="832.25" width="41.88" height="7.75" fill="#c5e1a5"/>
<rect x="1156.25" y="832.25" width="6.0" height="10.25" fill="#c5e1a5"/>
<rect x="1171.25" y="830.0" width="43.75" height="6.88" fill="#e3e4e6"/>
<rect x="1220.0" y="830.0" width="6.25" height="6.88" fill="#e3e4e6"/>
<rect x="1210.0" y="846.25" width="13.12" height="4.38" fill="#c5e1a5"/>
<rect x="1365.75" y="907.38" width="9.38" height="3.75" fill="#fff"/>
<rect x="1380.75" y="907.38" width="5.62" height="3.75" fill="#fff"/>
<rect x="1391.75" y="907.38" width="11.5" height="3.75" fill="#fff"/>
<rect x="1408.88" y="907.38" width="11.62" height="3.75" fill="#fff"/>
<rect x="1379.25" y="788.25" width="20.0" height="20.75" fill="#e3e4e6"/>
<rect x="1491.0" y="881.75" width="24.12" height="27.5" fill="#fff"/>
<rect x="1520.12" y="881.75" width="38.75" height="27.5" fill="#fff"/>
<rect x="1567.25" y="849.0" width="9.12" height="44.0" fill="#e3e4e6"/>
<rect x="1567.25" y="898.0" width="11.0" height="8.12" fill="#e3e4e6"/>
<rect x="1407.0" y="966.75" width="11.25" height="8.12" fill="#fff"/>
<rect x="1423.25" y="966.75" width="15.0" height="8.12" fill="#fff"/>
<rect x="1443.0" y="966.75" width="10.25" height="8.12" fill="#fff"/>
<rect x="1458.0" y="966.75" width="10.5" height="8.12" fill="#fff"/>
<rect x="1473.88" y="966.75" width="10.38" height="8.12" fill="#fff"/>
<rect x="1489.25" y="966.75" width="15.5" height="8.12" fill="#fff"/>
<rect x="1509.75" y="966.75" width="12.25" height="8.12" fill="#fff"/>
<rect x="1112.25" y="993.12" width="7.12" height="20.0" fill="#c5e1a5"/>
<rect x="1112.25" y="1018.12" width="8.38" height="6.88" fill="#c5e1a5"/>
<rect x="1231.88" y="966.88" width="121.62" height="8.12" fill="#fff"/>
<rect x="1406.88" y="966.88" width="11.62" height="7.88" fill="#fff"/>
<rect x="1423.12" y="966.88" width="15.0" height="7.88" fill="#fff"/>
<rect x="1442.75" y="966.88" width="10.75" height="7.88" fill="#fff"/>
<rect x="1458.12" y="966.88" width="10.62" height="7.88" fill="#fff"/>
<rect x="1473.88" y="1148.12" width="5.62" height="5.0" fill="#fff"/>
<rect x="1482.0" y="1148.12" width="12.5" height="5.0" fill="#fff"/>
<rect x="1497.62" y="1148.12" width="13.12" height="5.0" fill="#fff"/>
<rect x="1514.5" y="1148.12" width="5.62" height="5.0" fill="#fff"/>
<rect x="1823.75" y="1281.88" width="8.75" height="18.12" fill="#e3e4e6"/>
<rect x="1821.88" y="1305.0" width="10.62" height="7.75" fill="#e3e4e6"/>
<rect x="1823.75" y="1335.0" width="8.5" height="18.12" fill="#e3e4e6"/>
<rect x="1736.0" y="1504.38" width="47.12" height="10.62" fill="#fff"/>
<rect x="1293.75" y="890.62" width="64.38" height="18.75" fill="#fff"/>
<rect x="1208.75" y="1206.88" width="10.62" height="4.38" fill="#fff"/>
<rect x="1224.0" y="1206.88" width="11.0" height="4.38" fill="#fff"/>
<rect x="1240.0" y="1206.88" width="10.25" height="4.38" fill="#fff"/>
<rect x="1255.0" y="1206.88" width="16.0" height="4.38" fill="#fff"/>
<rect x="1276.0" y="1206.88" width="15.0" height="4.38" fill="#fff"/>
<rect x="1296.0" y="1208.75" width="32.75" height="23.12" fill="#fff"/>
<rect x="1018.75" y="1371.25" width="21.88" height="20.0" fill="#e3e4e6"/>
<rect x="1018.75" y="1395.62" width="25.0" height="7.5" fill="#e3e4e6"/>
<rect x="1135.5" y="1349.5" width="16.5" height="11.75" fill="#fff"/>
<rect x="1135.5" y="1366.25" width="16.5" height="16.75" fill="#fff"/>
<rect x="1135.5" y="1388.0" width="16.5" height="14.5" fill="#fff"/>
<rect x="1006.88" y="1478.12" width="20.38" height="11.62" fill="#e3e4e6"/>
<rect x="1006.88" y="1493.12" width="20.38" height="5.0" fill="#e3e4e6"/>
<rect x="1006.88" y="1503.12" width="22.5" height="7.5" fill="#e3e4e6"/>
<rect x="1194.0" y="1520.0" width="11.25" height="7.75" fill="#e3e4e6"/>
<rect x="1195.0" y="1533.5" width="10.25" height="19.25" fill="#e3e4e6"/>
<rect x="1296.0" y="1209.0" width="33.38" height="22.88" fill="#fff"/>
<rect x="1334.0" y="1209.0" width="42.25" height="22.88" fill="#fff"/>
<rect x="1448.5" y="1266.88" width="13.62" height="10.62" fill="#e3e4e6"/>
<rect x="1490.0" y="1206.88" width="68.12" height="9.38" fill="#fff"/>
<rect x="1638.75" y="1209.0" width="15.62" height="27.88" fill="#fff"/>
<rect x="1659.75" y="1209.0" width="15.88" height="27.88" fill="#fff"/>
<rect x="1638.75" y="1242.25" width="36.88" height="21.5" fill="#fff"/>
<rect x="1657.25" y="1269.0" width="18.38" height="41.0" fill="#fff"/>
<rect x="1673.5" y="1364.38" width="4.0" height="38.75" fill="#fff"/>
<rect x="1490.0" y="1281.88" width="7.25" height="23.12" fill="#e3e4e6"/>
<rect x="1502.75" y="1285.0" width="19.5" height="20.0" fill="#e3e4e6"/>
<rect x="1448.75" y="1266.88" width="19.38" height="11.25" fill="#e3e4e6"/>
<rect x="1474.0" y="1265.0" width="7.0" height="11.25" fill="#e3e4e6"/>
<rect x="1673.12" y="1380.0" width="4.62" height="43.75" fill="#fff"/>
<rect x="1673.12" y="1428.75" width="4.62" height="11.25" fill="#fff"/>
<rect x="1673.12" y="1444.75" width="4.62" height="15.25" fill="#fff"/>
<rect x="1673.12" y="1465.0" width="4.62" height="11.25" fill="#fff"/>
<rect x="1673.12" y="1480.62" width="4.62" height="9.38" fill="#fff"/>
<rect x="1901.25" y="1564.38" width="13.12" height="7.12" fill="#e3e4e6"/>
<rect x="1903.12" y="1577.25" width="11.25" height="22.75" fill="#e3e4e6"/>
</g>
<g id="L-door" shape-rendering="auto">
<path d="M1264.75,589.0 L1247.43,571.68 A24.5,24.5 0 0 0 1240.25,589.0 Z" fill="#e3e4e6" stroke="none"/>
<path d="M1264.75,589.0 L1247.43,571.68 A24.5,24.5 0 0 0 1240.25,589.0" fill="none" stroke="#3b3b3b" stroke-width="1.3"/>
<path d="M1230.0,741.88 L1212.76,759.11 A24.38,24.38 0 0 0 1230.0,766.25 Z" fill="#e3e4e6" stroke="none"/>
<path d="M1230.0,741.88 L1212.76,759.11 A24.38,24.38 0 0 0 1230.0,766.25" fill="none" stroke="#3b3b3b" stroke-width="1.3"/>
<path d="M1270.0,716.25 L1287.68,698.57 A25.0,25.0 0 0 0 1270.0,691.25 Z" fill="#e3e4e6" stroke="none"/>
<path d="M1270.0,716.25 L1287.68,698.57 A25.0,25.0 0 0 0 1270.0,691.25" fill="none" stroke="#3b3b3b" stroke-width="1.3"/>
<path d="M1270.0,766.25 L1254.09,750.34 A22.5,22.5 0 0 1 1270.0,743.75 Z" fill="#e3e4e6" stroke="none"/>
<path d="M1270.0,766.25 L1254.09,750.34 A22.5,22.5 0 0 1 1270.0,743.75" fill="none" stroke="#3b3b3b" stroke-width="1.3"/>
<path d="M1270.0,820.0 L1253.65,803.65 A23.12,23.12 0 0 1 1270.0,796.88 Z" fill="#e3e4e6" stroke="none"/>
<path d="M1270.0,820.0 L1253.65,803.65 A23.12,23.12 0 0 1 1270.0,796.88" fill="none" stroke="#3b3b3b" stroke-width="1.3"/>
<path d="M1312.5,789.0 L1328.41,773.09 A22.5,22.5 0 0 1 1335.0,789.0 Z" fill="#e3e4e6" stroke="none"/>
<path d="M1312.5,789.0 L1328.41,773.09 A22.5,22.5 0 0 1 1335.0,789.0" fill="none" stroke="#3b3b3b" stroke-width="1.3"/>
<path d="M1120.62,774.75 L1136.09,759.28 A21.88,21.88 0 0 1 1142.5,774.75 Z" fill="#e3e4e6" stroke="none"/>
<path d="M1120.62,774.75 L1136.09,759.28 A21.88,21.88 0 0 1 1142.5,774.75" fill="none" stroke="#3b3b3b" stroke-width="1.3"/>
<path d="M1222.5,776.5 L1205.71,793.29 A23.75,23.75 0 0 1 1198.75,776.5 Z" fill="#e3e4e6" stroke="none"/>
<path d="M1222.5,776.5 L1205.71,793.29 A23.75,23.75 0 0 1 1198.75,776.5" fill="none" stroke="#3b3b3b" stroke-width="1.3"/>
<path d="M1426.0,859.25 L1442.79,842.46 A23.75,23.75 0 0 0 1426.0,835.5 Z" fill="#e3e4e6" stroke="none"/>
<path d="M1426.0,859.25 L1442.79,842.46 A23.75,23.75 0 0 0 1426.0,835.5" fill="none" stroke="#3b3b3b" stroke-width="1.3"/>
<path d="M1463.88,913.62 L1441.34,936.16 A31.88,31.88 0 0 1 1432.0,913.62 Z" fill="#fff" stroke="none"/>
<path d="M1463.88,913.62 L1441.34,936.16 A31.88,31.88 0 0 1 1432.0,913.62" fill="none" stroke="#3b3b3b" stroke-width="1.3"/>
<path d="M1513.25,818.0 L1529.6,801.65 A23.12,23.12 0 0 1 1536.38,818.0 Z" fill="#e3e4e6" stroke="none"/>
<path d="M1513.25,818.0 L1529.6,801.65 A23.12,23.12 0 0 1 1536.38,818.0" fill="none" stroke="#3b3b3b" stroke-width="1.3"/>
<path d="M1460.75,784.25 L1480.64,764.36 A28.12,28.12 0 0 1 1488.88,784.25 Z" fill="#e3e4e6" stroke="none"/>
<path d="M1460.75,784.25 L1480.64,764.36 A28.12,28.12 0 0 1 1488.88,784.25" fill="none" stroke="#3b3b3b" stroke-width="1.3"/>
<path d="M1493.25,813.62 L1474.25,794.62 A26.88,26.88 0 0 1 1493.25,786.75 Z" fill="#e3e4e6" stroke="none"/>
<path d="M1493.25,813.62 L1474.25,794.62 A26.88,26.88 0 0 1 1493.25,786.75" fill="none" stroke="#3b3b3b" stroke-width="1.3"/>
<path d="M1603.25,912.0 L1620.49,929.24 A24.38,24.38 0 0 0 1627.62,912.0 Z" fill="#e3e4e6" stroke="none"/>
<path d="M1603.25,912.0 L1620.49,929.24 A24.38,24.38 0 0 0 1627.62,912.0" fill="none" stroke="#3b3b3b" stroke-width="1.3"/>
<path d="M1576.38,919.88 L1554.01,942.24 A31.62,31.62 0 0 0 1576.38,951.5 Z" fill="#fff" stroke="none"/>
<path d="M1576.38,919.88 L1554.01,942.24 A31.62,31.62 0 0 0 1576.38,951.5" fill="none" stroke="#3b3b3b" stroke-width="1.3"/>
<path d="M1566.38,966.75 L1543.13,990.0 A32.88,32.88 0 0 1 1533.5,966.75 Z" fill="#fff" stroke="none"/>
<path d="M1566.38,966.75 L1543.13,990.0 A32.88,32.88 0 0 1 1533.5,966.75" fill="none" stroke="#3b3b3b" stroke-width="1.3"/>
<path d="M1186.25,924.25 L1202.16,908.34 A22.5,22.5 0 0 1 1208.75,924.25 Z" fill="#c5e1a5" stroke="none"/>
<path d="M1186.25,924.25 L1202.16,908.34 A22.5,22.5 0 0 1 1208.75,924.25" fill="none" stroke="#3b3b3b" stroke-width="1.3"/>
<path d="M1108.38,931.25 L1089.64,949.99 A26.5,26.5 0 0 0 1108.38,957.75 Z" fill="#c5e1a5" stroke="none"/>
<path d="M1108.38,931.25 L1089.64,949.99 A26.5,26.5 0 0 0 1108.38,957.75" fill="none" stroke="#3b3b3b" stroke-width="1.3"/>
<path d="M1167.5,966.5 L1151.59,950.59 A22.5,22.5 0 0 0 1145.0,966.5 Z" fill="#c5e1a5" stroke="none"/>
<path d="M1167.5,966.5 L1151.59,950.59 A22.5,22.5 0 0 0 1145.0,966.5" fill="none" stroke="#3b3b3b" stroke-width="1.3"/>
<path d="M1231.88,931.5 L1253.09,952.71 A30.0,30.0 0 0 1 1231.88,961.5 Z" fill="#fff" stroke="none"/>
<path d="M1231.88,931.5 L1253.09,952.71 A30.0,30.0 0 0 1 1231.88,961.5" fill="none" stroke="#3b3b3b" stroke-width="1.3"/>
<path d="M1358.75,980.62 L1378.64,1000.51 A28.12,28.12 0 0 0 1386.88,980.62 Z" fill="#fff" stroke="none"/>
<path d="M1358.75,980.62 L1378.64,1000.51 A28.12,28.12 0 0 0 1386.88,980.62" fill="none" stroke="#3b3b3b" stroke-width="1.3"/>
<path d="M1401.88,980.62 L1391.27,991.23 A15.0,15.0 0 0 1 1386.88,980.62 Z" fill="#fff" stroke="none"/>
<path d="M1401.88,980.62 L1391.27,991.23 A15.0,15.0 0 0 1 1386.88,980.62" fill="none" stroke="#3b3b3b" stroke-width="1.3"/>
<path d="M1351.25,1151.25 L1361.86,1140.64 A15.0,15.0 0 0 1 1366.25,1151.25 Z" fill="#fff" stroke="none"/>
<path d="M1351.25,1151.25 L1361.86,1140.64 A15.0,15.0 0 0 1 1366.25,1151.25" fill="none" stroke="#3b3b3b" stroke-width="1.3"/>
<path d="M1395.0,1151.25 L1374.67,1130.92 A28.75,28.75 0 0 0 1366.25,1151.25 Z" fill="#fff" stroke="none"/>
<path d="M1395.0,1151.25 L1374.67,1130.92 A28.75,28.75 0 0 0 1366.25,1151.25" fill="none" stroke="#3b3b3b" stroke-width="1.3"/>
<path d="M1578.25,1141.25 L1600.17,1119.33 A31.0,31.0 0 0 0 1578.25,1110.25 Z" fill="#fff" stroke="none"/>
<path d="M1578.25,1141.25 L1600.17,1119.33 A31.0,31.0 0 0 0 1578.25,1110.25" fill="none" stroke="#3b3b3b" stroke-width="1.3"/>
<path d="M1533.88,1152.5 L1556.86,1129.52 A32.5,32.5 0 0 1 1566.38,1152.5 Z" fill="#fff" stroke="none"/>
<path d="M1533.88,1152.5 L1556.86,1129.52 A32.5,32.5 0 0 1 1566.38,1152.5" fill="none" stroke="#3b3b3b" stroke-width="1.3"/>
<path d="M1688.25,1089.38 L1704.6,1105.73 A23.12,23.12 0 0 0 1711.38,1089.38 Z" fill="#e3e4e6" stroke="none"/>
<path d="M1688.25,1089.38 L1704.6,1105.73 A23.12,23.12 0 0 0 1711.38,1089.38" fill="none" stroke="#3b3b3b" stroke-width="1.3"/>
<path d="M1656.75,912.75 L1674.43,895.07 A25.0,25.0 0 0 1 1681.75,912.75 Z" fill="#e3e4e6" stroke="none"/>
<path d="M1656.75,912.75 L1674.43,895.07 A25.0,25.0 0 0 1 1681.75,912.75" fill="none" stroke="#3b3b3b" stroke-width="1.3"/>
<path d="M1745.25,912.75 L1763.37,894.63 A25.62,25.62 0 0 1 1770.88,912.75 Z" fill="#e3e4e6" stroke="none"/>
<path d="M1745.25,912.75 L1763.37,894.63 A25.62,25.62 0 0 1 1770.88,912.75" fill="none" stroke="#3b3b3b" stroke-width="1.3"/>
<path d="M1716.25,1154.38 L1694.15,1176.47 A31.25,31.25 0 0 1 1685.0,1154.38 Z" fill="#fff" stroke="none"/>
<path d="M1716.25,1154.38 L1694.15,1176.47 A31.25,31.25 0 0 1 1685.0,1154.38" fill="none" stroke="#3b3b3b" stroke-width="1.3"/>
<path d="M1737.5,1155.62 L1755.8,1173.92 A25.88,25.88 0 0 1 1737.5,1181.5 Z" fill="#fff" stroke="none"/>
<path d="M1737.5,1155.62 L1755.8,1173.92 A25.88,25.88 0 0 1 1737.5,1181.5" fill="none" stroke="#3b3b3b" stroke-width="1.3"/>
<path d="M1729.0,1248.75 L1706.73,1226.48 A31.5,31.5 0 0 1 1729.0,1217.25 Z" fill="#fff" stroke="none"/>
<path d="M1729.0,1248.75 L1706.73,1226.48 A31.5,31.5 0 0 1 1729.0,1217.25" fill="none" stroke="#3b3b3b" stroke-width="1.3"/>
<rect x="1729.0" y="1217.5" width="7.25" height="31.0" fill="#e3e4e6"/>
<path d="M1773.75,1251.88 L1789.66,1235.97 A22.5,22.5 0 0 1 1796.25,1251.88 Z" fill="#e3e4e6" stroke="none"/>
<path d="M1773.75,1251.88 L1789.66,1235.97 A22.5,22.5 0 0 1 1796.25,1251.88" fill="none" stroke="#3b3b3b" stroke-width="1.3"/>
<path d="M1775.62,1389.38 L1792.42,1406.17 A23.75,23.75 0 0 0 1799.38,1389.38 Z" fill="#e3e4e6" stroke="none"/>
<path d="M1775.62,1389.38 L1792.42,1406.17 A23.75,23.75 0 0 0 1799.38,1389.38" fill="none" stroke="#3b3b3b" stroke-width="1.3"/>
<path d="M1732.25,1425.0 L1709.71,1402.46 A31.88,31.88 0 0 1 1732.25,1393.12 Z" fill="#fff" stroke="none"/>
<path d="M1732.25,1425.0 L1709.71,1402.46 A31.88,31.88 0 0 1 1732.25,1393.12" fill="none" stroke="#3b3b3b" stroke-width="1.3"/>
<rect x="1732.25" y="1393.12" width="4.0" height="31.88" fill="#e3e4e6"/>
<path d="M1835.0,1420.0 L1853.56,1401.44 A26.25,26.25 0 0 0 1835.0,1393.75 Z" fill="#e3e4e6" stroke="none"/>
<path d="M1835.0,1420.0 L1853.56,1401.44 A26.25,26.25 0 0 0 1835.0,1393.75" fill="none" stroke="#3b3b3b" stroke-width="1.3"/>
<path d="M1797.5,1425.62 L1814.74,1442.86 A24.38,24.38 0 0 0 1821.88,1425.62 Z" fill="#e3e4e6" stroke="none"/>
<path d="M1797.5,1425.62 L1814.74,1442.86 A24.38,24.38 0 0 0 1821.88,1425.62" fill="none" stroke="#3b3b3b" stroke-width="1.3"/>
<path d="M1790.0,1492.5 L1806.35,1476.15 A23.12,23.12 0 0 0 1790.0,1469.38 Z" fill="#e3e4e6" stroke="none"/>
<path d="M1790.0,1492.5 L1806.35,1476.15 A23.12,23.12 0 0 0 1790.0,1469.38" fill="none" stroke="#3b3b3b" stroke-width="1.3"/>
<path d="M1950.62,1499.38 L1935.16,1483.91 A21.88,21.88 0 0 1 1950.62,1477.5 Z" fill="#e3e4e6" stroke="none"/>
<path d="M1950.62,1499.38 L1935.16,1483.91 A21.88,21.88 0 0 1 1950.62,1477.5" fill="none" stroke="#3b3b3b" stroke-width="1.3"/>
<path d="M1725.0,1498.0 L1702.02,1475.02 A32.5,32.5 0 0 0 1692.5,1498.0 Z" fill="#fff" stroke="none"/>
<path d="M1725.0,1498.0 L1702.02,1475.02 A32.5,32.5 0 0 0 1692.5,1498.0" fill="none" stroke="#3b3b3b" stroke-width="1.3"/>
<path d="M1251.88,913.12 L1274.41,935.66 A31.88,31.88 0 0 0 1283.75,913.12 Z" fill="#fff" stroke="none"/>
<path d="M1251.88,913.12 L1274.41,935.66 A31.88,31.88 0 0 0 1283.75,913.12" fill="none" stroke="#3b3b3b" stroke-width="1.3"/>
<path d="M911.88,1134.38 L929.55,1116.7 A25.0,25.0 0 0 1 936.88,1134.38 Z" fill="#e3e4e6" stroke="none"/>
<path d="M911.88,1134.38 L929.55,1116.7 A25.0,25.0 0 0 1 936.88,1134.38" fill="none" stroke="#3b3b3b" stroke-width="1.3"/>
<path d="M945.62,1143.12 L960.92,1158.42 A21.62,21.62 0 0 1 945.62,1164.75 Z" fill="#e3e4e6" stroke="none"/>
<path d="M945.62,1143.12 L960.92,1158.42 A21.62,21.62 0 0 1 945.62,1164.75" fill="none" stroke="#3b3b3b" stroke-width="1.3"/>
<path d="M1090.0,1142.5 L1072.76,1159.74 A24.38,24.38 0 0 0 1090.0,1166.88 Z" fill="#e3e4e6" stroke="none"/>
<path d="M1090.0,1142.5 L1072.76,1159.74 A24.38,24.38 0 0 0 1090.0,1166.88" fill="none" stroke="#3b3b3b" stroke-width="1.3"/>
<path d="M1090.0,1123.12 L1071.88,1105.01 A25.62,25.62 0 0 1 1090.0,1097.5 Z" fill="#e3e4e6" stroke="none"/>
<path d="M1090.0,1123.12 L1071.88,1105.01 A25.62,25.62 0 0 1 1090.0,1097.5" fill="none" stroke="#3b3b3b" stroke-width="1.3"/>
<path d="M1132.5,1100.62 L1116.59,1116.53 A22.5,22.5 0 0 0 1132.5,1123.12 Z" fill="#e3e4e6" stroke="none"/>
<path d="M1132.5,1100.62 L1116.59,1116.53 A22.5,22.5 0 0 0 1132.5,1123.12" fill="none" stroke="#3b3b3b" stroke-width="1.3"/>
<path d="M1090.0,1121.88 L1072.76,1104.64 A24.38,24.38 0 0 1 1090.0,1097.5 Z" fill="#e3e4e6" stroke="none"/>
<path d="M1090.0,1121.88 L1072.76,1104.64 A24.38,24.38 0 0 1 1090.0,1097.5" fill="none" stroke="#3b3b3b" stroke-width="1.3"/>
<path d="M1090.0,1142.5 L1073.21,1159.29 A23.75,23.75 0 0 0 1090.0,1166.25 Z" fill="#e3e4e6" stroke="none"/>
<path d="M1090.0,1142.5 L1073.21,1159.29 A23.75,23.75 0 0 0 1090.0,1166.25" fill="none" stroke="#3b3b3b" stroke-width="1.3"/>
<path d="M1155.62,1160.0 L1177.55,1181.92 A31.0,31.0 0 0 1 1155.62,1191.0 Z" fill="#fff" stroke="none"/>
<path d="M1155.62,1160.0 L1177.55,1181.92 A31.0,31.0 0 0 1 1155.62,1191.0" fill="none" stroke="#3b3b3b" stroke-width="1.3"/>
<path d="M1210.0,1221.88 L1232.1,1243.97 A31.25,31.25 0 0 1 1210.0,1253.12 Z" fill="#fff" stroke="none"/>
<path d="M1210.0,1221.88 L1232.1,1243.97 A31.25,31.25 0 0 1 1210.0,1253.12" fill="none" stroke="#3b3b3b" stroke-width="1.3"/>
<path d="M1215.0,1266.25 L1237.54,1288.79 A31.88,31.88 0 0 0 1246.88,1266.25 Z" fill="#fff" stroke="none"/>
<path d="M1215.0,1266.25 L1237.54,1288.79 A31.88,31.88 0 0 0 1246.88,1266.25" fill="none" stroke="#3b3b3b" stroke-width="1.3"/>
<path d="M1058.75,1311.88 L1040.01,1293.14 A26.5,26.5 0 0 0 1032.25,1311.88 Z" fill="#e3e4e6" stroke="none"/>
<path d="M1058.75,1311.88 L1040.01,1293.14 A26.5,26.5 0 0 0 1032.25,1311.88" fill="none" stroke="#3b3b3b" stroke-width="1.3"/>
<path d="M1063.12,1240.0 L1046.51,1256.62 A23.5,23.5 0 0 0 1063.12,1263.5 Z" fill="#e3e4e6" stroke="none"/>
<path d="M1063.12,1240.0 L1046.51,1256.62 A23.5,23.5 0 0 0 1063.12,1263.5" fill="none" stroke="#3b3b3b" stroke-width="1.3"/>
<path d="M1097.5,1343.75 L1080.88,1327.13 A23.5,23.5 0 0 0 1074.0,1343.75 Z" fill="#e3e4e6" stroke="none"/>
<path d="M1097.5,1343.75 L1080.88,1327.13 A23.5,23.5 0 0 0 1074.0,1343.75" fill="none" stroke="#3b3b3b" stroke-width="1.3"/>
<path d="M1155.0,1340.0 L1177.1,1317.9 A31.25,31.25 0 0 0 1155.0,1308.75 Z" fill="#fff" stroke="none"/>
<path d="M1155.0,1340.0 L1177.1,1317.9 A31.25,31.25 0 0 0 1155.0,1308.75" fill="none" stroke="#3b3b3b" stroke-width="1.3"/>
<path d="M1155.62,1444.75 L1177.72,1422.65 A31.25,31.25 0 0 0 1155.62,1413.5 Z" fill="#fff" stroke="none"/>
<path d="M1155.62,1444.75 L1177.72,1422.65 A31.25,31.25 0 0 0 1155.62,1413.5" fill="none" stroke="#3b3b3b" stroke-width="1.3"/>
<path d="M1076.25,1446.88 L1060.34,1430.97 A22.5,22.5 0 0 0 1053.75,1446.88 Z" fill="#e3e4e6" stroke="none"/>
<path d="M1076.25,1446.88 L1060.34,1430.97 A22.5,22.5 0 0 0 1053.75,1446.88" fill="none" stroke="#3b3b3b" stroke-width="1.3"/>
<path d="M1106.88,1465.0 L1122.78,1480.91 A22.5,22.5 0 0 0 1129.38,1465.0 Z" fill="#e3e4e6" stroke="none"/>
<path d="M1106.88,1465.0 L1122.78,1480.91 A22.5,22.5 0 0 0 1129.38,1465.0" fill="none" stroke="#3b3b3b" stroke-width="1.3"/>
<path d="M1056.88,1588.12 L1040.97,1572.22 A22.5,22.5 0 0 0 1034.38,1588.12 Z" fill="#e3e4e6" stroke="none"/>
<path d="M1056.88,1588.12 L1040.97,1572.22 A22.5,22.5 0 0 0 1034.38,1588.12" fill="none" stroke="#3b3b3b" stroke-width="1.3"/>
<path d="M1131.25,1588.12 L1114.63,1571.51 A23.5,23.5 0 0 0 1107.75,1588.12 Z" fill="#e3e4e6" stroke="none"/>
<path d="M1131.25,1588.12 L1114.63,1571.51 A23.5,23.5 0 0 0 1107.75,1588.12" fill="none" stroke="#3b3b3b" stroke-width="1.3"/>
<path d="M1104.38,1593.75 L1084.05,1614.08 A28.75,28.75 0 0 0 1104.38,1622.5 Z" fill="#e3e4e6" stroke="none"/>
<path d="M1104.38,1593.75 L1084.05,1614.08 A28.75,28.75 0 0 0 1104.38,1622.5" fill="none" stroke="#3b3b3b" stroke-width="1.3"/>
<path d="M1157.25,1486.25 L1179.97,1463.53 A32.12,32.12 0 0 1 1189.38,1486.25 Z" fill="#fff" stroke="none"/>
<path d="M1157.25,1486.25 L1179.97,1463.53 A32.12,32.12 0 0 1 1189.38,1486.25" fill="none" stroke="#3b3b3b" stroke-width="1.3"/>
<path d="M1216.25,1455.62 L1234.19,1473.57 A25.38,25.38 0 0 1 1216.25,1481.0 Z" fill="#fff" stroke="none"/>
<path d="M1216.25,1455.62 L1234.19,1473.57 A25.38,25.38 0 0 1 1216.25,1481.0" fill="none" stroke="#3b3b3b" stroke-width="1.3"/>
<path d="M1417.5,1203.75 L1394.87,1181.12 A32.0,32.0 0 0 0 1385.5,1203.75 Z" fill="#fff" stroke="none"/>
<path d="M1417.5,1203.75 L1394.87,1181.12 A32.0,32.0 0 0 0 1385.5,1203.75" fill="none" stroke="#3b3b3b" stroke-width="1.3"/>
<rect x="1385.5" y="1204.38" width="32.0" height="8.12" fill="#e3e4e6"/>
<path d="M1382.5,1251.88 L1398.85,1268.23 A23.12,23.12 0 0 1 1382.5,1275.0 Z" fill="#e3e4e6" stroke="none"/>
<path d="M1382.5,1251.88 L1398.85,1268.23 A23.12,23.12 0 0 1 1382.5,1275.0" fill="none" stroke="#3b3b3b" stroke-width="1.3"/>
<path d="M1383.12,1320.62 L1364.83,1338.92 A25.88,25.88 0 0 0 1383.12,1346.5 Z" fill="#e3e4e6" stroke="none"/>
<path d="M1383.12,1320.62 L1364.83,1338.92 A25.88,25.88 0 0 0 1383.12,1346.5" fill="none" stroke="#3b3b3b" stroke-width="1.3"/>
<path d="M1431.5,1254.38 L1447.41,1238.47 A22.5,22.5 0 0 0 1431.5,1231.88 Z" fill="#e3e4e6" stroke="none"/>
<path d="M1431.5,1254.38 L1447.41,1238.47 A22.5,22.5 0 0 0 1431.5,1231.88" fill="none" stroke="#3b3b3b" stroke-width="1.3"/>
<path d="M1618.5,1207.5 L1595.52,1184.52 A32.5,32.5 0 0 0 1586.0,1207.5 Z" fill="#fff" stroke="none"/>
<path d="M1618.5,1207.5 L1595.52,1184.52 A32.5,32.5 0 0 0 1586.0,1207.5" fill="none" stroke="#3b3b3b" stroke-width="1.3"/>
<rect x="1586.0" y="1204.38" width="32.5" height="7.5" fill="#e3e4e6"/>
<path d="M1564.0,1246.25 L1579.91,1262.16 A22.5,22.5 0 0 1 1564.0,1268.75 Z" fill="#e3e4e6" stroke="none"/>
<path d="M1564.0,1246.25 L1579.91,1262.16 A22.5,22.5 0 0 1 1564.0,1268.75" fill="none" stroke="#3b3b3b" stroke-width="1.3"/>
<path d="M1586.88,1358.12 L1604.55,1375.8 A25.0,25.0 0 0 0 1611.88,1358.12 Z" fill="#e3e4e6" stroke="none"/>
<path d="M1586.88,1358.12 L1604.55,1375.8 A25.0,25.0 0 0 0 1611.88,1358.12" fill="none" stroke="#3b3b3b" stroke-width="1.3"/>
<path d="M896.88,1513.5 L878.93,1531.44 A25.38,25.38 0 0 1 871.5,1513.5 Z" fill="#e3e4e6" stroke="none"/>
<path d="M896.88,1513.5 L878.93,1531.44 A25.38,25.38 0 0 1 871.5,1513.5" fill="none" stroke="#3b3b3b" stroke-width="1.3"/>
<path d="M908.75,1513.5 L926.25,1531.0 A24.75,24.75 0 0 0 933.5,1513.5 Z" fill="#e3e4e6" stroke="none"/>
<path d="M908.75,1513.5 L926.25,1531.0 A24.75,24.75 0 0 0 933.5,1513.5" fill="none" stroke="#3b3b3b" stroke-width="1.3"/>
<path d="M1104.38,1593.12 L1085.37,1612.13 A26.88,26.88 0 0 0 1104.38,1620.0 Z" fill="#e3e4e6" stroke="none"/>
<path d="M1104.38,1593.12 L1085.37,1612.13 A26.88,26.88 0 0 0 1104.38,1620.0" fill="none" stroke="#3b3b3b" stroke-width="1.3"/>
<path d="M1187.5,1627.75 L1168.23,1647.02 A27.25,27.25 0 0 1 1160.25,1627.75 Z" fill="#e3e4e6" stroke="none"/>
<path d="M1187.5,1627.75 L1168.23,1647.02 A27.25,27.25 0 0 1 1160.25,1627.75" fill="none" stroke="#3b3b3b" stroke-width="1.3"/>
<path d="M1723.75,1498.12 L1701.65,1476.03 A31.25,31.25 0 0 0 1692.5,1498.12 Z" fill="#fff" stroke="none"/>
<path d="M1723.75,1498.12 L1701.65,1476.03 A31.25,31.25 0 0 0 1692.5,1498.12" fill="none" stroke="#3b3b3b" stroke-width="1.3"/>
<path d="M1692.5,1566.88 L1711.24,1585.61 A26.5,26.5 0 0 0 1719.0,1566.88 Z" fill="#e3e4e6" stroke="none"/>
<path d="M1692.5,1566.88 L1711.24,1585.61 A26.5,26.5 0 0 0 1719.0,1566.88" fill="none" stroke="#3b3b3b" stroke-width="1.3"/>
<path d="M1692.5,1566.88 L1710.62,1584.99 A25.62,25.62 0 0 0 1718.12,1566.88 Z" fill="#e3e4e6" stroke="none"/>
<path d="M1692.5,1566.88 L1710.62,1584.99 A25.62,25.62 0 0 0 1718.12,1566.88" fill="none" stroke="#3b3b3b" stroke-width="1.3"/>
<path d="M1890.0,1630.62 L1873.82,1614.45 A22.88,22.88 0 0 0 1867.12,1630.62 Z" fill="#e3e4e6" stroke="none"/>
<path d="M1890.0,1630.62 L1873.82,1614.45 A22.88,22.88 0 0 0 1867.12,1630.62" fill="none" stroke="#3b3b3b" stroke-width="1.3"/>
<path d="M1861.25,1669.38 L1880.25,1688.38 A26.88,26.88 0 0 0 1888.12,1669.38 Z" fill="#e3e4e6" stroke="none"/>
<path d="M1861.25,1669.38 L1880.25,1688.38 A26.88,26.88 0 0 0 1888.12,1669.38" fill="none" stroke="#3b3b3b" stroke-width="1.3"/>
<path d="M1890.0,1632.5 L1873.03,1615.53 A24.0,24.0 0 0 0 1866.0,1632.5 Z" fill="#e3e4e6" stroke="none"/>
<path d="M1890.0,1632.5 L1873.03,1615.53 A24.0,24.0 0 0 0 1866.0,1632.5" fill="none" stroke="#3b3b3b" stroke-width="1.3"/>
<path d="M1943.12,1633.12 L1961.24,1615.01 A25.62,25.62 0 0 1 1968.75,1633.12 Z" fill="#e3e4e6" stroke="none"/>
<path d="M1943.12,1633.12 L1961.24,1615.01 A25.62,25.62 0 0 1 1968.75,1633.12" fill="none" stroke="#3b3b3b" stroke-width="1.3"/>
<path d="M1966.25,1583.75 L1950.34,1599.66 A22.5,22.5 0 0 1 1943.75,1583.75 Z" fill="#e3e4e6" stroke="none"/>
<path d="M1966.25,1583.75 L1950.34,1599.66 A22.5,22.5 0 0 1 1943.75,1583.75" fill="none" stroke="#3b3b3b" stroke-width="1.3"/>
<path d="M1973.5,1637.5 L1992.5,1656.5 A26.88,26.88 0 0 1 1973.5,1664.38 Z" fill="#e3e4e6" stroke="none"/>
<path d="M1973.5,1637.5 L1992.5,1656.5 A26.88,26.88 0 0 1 1973.5,1664.38" fill="none" stroke="#3b3b3b" stroke-width="1.3"/>
<path d="M1860.62,1669.38 L1880.07,1688.82 A27.5,27.5 0 0 0 1888.12,1669.38 Z" fill="#e3e4e6" stroke="none"/>
<path d="M1860.62,1669.38 L1880.07,1688.82 A27.5,27.5 0 0 0 1888.12,1669.38" fill="none" stroke="#3b3b3b" stroke-width="1.3"/>
</g>
<g id="L-text" shape-rendering="auto">
<text transform="translate(1059.38,823.12)" font-size="17.5" font-weight="bold" fill="#47584a" text-anchor="middle" textLength="55.6" lengthAdjust="spacingAndGlyphs">9,0 м²</text>
<text transform="translate(1088.75,891.88)" font-size="17.5" font-weight="bold" fill="#47584a" text-anchor="middle" textLength="60" lengthAdjust="spacingAndGlyphs">12,7 м²</text>
<text transform="translate(1060.0,982.75)" font-size="17.5" font-weight="bold" fill="#47584a" text-anchor="middle" textLength="62" lengthAdjust="spacingAndGlyphs">10,8 м²</text>
<text transform="translate(1191.5,950.62)" font-size="17.5" font-weight="bold" fill="#47584a" text-anchor="middle" textLength="53" lengthAdjust="spacingAndGlyphs">4,9 м²</text>
<text transform="translate(1146.25,1001.88)" font-size="17.5" font-weight="bold" fill="#47584a" text-anchor="middle" textLength="25.6" lengthAdjust="spacingAndGlyphs">4,7</text>
<text transform="translate(1208.12,880.0) rotate(-90)" font-size="17.5" font-weight="bold" fill="#47584a" text-anchor="middle" textLength="54" lengthAdjust="spacingAndGlyphs">3,4 м²</text>
</g>
</g>
</svg>
</body></html>
